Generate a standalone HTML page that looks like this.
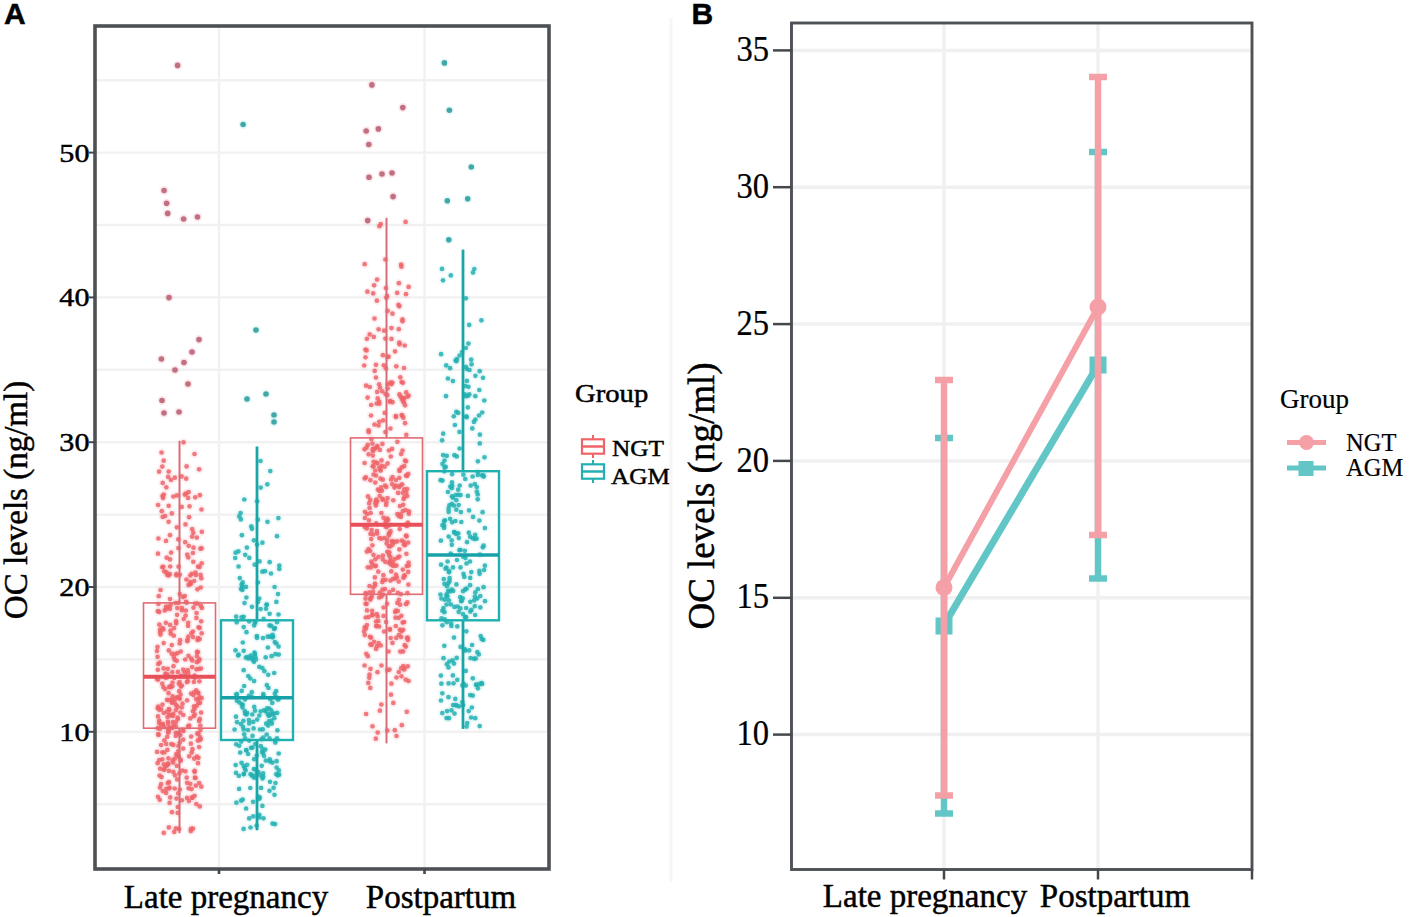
<!DOCTYPE html><html><head><meta charset="utf-8"><style>text{stroke:#000;stroke-width:0.45px}html,body{margin:0;padding:0;background:#fff;width:1410px;height:917px;overflow:hidden}svg{display:block}</style></head><body><svg width="1410" height="917" viewBox="0 0 1410 917">
<rect x="0" y="0" width="1410" height="917" fill="#fff"/>
<line x1="95" y1="804.2" x2="549" y2="804.2" stroke="#f1f1f1" stroke-width="2.4"/>
<line x1="95" y1="731.8" x2="549" y2="731.8" stroke="#f1f1f1" stroke-width="2.4"/>
<line x1="95" y1="659.4" x2="549" y2="659.4" stroke="#f1f1f1" stroke-width="2.4"/>
<line x1="95" y1="587.0" x2="549" y2="587.0" stroke="#f1f1f1" stroke-width="2.4"/>
<line x1="95" y1="514.6" x2="549" y2="514.6" stroke="#f1f1f1" stroke-width="2.4"/>
<line x1="95" y1="442.2" x2="549" y2="442.2" stroke="#f1f1f1" stroke-width="2.4"/>
<line x1="95" y1="369.8" x2="549" y2="369.8" stroke="#f1f1f1" stroke-width="2.4"/>
<line x1="95" y1="297.4" x2="549" y2="297.4" stroke="#f1f1f1" stroke-width="2.4"/>
<line x1="95" y1="225.0" x2="549" y2="225.0" stroke="#f1f1f1" stroke-width="2.4"/>
<line x1="95" y1="152.6" x2="549" y2="152.6" stroke="#f1f1f1" stroke-width="2.4"/>
<line x1="95" y1="80.2" x2="549" y2="80.2" stroke="#f1f1f1" stroke-width="2.4"/>
<line x1="219" y1="26" x2="219" y2="869" stroke="#f1f1f1" stroke-width="2.4"/>
<line x1="424.5" y1="26" x2="424.5" y2="869" stroke="#f1f1f1" stroke-width="2.4"/>
<circle cx="163.8" cy="713.0" r="4.2" fill="#f8c0c8" fill-opacity="0.25"/>
<circle cx="160.3" cy="632.2" r="4.2" fill="#f8c0c8" fill-opacity="0.25"/>
<circle cx="173.5" cy="666.2" r="4.2" fill="#f8c0c8" fill-opacity="0.25"/>
<circle cx="179.8" cy="789.5" r="4.2" fill="#f8c0c8" fill-opacity="0.25"/>
<circle cx="176.5" cy="798.6" r="4.2" fill="#f8c0c8" fill-opacity="0.25"/>
<circle cx="161.1" cy="784.2" r="4.2" fill="#f8c0c8" fill-opacity="0.25"/>
<circle cx="194.2" cy="692.3" r="4.2" fill="#f8c0c8" fill-opacity="0.25"/>
<circle cx="167.0" cy="765.3" r="4.2" fill="#f8c0c8" fill-opacity="0.25"/>
<circle cx="199.6" cy="639.1" r="4.2" fill="#f8c0c8" fill-opacity="0.25"/>
<circle cx="174.9" cy="654.0" r="4.2" fill="#f8c0c8" fill-opacity="0.25"/>
<circle cx="159.1" cy="471.7" r="4.2" fill="#f8c0c8" fill-opacity="0.25"/>
<circle cx="170.0" cy="559.4" r="4.2" fill="#f8c0c8" fill-opacity="0.25"/>
<circle cx="162.3" cy="759.3" r="4.2" fill="#f8c0c8" fill-opacity="0.25"/>
<circle cx="193.7" cy="716.2" r="4.2" fill="#f8c0c8" fill-opacity="0.25"/>
<circle cx="183.2" cy="748.6" r="4.2" fill="#f8c0c8" fill-opacity="0.25"/>
<circle cx="173.8" cy="635.7" r="4.2" fill="#f8c0c8" fill-opacity="0.25"/>
<circle cx="159.8" cy="662.7" r="4.2" fill="#f8c0c8" fill-opacity="0.25"/>
<circle cx="166.3" cy="788.8" r="4.2" fill="#f8c0c8" fill-opacity="0.25"/>
<circle cx="176.2" cy="623.5" r="4.2" fill="#f8c0c8" fill-opacity="0.25"/>
<circle cx="183.4" cy="715.0" r="4.2" fill="#f8c0c8" fill-opacity="0.25"/>
<circle cx="170.5" cy="686.4" r="4.2" fill="#f8c0c8" fill-opacity="0.25"/>
<circle cx="188.5" cy="585.1" r="4.2" fill="#f8c0c8" fill-opacity="0.25"/>
<circle cx="182.8" cy="729.9" r="4.2" fill="#f8c0c8" fill-opacity="0.25"/>
<circle cx="196.4" cy="669.3" r="4.2" fill="#f8c0c8" fill-opacity="0.25"/>
<circle cx="170.0" cy="609.0" r="4.2" fill="#f8c0c8" fill-opacity="0.25"/>
<circle cx="162.3" cy="466.6" r="4.2" fill="#f8c0c8" fill-opacity="0.25"/>
<circle cx="191.1" cy="693.6" r="4.2" fill="#f8c0c8" fill-opacity="0.25"/>
<circle cx="179.0" cy="757.0" r="4.2" fill="#f8c0c8" fill-opacity="0.25"/>
<circle cx="187.1" cy="797.9" r="4.2" fill="#f8c0c8" fill-opacity="0.25"/>
<circle cx="182.8" cy="597.1" r="4.2" fill="#f8c0c8" fill-opacity="0.25"/>
<circle cx="171.1" cy="552.6" r="4.2" fill="#f8c0c8" fill-opacity="0.25"/>
<circle cx="183.7" cy="619.1" r="4.2" fill="#f8c0c8" fill-opacity="0.25"/>
<circle cx="177.5" cy="653.2" r="4.2" fill="#f8c0c8" fill-opacity="0.25"/>
<circle cx="199.5" cy="566.9" r="4.2" fill="#f8c0c8" fill-opacity="0.25"/>
<circle cx="186.9" cy="682.1" r="4.2" fill="#f8c0c8" fill-opacity="0.25"/>
<circle cx="188.6" cy="788.3" r="4.2" fill="#f8c0c8" fill-opacity="0.25"/>
<circle cx="201.7" cy="633.3" r="4.2" fill="#f8c0c8" fill-opacity="0.25"/>
<circle cx="169.8" cy="574.1" r="4.2" fill="#f8c0c8" fill-opacity="0.25"/>
<circle cx="187.1" cy="700.3" r="4.2" fill="#f8c0c8" fill-opacity="0.25"/>
<circle cx="177.8" cy="807.0" r="4.2" fill="#f8c0c8" fill-opacity="0.25"/>
<circle cx="162.3" cy="752.3" r="4.2" fill="#f8c0c8" fill-opacity="0.25"/>
<circle cx="191.6" cy="789.1" r="4.2" fill="#f8c0c8" fill-opacity="0.25"/>
<circle cx="168.1" cy="763.7" r="4.2" fill="#f8c0c8" fill-opacity="0.25"/>
<circle cx="196.2" cy="699.2" r="4.2" fill="#f8c0c8" fill-opacity="0.25"/>
<circle cx="177.2" cy="779.4" r="4.2" fill="#f8c0c8" fill-opacity="0.25"/>
<circle cx="196.8" cy="662.2" r="4.2" fill="#f8c0c8" fill-opacity="0.25"/>
<circle cx="195.9" cy="575.1" r="4.2" fill="#f8c0c8" fill-opacity="0.25"/>
<circle cx="175.7" cy="722.3" r="4.2" fill="#f8c0c8" fill-opacity="0.25"/>
<circle cx="196.8" cy="705.8" r="4.2" fill="#f8c0c8" fill-opacity="0.25"/>
<circle cx="163.8" cy="494.5" r="4.2" fill="#f8c0c8" fill-opacity="0.25"/>
<circle cx="167.4" cy="749.9" r="4.2" fill="#f8c0c8" fill-opacity="0.25"/>
<circle cx="178.8" cy="733.1" r="4.2" fill="#f8c0c8" fill-opacity="0.25"/>
<circle cx="168.8" cy="650.4" r="4.2" fill="#f8c0c8" fill-opacity="0.25"/>
<circle cx="175.9" cy="828.4" r="4.2" fill="#f8c0c8" fill-opacity="0.25"/>
<circle cx="182.5" cy="703.7" r="4.2" fill="#f8c0c8" fill-opacity="0.25"/>
<circle cx="188.1" cy="497.9" r="4.2" fill="#f8c0c8" fill-opacity="0.25"/>
<circle cx="184.8" cy="672.2" r="4.2" fill="#f8c0c8" fill-opacity="0.25"/>
<circle cx="159.4" cy="624.7" r="4.2" fill="#f8c0c8" fill-opacity="0.25"/>
<circle cx="192.1" cy="536.7" r="4.2" fill="#f8c0c8" fill-opacity="0.25"/>
<circle cx="192.9" cy="553.0" r="4.2" fill="#f8c0c8" fill-opacity="0.25"/>
<circle cx="175.0" cy="698.9" r="4.2" fill="#f8c0c8" fill-opacity="0.25"/>
<circle cx="185.5" cy="771.3" r="4.2" fill="#f8c0c8" fill-opacity="0.25"/>
<circle cx="160.0" cy="787.6" r="4.2" fill="#f8c0c8" fill-opacity="0.25"/>
<circle cx="164.3" cy="740.3" r="4.2" fill="#f8c0c8" fill-opacity="0.25"/>
<circle cx="159.4" cy="709.7" r="4.2" fill="#f8c0c8" fill-opacity="0.25"/>
<circle cx="163.8" cy="832.9" r="4.2" fill="#f8c0c8" fill-opacity="0.25"/>
<circle cx="173.4" cy="771.9" r="4.2" fill="#f8c0c8" fill-opacity="0.25"/>
<circle cx="196.3" cy="804.0" r="4.2" fill="#f8c0c8" fill-opacity="0.25"/>
<circle cx="163.7" cy="643.1" r="4.2" fill="#f8c0c8" fill-opacity="0.25"/>
<circle cx="172.6" cy="727.7" r="4.2" fill="#f8c0c8" fill-opacity="0.25"/>
<circle cx="162.5" cy="704.7" r="4.2" fill="#f8c0c8" fill-opacity="0.25"/>
<circle cx="201.7" cy="563.3" r="4.2" fill="#f8c0c8" fill-opacity="0.25"/>
<circle cx="178.8" cy="683.8" r="4.2" fill="#f8c0c8" fill-opacity="0.25"/>
<circle cx="161.6" cy="777.1" r="4.2" fill="#f8c0c8" fill-opacity="0.25"/>
<circle cx="168.9" cy="709.1" r="4.2" fill="#f8c0c8" fill-opacity="0.25"/>
<circle cx="164.3" cy="571.3" r="4.2" fill="#f8c0c8" fill-opacity="0.25"/>
<circle cx="199.8" cy="806.4" r="4.2" fill="#f8c0c8" fill-opacity="0.25"/>
<circle cx="163.6" cy="668.4" r="4.2" fill="#f8c0c8" fill-opacity="0.25"/>
<circle cx="158.2" cy="664.0" r="4.2" fill="#f8c0c8" fill-opacity="0.25"/>
<circle cx="201.0" cy="668.5" r="4.2" fill="#f8c0c8" fill-opacity="0.25"/>
<circle cx="188.3" cy="557.5" r="4.2" fill="#f8c0c8" fill-opacity="0.25"/>
<circle cx="173.5" cy="725.9" r="4.2" fill="#f8c0c8" fill-opacity="0.25"/>
<circle cx="191.7" cy="752.6" r="4.2" fill="#f8c0c8" fill-opacity="0.25"/>
<circle cx="192.1" cy="667.1" r="4.2" fill="#f8c0c8" fill-opacity="0.25"/>
<circle cx="167.0" cy="711.8" r="4.2" fill="#f8c0c8" fill-opacity="0.25"/>
<circle cx="201.3" cy="578.3" r="4.2" fill="#f8c0c8" fill-opacity="0.25"/>
<circle cx="193.3" cy="561.8" r="4.2" fill="#f8c0c8" fill-opacity="0.25"/>
<circle cx="190.3" cy="575.5" r="4.2" fill="#f8c0c8" fill-opacity="0.25"/>
<circle cx="180.3" cy="735.0" r="4.2" fill="#f8c0c8" fill-opacity="0.25"/>
<circle cx="158.3" cy="706.5" r="4.2" fill="#f8c0c8" fill-opacity="0.25"/>
<circle cx="169.6" cy="802.9" r="4.2" fill="#f8c0c8" fill-opacity="0.25"/>
<circle cx="188.2" cy="726.3" r="4.2" fill="#f8c0c8" fill-opacity="0.25"/>
<circle cx="177.1" cy="495.4" r="4.2" fill="#f8c0c8" fill-opacity="0.25"/>
<circle cx="201.5" cy="509.5" r="4.2" fill="#f8c0c8" fill-opacity="0.25"/>
<circle cx="173.4" cy="496.5" r="4.2" fill="#f8c0c8" fill-opacity="0.25"/>
<circle cx="167.2" cy="736.9" r="4.2" fill="#f8c0c8" fill-opacity="0.25"/>
<circle cx="166.2" cy="743.9" r="4.2" fill="#f8c0c8" fill-opacity="0.25"/>
<circle cx="197.5" cy="640.1" r="4.2" fill="#f8c0c8" fill-opacity="0.25"/>
<circle cx="178.6" cy="566.7" r="4.2" fill="#f8c0c8" fill-opacity="0.25"/>
<circle cx="193.0" cy="631.6" r="4.2" fill="#f8c0c8" fill-opacity="0.25"/>
<circle cx="186.7" cy="777.6" r="4.2" fill="#f8c0c8" fill-opacity="0.25"/>
<circle cx="192.2" cy="529.2" r="4.2" fill="#f8c0c8" fill-opacity="0.25"/>
<circle cx="178.5" cy="602.9" r="4.2" fill="#f8c0c8" fill-opacity="0.25"/>
<circle cx="192.5" cy="749.2" r="4.2" fill="#f8c0c8" fill-opacity="0.25"/>
<circle cx="193.0" cy="711.2" r="4.2" fill="#f8c0c8" fill-opacity="0.25"/>
<circle cx="174.8" cy="477.7" r="4.2" fill="#f8c0c8" fill-opacity="0.25"/>
<circle cx="199.6" cy="697.1" r="4.2" fill="#f8c0c8" fill-opacity="0.25"/>
<circle cx="164.7" cy="610.4" r="4.2" fill="#f8c0c8" fill-opacity="0.25"/>
<circle cx="163.8" cy="764.3" r="4.2" fill="#f8c0c8" fill-opacity="0.25"/>
<circle cx="193.3" cy="532.8" r="4.2" fill="#f8c0c8" fill-opacity="0.25"/>
<circle cx="194.2" cy="758.7" r="4.2" fill="#f8c0c8" fill-opacity="0.25"/>
<circle cx="186.6" cy="466.4" r="4.2" fill="#f8c0c8" fill-opacity="0.25"/>
<circle cx="181.7" cy="707.5" r="4.2" fill="#f8c0c8" fill-opacity="0.25"/>
<circle cx="157.6" cy="763.2" r="4.2" fill="#f8c0c8" fill-opacity="0.25"/>
<circle cx="186.2" cy="478.7" r="4.2" fill="#f8c0c8" fill-opacity="0.25"/>
<circle cx="199.0" cy="668.9" r="4.2" fill="#f8c0c8" fill-opacity="0.25"/>
<circle cx="196.2" cy="690.4" r="4.2" fill="#f8c0c8" fill-opacity="0.25"/>
<circle cx="166.5" cy="572.4" r="4.2" fill="#f8c0c8" fill-opacity="0.25"/>
<circle cx="170.2" cy="727.8" r="4.2" fill="#f8c0c8" fill-opacity="0.25"/>
<circle cx="183.4" cy="731.0" r="4.2" fill="#f8c0c8" fill-opacity="0.25"/>
<circle cx="175.9" cy="726.3" r="4.2" fill="#f8c0c8" fill-opacity="0.25"/>
<circle cx="198.0" cy="763.2" r="4.2" fill="#f8c0c8" fill-opacity="0.25"/>
<circle cx="177.6" cy="706.8" r="4.2" fill="#f8c0c8" fill-opacity="0.25"/>
<circle cx="197.7" cy="652.2" r="4.2" fill="#f8c0c8" fill-opacity="0.25"/>
<circle cx="198.3" cy="693.1" r="4.2" fill="#f8c0c8" fill-opacity="0.25"/>
<circle cx="180.9" cy="676.3" r="4.2" fill="#f8c0c8" fill-opacity="0.25"/>
<circle cx="157.8" cy="669.8" r="4.2" fill="#f8c0c8" fill-opacity="0.25"/>
<circle cx="165.2" cy="689.1" r="4.2" fill="#f8c0c8" fill-opacity="0.25"/>
<circle cx="193.0" cy="828.6" r="4.2" fill="#f8c0c8" fill-opacity="0.25"/>
<circle cx="178.3" cy="751.0" r="4.2" fill="#f8c0c8" fill-opacity="0.25"/>
<circle cx="182.0" cy="610.3" r="4.2" fill="#f8c0c8" fill-opacity="0.25"/>
<circle cx="180.3" cy="712.6" r="4.2" fill="#f8c0c8" fill-opacity="0.25"/>
<circle cx="192.3" cy="660.4" r="4.2" fill="#f8c0c8" fill-opacity="0.25"/>
<circle cx="182.2" cy="770.5" r="4.2" fill="#f8c0c8" fill-opacity="0.25"/>
<circle cx="169.5" cy="728.6" r="4.2" fill="#f8c0c8" fill-opacity="0.25"/>
<circle cx="179.8" cy="594.0" r="4.2" fill="#f8c0c8" fill-opacity="0.25"/>
<circle cx="191.2" cy="658.5" r="4.2" fill="#f8c0c8" fill-opacity="0.25"/>
<circle cx="176.9" cy="527.3" r="4.2" fill="#f8c0c8" fill-opacity="0.25"/>
<circle cx="179.7" cy="643.5" r="4.2" fill="#f8c0c8" fill-opacity="0.25"/>
<circle cx="188.2" cy="673.2" r="4.2" fill="#f8c0c8" fill-opacity="0.25"/>
<circle cx="181.0" cy="686.6" r="4.2" fill="#f8c0c8" fill-opacity="0.25"/>
<circle cx="199.4" cy="681.3" r="4.2" fill="#f8c0c8" fill-opacity="0.25"/>
<circle cx="196.4" cy="617.9" r="4.2" fill="#f8c0c8" fill-opacity="0.25"/>
<circle cx="168.7" cy="505.8" r="4.2" fill="#f8c0c8" fill-opacity="0.25"/>
<circle cx="199.4" cy="659.2" r="4.2" fill="#f8c0c8" fill-opacity="0.25"/>
<circle cx="163.2" cy="566.8" r="4.2" fill="#f8c0c8" fill-opacity="0.25"/>
<circle cx="176.9" cy="765.9" r="4.2" fill="#f8c0c8" fill-opacity="0.25"/>
<circle cx="167.8" cy="783.0" r="4.2" fill="#f8c0c8" fill-opacity="0.25"/>
<circle cx="187.1" cy="782.8" r="4.2" fill="#f8c0c8" fill-opacity="0.25"/>
<circle cx="197.4" cy="589.3" r="4.2" fill="#f8c0c8" fill-opacity="0.25"/>
<circle cx="189.2" cy="756.3" r="4.2" fill="#f8c0c8" fill-opacity="0.25"/>
<circle cx="163.4" cy="629.4" r="4.2" fill="#f8c0c8" fill-opacity="0.25"/>
<circle cx="200.5" cy="548.7" r="4.2" fill="#f8c0c8" fill-opacity="0.25"/>
<circle cx="199.9" cy="737.1" r="4.2" fill="#f8c0c8" fill-opacity="0.25"/>
<circle cx="178.9" cy="697.7" r="4.2" fill="#f8c0c8" fill-opacity="0.25"/>
<circle cx="194.5" cy="454.0" r="4.2" fill="#f8c0c8" fill-opacity="0.25"/>
<circle cx="176.4" cy="754.2" r="4.2" fill="#f8c0c8" fill-opacity="0.25"/>
<circle cx="172.3" cy="672.2" r="4.2" fill="#f8c0c8" fill-opacity="0.25"/>
<circle cx="171.3" cy="744.1" r="4.2" fill="#f8c0c8" fill-opacity="0.25"/>
<circle cx="157.9" cy="611.2" r="4.2" fill="#f8c0c8" fill-opacity="0.25"/>
<circle cx="176.8" cy="660.8" r="4.2" fill="#f8c0c8" fill-opacity="0.25"/>
<circle cx="171.9" cy="812.2" r="4.2" fill="#f8c0c8" fill-opacity="0.25"/>
<circle cx="180.1" cy="640.2" r="4.2" fill="#f8c0c8" fill-opacity="0.25"/>
<circle cx="201.3" cy="786.7" r="4.2" fill="#f8c0c8" fill-opacity="0.25"/>
<circle cx="200.7" cy="587.5" r="4.2" fill="#f8c0c8" fill-opacity="0.25"/>
<circle cx="169.0" cy="770.9" r="4.2" fill="#f8c0c8" fill-opacity="0.25"/>
<circle cx="192.1" cy="797.7" r="4.2" fill="#f8c0c8" fill-opacity="0.25"/>
<circle cx="162.8" cy="724.0" r="4.2" fill="#f8c0c8" fill-opacity="0.25"/>
<circle cx="198.0" cy="692.8" r="4.2" fill="#f8c0c8" fill-opacity="0.25"/>
<circle cx="168.6" cy="575.3" r="4.2" fill="#f8c0c8" fill-opacity="0.25"/>
<circle cx="198.4" cy="757.8" r="4.2" fill="#f8c0c8" fill-opacity="0.25"/>
<circle cx="188.5" cy="655.9" r="4.2" fill="#f8c0c8" fill-opacity="0.25"/>
<circle cx="159.6" cy="775.5" r="4.2" fill="#f8c0c8" fill-opacity="0.25"/>
<circle cx="176.1" cy="621.2" r="4.2" fill="#f8c0c8" fill-opacity="0.25"/>
<circle cx="199.2" cy="783.1" r="4.2" fill="#f8c0c8" fill-opacity="0.25"/>
<circle cx="193.1" cy="637.1" r="4.2" fill="#f8c0c8" fill-opacity="0.25"/>
<circle cx="195.5" cy="778.0" r="4.2" fill="#f8c0c8" fill-opacity="0.25"/>
<circle cx="195.8" cy="785.7" r="4.2" fill="#f8c0c8" fill-opacity="0.25"/>
<circle cx="172.3" cy="686.3" r="4.2" fill="#f8c0c8" fill-opacity="0.25"/>
<circle cx="198.7" cy="661.1" r="4.2" fill="#f8c0c8" fill-opacity="0.25"/>
<circle cx="162.8" cy="724.5" r="4.2" fill="#f8c0c8" fill-opacity="0.25"/>
<circle cx="167.7" cy="668.8" r="4.2" fill="#f8c0c8" fill-opacity="0.25"/>
<circle cx="164.3" cy="769.5" r="4.2" fill="#f8c0c8" fill-opacity="0.25"/>
<circle cx="166.1" cy="792.9" r="4.2" fill="#f8c0c8" fill-opacity="0.25"/>
<circle cx="170.7" cy="715.4" r="4.2" fill="#f8c0c8" fill-opacity="0.25"/>
<circle cx="170.0" cy="599.1" r="4.2" fill="#f8c0c8" fill-opacity="0.25"/>
<circle cx="165.0" cy="676.7" r="4.2" fill="#f8c0c8" fill-opacity="0.25"/>
<circle cx="157.8" cy="708.2" r="4.2" fill="#f8c0c8" fill-opacity="0.25"/>
<circle cx="157.7" cy="728.1" r="4.2" fill="#f8c0c8" fill-opacity="0.25"/>
<circle cx="181.8" cy="607.9" r="4.2" fill="#f8c0c8" fill-opacity="0.25"/>
<circle cx="178.4" cy="746.0" r="4.2" fill="#f8c0c8" fill-opacity="0.25"/>
<circle cx="161.8" cy="511.2" r="4.2" fill="#f8c0c8" fill-opacity="0.25"/>
<circle cx="176.4" cy="575.3" r="4.2" fill="#f8c0c8" fill-opacity="0.25"/>
<circle cx="194.6" cy="677.8" r="4.2" fill="#f8c0c8" fill-opacity="0.25"/>
<circle cx="179.8" cy="698.8" r="4.2" fill="#f8c0c8" fill-opacity="0.25"/>
<circle cx="201.2" cy="621.3" r="4.2" fill="#f8c0c8" fill-opacity="0.25"/>
<circle cx="194.5" cy="709.1" r="4.2" fill="#f8c0c8" fill-opacity="0.25"/>
<circle cx="185.6" cy="615.7" r="4.2" fill="#f8c0c8" fill-opacity="0.25"/>
<circle cx="172.6" cy="696.4" r="4.2" fill="#f8c0c8" fill-opacity="0.25"/>
<circle cx="162.8" cy="791.1" r="4.2" fill="#f8c0c8" fill-opacity="0.25"/>
<circle cx="190.3" cy="783.8" r="4.2" fill="#f8c0c8" fill-opacity="0.25"/>
<circle cx="164.3" cy="727.0" r="4.2" fill="#f8c0c8" fill-opacity="0.25"/>
<circle cx="194.9" cy="777.7" r="4.2" fill="#f8c0c8" fill-opacity="0.25"/>
<circle cx="187.2" cy="554.6" r="4.2" fill="#f8c0c8" fill-opacity="0.25"/>
<circle cx="167.9" cy="721.6" r="4.2" fill="#f8c0c8" fill-opacity="0.25"/>
<circle cx="177.7" cy="719.3" r="4.2" fill="#f8c0c8" fill-opacity="0.25"/>
<circle cx="177.1" cy="755.4" r="4.2" fill="#f8c0c8" fill-opacity="0.25"/>
<circle cx="200.3" cy="725.5" r="4.2" fill="#f8c0c8" fill-opacity="0.25"/>
<circle cx="181.6" cy="476.4" r="4.2" fill="#f8c0c8" fill-opacity="0.25"/>
<circle cx="200.5" cy="729.8" r="4.2" fill="#f8c0c8" fill-opacity="0.25"/>
<circle cx="173.0" cy="715.9" r="4.2" fill="#f8c0c8" fill-opacity="0.25"/>
<circle cx="174.2" cy="831.9" r="4.2" fill="#f8c0c8" fill-opacity="0.25"/>
<circle cx="179.6" cy="682.0" r="4.2" fill="#f8c0c8" fill-opacity="0.25"/>
<circle cx="179.7" cy="742.6" r="4.2" fill="#f8c0c8" fill-opacity="0.25"/>
<circle cx="168.9" cy="827.4" r="4.2" fill="#f8c0c8" fill-opacity="0.25"/>
<circle cx="175.0" cy="775.3" r="4.2" fill="#f8c0c8" fill-opacity="0.25"/>
<circle cx="158.0" cy="796.8" r="4.2" fill="#f8c0c8" fill-opacity="0.25"/>
<circle cx="167.5" cy="717.0" r="4.2" fill="#f8c0c8" fill-opacity="0.25"/>
<circle cx="180.8" cy="651.5" r="4.2" fill="#f8c0c8" fill-opacity="0.25"/>
<circle cx="186.6" cy="602.7" r="4.2" fill="#f8c0c8" fill-opacity="0.25"/>
<circle cx="196.6" cy="613.0" r="4.2" fill="#f8c0c8" fill-opacity="0.25"/>
<circle cx="171.7" cy="699.5" r="4.2" fill="#f8c0c8" fill-opacity="0.25"/>
<circle cx="163.7" cy="460.7" r="4.2" fill="#f8c0c8" fill-opacity="0.25"/>
<circle cx="185.9" cy="610.6" r="4.2" fill="#f8c0c8" fill-opacity="0.25"/>
<circle cx="194.6" cy="795.8" r="4.2" fill="#f8c0c8" fill-opacity="0.25"/>
<circle cx="185.2" cy="542.2" r="4.2" fill="#f8c0c8" fill-opacity="0.25"/>
<circle cx="193.5" cy="607.7" r="4.2" fill="#f8c0c8" fill-opacity="0.25"/>
<circle cx="180.6" cy="760.7" r="4.2" fill="#f8c0c8" fill-opacity="0.25"/>
<circle cx="194.6" cy="675.5" r="4.2" fill="#f8c0c8" fill-opacity="0.25"/>
<circle cx="194.2" cy="581.0" r="4.2" fill="#f8c0c8" fill-opacity="0.25"/>
<circle cx="197.2" cy="651.9" r="4.2" fill="#f8c0c8" fill-opacity="0.25"/>
<circle cx="188.2" cy="622.8" r="4.2" fill="#f8c0c8" fill-opacity="0.25"/>
<circle cx="158.4" cy="734.1" r="4.2" fill="#f8c0c8" fill-opacity="0.25"/>
<circle cx="173.2" cy="762.6" r="4.2" fill="#f8c0c8" fill-opacity="0.25"/>
<circle cx="194.6" cy="770.9" r="4.2" fill="#f8c0c8" fill-opacity="0.25"/>
<circle cx="185.2" cy="659.5" r="4.2" fill="#f8c0c8" fill-opacity="0.25"/>
<circle cx="187.6" cy="639.5" r="4.2" fill="#f8c0c8" fill-opacity="0.25"/>
<circle cx="157.1" cy="679.0" r="4.2" fill="#f8c0c8" fill-opacity="0.25"/>
<circle cx="190.7" cy="583.8" r="4.2" fill="#f8c0c8" fill-opacity="0.25"/>
<circle cx="181.1" cy="675.9" r="4.2" fill="#f8c0c8" fill-opacity="0.25"/>
<circle cx="160.0" cy="629.7" r="4.2" fill="#f8c0c8" fill-opacity="0.25"/>
<circle cx="168.3" cy="606.8" r="4.2" fill="#f8c0c8" fill-opacity="0.25"/>
<circle cx="169.0" cy="782.2" r="4.2" fill="#f8c0c8" fill-opacity="0.25"/>
<circle cx="166.2" cy="609.0" r="4.2" fill="#f8c0c8" fill-opacity="0.25"/>
<circle cx="200.9" cy="605.9" r="4.2" fill="#f8c0c8" fill-opacity="0.25"/>
<circle cx="174.2" cy="678.0" r="4.2" fill="#f8c0c8" fill-opacity="0.25"/>
<circle cx="187.8" cy="681.1" r="4.2" fill="#f8c0c8" fill-opacity="0.25"/>
<circle cx="184.8" cy="596.1" r="4.2" fill="#f8c0c8" fill-opacity="0.25"/>
<circle cx="160.5" cy="634.6" r="4.2" fill="#f8c0c8" fill-opacity="0.25"/>
<circle cx="168.4" cy="758.3" r="4.2" fill="#f8c0c8" fill-opacity="0.25"/>
<circle cx="170.7" cy="604.9" r="4.2" fill="#f8c0c8" fill-opacity="0.25"/>
<circle cx="157.6" cy="656.8" r="4.2" fill="#f8c0c8" fill-opacity="0.25"/>
<circle cx="169.1" cy="788.3" r="4.2" fill="#f8c0c8" fill-opacity="0.25"/>
<circle cx="188.1" cy="626.0" r="4.2" fill="#f8c0c8" fill-opacity="0.25"/>
<circle cx="170.1" cy="624.9" r="4.2" fill="#f8c0c8" fill-opacity="0.25"/>
<circle cx="177.9" cy="671.9" r="4.2" fill="#f8c0c8" fill-opacity="0.25"/>
<circle cx="162.3" cy="683.7" r="4.2" fill="#f8c0c8" fill-opacity="0.25"/>
<circle cx="166.0" cy="540.9" r="4.2" fill="#f8c0c8" fill-opacity="0.25"/>
<circle cx="199.1" cy="469.3" r="4.2" fill="#f8c0c8" fill-opacity="0.25"/>
<circle cx="177.7" cy="812.9" r="4.2" fill="#f8c0c8" fill-opacity="0.25"/>
<circle cx="200.6" cy="574.9" r="4.2" fill="#f8c0c8" fill-opacity="0.25"/>
<circle cx="169.1" cy="687.2" r="4.2" fill="#f8c0c8" fill-opacity="0.25"/>
<circle cx="199.6" cy="740.0" r="4.2" fill="#f8c0c8" fill-opacity="0.25"/>
<circle cx="183.2" cy="739.7" r="4.2" fill="#f8c0c8" fill-opacity="0.25"/>
<circle cx="180.6" cy="760.0" r="4.2" fill="#f8c0c8" fill-opacity="0.25"/>
<circle cx="163.0" cy="498.1" r="4.2" fill="#f8c0c8" fill-opacity="0.25"/>
<circle cx="179.9" cy="574.8" r="4.2" fill="#f8c0c8" fill-opacity="0.25"/>
<circle cx="188.7" cy="545.8" r="4.2" fill="#f8c0c8" fill-opacity="0.25"/>
<circle cx="197.4" cy="733.7" r="4.2" fill="#f8c0c8" fill-opacity="0.25"/>
<circle cx="158.1" cy="679.6" r="4.2" fill="#f8c0c8" fill-opacity="0.25"/>
<circle cx="179.1" cy="829.0" r="4.2" fill="#f8c0c8" fill-opacity="0.25"/>
<circle cx="170.6" cy="686.9" r="4.2" fill="#f8c0c8" fill-opacity="0.25"/>
<circle cx="172.5" cy="760.3" r="4.2" fill="#f8c0c8" fill-opacity="0.25"/>
<circle cx="194.8" cy="714.6" r="4.2" fill="#f8c0c8" fill-opacity="0.25"/>
<circle cx="190.8" cy="831.1" r="4.2" fill="#f8c0c8" fill-opacity="0.25"/>
<circle cx="162.4" cy="567.2" r="4.2" fill="#f8c0c8" fill-opacity="0.25"/>
<circle cx="189.1" cy="517.2" r="4.2" fill="#f8c0c8" fill-opacity="0.25"/>
<circle cx="170.0" cy="535.2" r="4.2" fill="#f8c0c8" fill-opacity="0.25"/>
<circle cx="174.7" cy="703.0" r="4.2" fill="#f8c0c8" fill-opacity="0.25"/>
<circle cx="183.5" cy="442.3" r="4.2" fill="#f8c0c8" fill-opacity="0.25"/>
<circle cx="176.3" cy="705.4" r="4.2" fill="#f8c0c8" fill-opacity="0.25"/>
<circle cx="159.2" cy="723.0" r="4.2" fill="#f8c0c8" fill-opacity="0.25"/>
<circle cx="194.6" cy="771.8" r="4.2" fill="#f8c0c8" fill-opacity="0.25"/>
<circle cx="199.1" cy="720.9" r="4.2" fill="#f8c0c8" fill-opacity="0.25"/>
<circle cx="169.0" cy="728.4" r="4.2" fill="#f8c0c8" fill-opacity="0.25"/>
<circle cx="165.5" cy="673.5" r="4.2" fill="#f8c0c8" fill-opacity="0.25"/>
<circle cx="200.0" cy="702.8" r="4.2" fill="#f8c0c8" fill-opacity="0.25"/>
<circle cx="193.5" cy="547.7" r="4.2" fill="#f8c0c8" fill-opacity="0.25"/>
<circle cx="198.1" cy="638.1" r="4.2" fill="#f8c0c8" fill-opacity="0.25"/>
<circle cx="181.7" cy="506.9" r="4.2" fill="#f8c0c8" fill-opacity="0.25"/>
<circle cx="159.2" cy="611.9" r="4.2" fill="#f8c0c8" fill-opacity="0.25"/>
<circle cx="177.3" cy="608.1" r="4.2" fill="#f8c0c8" fill-opacity="0.25"/>
<circle cx="186.0" cy="601.9" r="4.2" fill="#f8c0c8" fill-opacity="0.25"/>
<circle cx="159.2" cy="720.7" r="4.2" fill="#f8c0c8" fill-opacity="0.25"/>
<circle cx="162.7" cy="516.9" r="4.2" fill="#f8c0c8" fill-opacity="0.25"/>
<circle cx="172.5" cy="682.5" r="4.2" fill="#f8c0c8" fill-opacity="0.25"/>
<circle cx="190.3" cy="718.4" r="4.2" fill="#f8c0c8" fill-opacity="0.25"/>
<circle cx="168.7" cy="471.6" r="4.2" fill="#f8c0c8" fill-opacity="0.25"/>
<circle cx="170.5" cy="630.7" r="4.2" fill="#f8c0c8" fill-opacity="0.25"/>
<circle cx="174.7" cy="659.8" r="4.2" fill="#f8c0c8" fill-opacity="0.25"/>
<circle cx="164.3" cy="752.5" r="4.2" fill="#f8c0c8" fill-opacity="0.25"/>
<circle cx="197.8" cy="740.6" r="4.2" fill="#f8c0c8" fill-opacity="0.25"/>
<circle cx="166.9" cy="677.4" r="4.2" fill="#f8c0c8" fill-opacity="0.25"/>
<circle cx="201.8" cy="531.8" r="4.2" fill="#f8c0c8" fill-opacity="0.25"/>
<circle cx="163.3" cy="687.1" r="4.2" fill="#f8c0c8" fill-opacity="0.25"/>
<circle cx="161.1" cy="745.1" r="4.2" fill="#f8c0c8" fill-opacity="0.25"/>
<circle cx="161.1" cy="709.3" r="4.2" fill="#f8c0c8" fill-opacity="0.25"/>
<circle cx="168.6" cy="731.4" r="4.2" fill="#f8c0c8" fill-opacity="0.25"/>
<circle cx="196.9" cy="656.2" r="4.2" fill="#f8c0c8" fill-opacity="0.25"/>
<circle cx="175.6" cy="603.0" r="4.2" fill="#f8c0c8" fill-opacity="0.25"/>
<circle cx="180.6" cy="694.5" r="4.2" fill="#f8c0c8" fill-opacity="0.25"/>
<circle cx="172.2" cy="702.1" r="4.2" fill="#f8c0c8" fill-opacity="0.25"/>
<circle cx="169.5" cy="787.7" r="4.2" fill="#f8c0c8" fill-opacity="0.25"/>
<circle cx="162.7" cy="482.9" r="4.2" fill="#f8c0c8" fill-opacity="0.25"/>
<circle cx="185.3" cy="675.8" r="4.2" fill="#f8c0c8" fill-opacity="0.25"/>
<circle cx="166.7" cy="557.7" r="4.2" fill="#f8c0c8" fill-opacity="0.25"/>
<circle cx="168.2" cy="723.9" r="4.2" fill="#f8c0c8" fill-opacity="0.25"/>
<circle cx="177.1" cy="697.4" r="4.2" fill="#f8c0c8" fill-opacity="0.25"/>
<circle cx="195.2" cy="497.3" r="4.2" fill="#f8c0c8" fill-opacity="0.25"/>
<circle cx="158.0" cy="553.7" r="4.2" fill="#f8c0c8" fill-opacity="0.25"/>
<circle cx="188.9" cy="801.0" r="4.2" fill="#f8c0c8" fill-opacity="0.25"/>
<circle cx="178.3" cy="539.4" r="4.2" fill="#f8c0c8" fill-opacity="0.25"/>
<circle cx="157.0" cy="651.0" r="4.2" fill="#f8c0c8" fill-opacity="0.25"/>
<circle cx="198.7" cy="699.1" r="4.2" fill="#f8c0c8" fill-opacity="0.25"/>
<circle cx="195.5" cy="572.6" r="4.2" fill="#f8c0c8" fill-opacity="0.25"/>
<circle cx="168.2" cy="476.9" r="4.2" fill="#f8c0c8" fill-opacity="0.25"/>
<circle cx="163.9" cy="769.6" r="4.2" fill="#f8c0c8" fill-opacity="0.25"/>
<circle cx="187.7" cy="670.2" r="4.2" fill="#f8c0c8" fill-opacity="0.25"/>
<circle cx="189.5" cy="506.3" r="4.2" fill="#f8c0c8" fill-opacity="0.25"/>
<circle cx="191.4" cy="633.3" r="4.2" fill="#f8c0c8" fill-opacity="0.25"/>
<circle cx="181.8" cy="685.6" r="4.2" fill="#f8c0c8" fill-opacity="0.25"/>
<circle cx="192.2" cy="797.7" r="4.2" fill="#f8c0c8" fill-opacity="0.25"/>
<circle cx="198.4" cy="733.3" r="4.2" fill="#f8c0c8" fill-opacity="0.25"/>
<circle cx="170.7" cy="633.8" r="4.2" fill="#f8c0c8" fill-opacity="0.25"/>
<circle cx="168.3" cy="764.1" r="4.2" fill="#f8c0c8" fill-opacity="0.25"/>
<circle cx="188.4" cy="636.5" r="4.2" fill="#f8c0c8" fill-opacity="0.25"/>
<circle cx="160.2" cy="768.7" r="4.2" fill="#f8c0c8" fill-opacity="0.25"/>
<circle cx="183.2" cy="669.6" r="4.2" fill="#f8c0c8" fill-opacity="0.25"/>
<circle cx="167.1" cy="699.8" r="4.2" fill="#f8c0c8" fill-opacity="0.25"/>
<circle cx="157.5" cy="646.9" r="4.2" fill="#f8c0c8" fill-opacity="0.25"/>
<circle cx="177.7" cy="717.6" r="4.2" fill="#f8c0c8" fill-opacity="0.25"/>
<circle cx="186.0" cy="493.6" r="4.2" fill="#f8c0c8" fill-opacity="0.25"/>
<circle cx="178.4" cy="548.1" r="4.2" fill="#f8c0c8" fill-opacity="0.25"/>
<circle cx="168.1" cy="732.7" r="4.2" fill="#f8c0c8" fill-opacity="0.25"/>
<circle cx="188.7" cy="492.1" r="4.2" fill="#f8c0c8" fill-opacity="0.25"/>
<circle cx="158.0" cy="716.4" r="4.2" fill="#f8c0c8" fill-opacity="0.25"/>
<circle cx="187.4" cy="677.1" r="4.2" fill="#f8c0c8" fill-opacity="0.25"/>
<circle cx="168.6" cy="693.2" r="4.2" fill="#f8c0c8" fill-opacity="0.25"/>
<circle cx="198.6" cy="627.3" r="4.2" fill="#f8c0c8" fill-opacity="0.25"/>
<circle cx="158.5" cy="735.0" r="4.2" fill="#f8c0c8" fill-opacity="0.25"/>
<circle cx="175.9" cy="710.1" r="4.2" fill="#f8c0c8" fill-opacity="0.25"/>
<circle cx="165.9" cy="622.8" r="4.2" fill="#f8c0c8" fill-opacity="0.25"/>
<circle cx="190.3" cy="584.1" r="4.2" fill="#f8c0c8" fill-opacity="0.25"/>
<circle cx="166.2" cy="675.3" r="4.2" fill="#f8c0c8" fill-opacity="0.25"/>
<circle cx="171.0" cy="480.0" r="4.2" fill="#f8c0c8" fill-opacity="0.25"/>
<circle cx="167.4" cy="574.9" r="4.2" fill="#f8c0c8" fill-opacity="0.25"/>
<circle cx="191.2" cy="736.6" r="4.2" fill="#f8c0c8" fill-opacity="0.25"/>
<circle cx="199.8" cy="718.9" r="4.2" fill="#f8c0c8" fill-opacity="0.25"/>
<circle cx="165.4" cy="677.6" r="4.2" fill="#f8c0c8" fill-opacity="0.25"/>
<circle cx="175.8" cy="736.0" r="4.2" fill="#f8c0c8" fill-opacity="0.25"/>
<circle cx="199.7" cy="627.9" r="4.2" fill="#f8c0c8" fill-opacity="0.25"/>
<circle cx="174.7" cy="758.7" r="4.2" fill="#f8c0c8" fill-opacity="0.25"/>
<circle cx="200.8" cy="739.1" r="4.2" fill="#f8c0c8" fill-opacity="0.25"/>
<circle cx="159.3" cy="760.0" r="4.2" fill="#f8c0c8" fill-opacity="0.25"/>
<circle cx="174.7" cy="788.5" r="4.2" fill="#f8c0c8" fill-opacity="0.25"/>
<circle cx="196.8" cy="537.6" r="4.2" fill="#f8c0c8" fill-opacity="0.25"/>
<circle cx="201.9" cy="608.0" r="4.2" fill="#f8c0c8" fill-opacity="0.25"/>
<circle cx="171.8" cy="513.4" r="4.2" fill="#f8c0c8" fill-opacity="0.25"/>
<circle cx="199.1" cy="747.1" r="4.2" fill="#f8c0c8" fill-opacity="0.25"/>
<circle cx="158.4" cy="604.0" r="4.2" fill="#f8c0c8" fill-opacity="0.25"/>
<circle cx="174.0" cy="628.2" r="4.2" fill="#f8c0c8" fill-opacity="0.25"/>
<circle cx="171.9" cy="702.7" r="4.2" fill="#f8c0c8" fill-opacity="0.25"/>
<circle cx="157.1" cy="751.9" r="4.2" fill="#f8c0c8" fill-opacity="0.25"/>
<circle cx="172.8" cy="722.1" r="4.2" fill="#f8c0c8" fill-opacity="0.25"/>
<circle cx="162.6" cy="496.1" r="4.2" fill="#f8c0c8" fill-opacity="0.25"/>
<circle cx="166.3" cy="487.3" r="4.2" fill="#f8c0c8" fill-opacity="0.25"/>
<circle cx="194.0" cy="706.3" r="4.2" fill="#f8c0c8" fill-opacity="0.25"/>
<circle cx="176.5" cy="574.1" r="4.2" fill="#f8c0c8" fill-opacity="0.25"/>
<circle cx="178.3" cy="793.4" r="4.2" fill="#f8c0c8" fill-opacity="0.25"/>
<circle cx="198.4" cy="702.9" r="4.2" fill="#f8c0c8" fill-opacity="0.25"/>
<circle cx="173.4" cy="744.9" r="4.2" fill="#f8c0c8" fill-opacity="0.25"/>
<circle cx="158.4" cy="538.5" r="4.2" fill="#f8c0c8" fill-opacity="0.25"/>
<circle cx="193.5" cy="695.1" r="4.2" fill="#f8c0c8" fill-opacity="0.25"/>
<circle cx="158.8" cy="596.2" r="4.2" fill="#f8c0c8" fill-opacity="0.25"/>
<circle cx="159.8" cy="799.8" r="4.2" fill="#f8c0c8" fill-opacity="0.25"/>
<circle cx="168.6" cy="521.8" r="4.2" fill="#f8c0c8" fill-opacity="0.25"/>
<circle cx="197.4" cy="603.7" r="4.2" fill="#f8c0c8" fill-opacity="0.25"/>
<circle cx="169.3" cy="709.9" r="4.2" fill="#f8c0c8" fill-opacity="0.25"/>
<circle cx="184.8" cy="494.6" r="4.2" fill="#f8c0c8" fill-opacity="0.25"/>
<circle cx="189.2" cy="725.7" r="4.2" fill="#f8c0c8" fill-opacity="0.25"/>
<circle cx="169.4" cy="714.5" r="4.2" fill="#f8c0c8" fill-opacity="0.25"/>
<circle cx="191.0" cy="828.8" r="4.2" fill="#f8c0c8" fill-opacity="0.25"/>
<circle cx="185.5" cy="524.4" r="4.2" fill="#f8c0c8" fill-opacity="0.25"/>
<circle cx="158.1" cy="505.0" r="4.2" fill="#f8c0c8" fill-opacity="0.25"/>
<circle cx="178.4" cy="732.9" r="4.2" fill="#f8c0c8" fill-opacity="0.25"/>
<circle cx="199.9" cy="495.2" r="4.2" fill="#f8c0c8" fill-opacity="0.25"/>
<circle cx="168.3" cy="700.1" r="4.2" fill="#f8c0c8" fill-opacity="0.25"/>
<circle cx="179.2" cy="691.2" r="4.2" fill="#f8c0c8" fill-opacity="0.25"/>
<circle cx="165.2" cy="516.0" r="4.2" fill="#f8c0c8" fill-opacity="0.25"/>
<circle cx="190.2" cy="581.8" r="4.2" fill="#f8c0c8" fill-opacity="0.25"/>
<circle cx="191.8" cy="573.8" r="4.2" fill="#f8c0c8" fill-opacity="0.25"/>
<circle cx="171.8" cy="645.1" r="4.2" fill="#f8c0c8" fill-opacity="0.25"/>
<circle cx="173.3" cy="713.9" r="4.2" fill="#f8c0c8" fill-opacity="0.25"/>
<circle cx="160.6" cy="590.0" r="4.2" fill="#f8c0c8" fill-opacity="0.25"/>
<circle cx="190.9" cy="743.7" r="4.2" fill="#f8c0c8" fill-opacity="0.25"/>
<circle cx="159.9" cy="729.0" r="4.2" fill="#f8c0c8" fill-opacity="0.25"/>
<circle cx="181.9" cy="800.3" r="4.2" fill="#f8c0c8" fill-opacity="0.25"/>
<circle cx="201.1" cy="712.6" r="4.2" fill="#f8c0c8" fill-opacity="0.25"/>
<circle cx="201.5" cy="548.3" r="4.2" fill="#f8c0c8" fill-opacity="0.25"/>
<circle cx="160.8" cy="725.1" r="4.2" fill="#f8c0c8" fill-opacity="0.25"/>
<circle cx="179.4" cy="773.4" r="4.2" fill="#f8c0c8" fill-opacity="0.25"/>
<circle cx="177.1" cy="614.8" r="4.2" fill="#f8c0c8" fill-opacity="0.25"/>
<circle cx="175.8" cy="732.8" r="4.2" fill="#f8c0c8" fill-opacity="0.25"/>
<circle cx="187.3" cy="641.2" r="4.2" fill="#f8c0c8" fill-opacity="0.25"/>
<circle cx="195.1" cy="603.5" r="4.2" fill="#f8c0c8" fill-opacity="0.25"/>
<circle cx="162.5" cy="628.2" r="4.2" fill="#f8c0c8" fill-opacity="0.25"/>
<circle cx="170.2" cy="566.5" r="4.2" fill="#f8c0c8" fill-opacity="0.25"/>
<circle cx="173.8" cy="657.0" r="4.2" fill="#f8c0c8" fill-opacity="0.25"/>
<circle cx="166.0" cy="606.5" r="4.2" fill="#f8c0c8" fill-opacity="0.25"/>
<circle cx="168.0" cy="728.9" r="4.2" fill="#f8c0c8" fill-opacity="0.25"/>
<circle cx="196.8" cy="756.6" r="4.2" fill="#f8c0c8" fill-opacity="0.25"/>
<circle cx="171.7" cy="653.7" r="4.2" fill="#f8c0c8" fill-opacity="0.25"/>
<circle cx="201.7" cy="698.1" r="4.2" fill="#f8c0c8" fill-opacity="0.25"/>
<circle cx="167.4" cy="674.6" r="4.2" fill="#f8c0c8" fill-opacity="0.25"/>
<circle cx="186.4" cy="579.5" r="4.2" fill="#f8c0c8" fill-opacity="0.25"/>
<circle cx="161.6" cy="452.5" r="4.2" fill="#f8c0c8" fill-opacity="0.25"/>
<circle cx="193.9" cy="682.0" r="4.2" fill="#f8c0c8" fill-opacity="0.25"/>
<circle cx="198.1" cy="566.6" r="4.2" fill="#f8c0c8" fill-opacity="0.25"/>
<circle cx="170.2" cy="797.4" r="4.2" fill="#f8c0c8" fill-opacity="0.25"/>
<circle cx="165.5" cy="766.6" r="4.2" fill="#f8c0c8" fill-opacity="0.25"/>
<circle cx="260.7" cy="487.6" r="4.2" fill="#b8e8ec" fill-opacity="0.25"/>
<circle cx="251.3" cy="526.3" r="4.2" fill="#b8e8ec" fill-opacity="0.25"/>
<circle cx="254.7" cy="564.7" r="4.2" fill="#b8e8ec" fill-opacity="0.25"/>
<circle cx="269.5" cy="738.4" r="4.2" fill="#b8e8ec" fill-opacity="0.25"/>
<circle cx="239.3" cy="516.4" r="4.2" fill="#b8e8ec" fill-opacity="0.25"/>
<circle cx="262.4" cy="668.0" r="4.2" fill="#b8e8ec" fill-opacity="0.25"/>
<circle cx="251.1" cy="747.8" r="4.2" fill="#b8e8ec" fill-opacity="0.25"/>
<circle cx="243.7" cy="765.9" r="4.2" fill="#b8e8ec" fill-opacity="0.25"/>
<circle cx="261.5" cy="739.2" r="4.2" fill="#b8e8ec" fill-opacity="0.25"/>
<circle cx="243.7" cy="650.8" r="4.2" fill="#b8e8ec" fill-opacity="0.25"/>
<circle cx="249.2" cy="818.4" r="4.2" fill="#b8e8ec" fill-opacity="0.25"/>
<circle cx="242.8" cy="642.5" r="4.2" fill="#b8e8ec" fill-opacity="0.25"/>
<circle cx="243.7" cy="729.5" r="4.2" fill="#b8e8ec" fill-opacity="0.25"/>
<circle cx="259.2" cy="598.6" r="4.2" fill="#b8e8ec" fill-opacity="0.25"/>
<circle cx="239.1" cy="788.9" r="4.2" fill="#b8e8ec" fill-opacity="0.25"/>
<circle cx="259.3" cy="715.5" r="4.2" fill="#b8e8ec" fill-opacity="0.25"/>
<circle cx="238.6" cy="654.6" r="4.2" fill="#b8e8ec" fill-opacity="0.25"/>
<circle cx="265.8" cy="760.6" r="4.2" fill="#b8e8ec" fill-opacity="0.25"/>
<circle cx="247.2" cy="713.0" r="4.2" fill="#b8e8ec" fill-opacity="0.25"/>
<circle cx="277.4" cy="730.3" r="4.2" fill="#b8e8ec" fill-opacity="0.25"/>
<circle cx="260.0" cy="729.5" r="4.2" fill="#b8e8ec" fill-opacity="0.25"/>
<circle cx="253.2" cy="721.9" r="4.2" fill="#b8e8ec" fill-opacity="0.25"/>
<circle cx="279.3" cy="565.6" r="4.2" fill="#b8e8ec" fill-opacity="0.25"/>
<circle cx="243.4" cy="720.8" r="4.2" fill="#b8e8ec" fill-opacity="0.25"/>
<circle cx="243.7" cy="627.1" r="4.2" fill="#b8e8ec" fill-opacity="0.25"/>
<circle cx="275.1" cy="824.1" r="4.2" fill="#b8e8ec" fill-opacity="0.25"/>
<circle cx="271.4" cy="710.7" r="4.2" fill="#b8e8ec" fill-opacity="0.25"/>
<circle cx="274.2" cy="713.6" r="4.2" fill="#b8e8ec" fill-opacity="0.25"/>
<circle cx="241.8" cy="704.4" r="4.2" fill="#b8e8ec" fill-opacity="0.25"/>
<circle cx="259.3" cy="814.8" r="4.2" fill="#b8e8ec" fill-opacity="0.25"/>
<circle cx="275.4" cy="654.2" r="4.2" fill="#b8e8ec" fill-opacity="0.25"/>
<circle cx="262.5" cy="778.5" r="4.2" fill="#b8e8ec" fill-opacity="0.25"/>
<circle cx="257.2" cy="719.6" r="4.2" fill="#b8e8ec" fill-opacity="0.25"/>
<circle cx="247.2" cy="764.8" r="4.2" fill="#b8e8ec" fill-opacity="0.25"/>
<circle cx="276.1" cy="691.2" r="4.2" fill="#b8e8ec" fill-opacity="0.25"/>
<circle cx="256.6" cy="773.7" r="4.2" fill="#b8e8ec" fill-opacity="0.25"/>
<circle cx="278.0" cy="594.1" r="4.2" fill="#b8e8ec" fill-opacity="0.25"/>
<circle cx="240.2" cy="752.6" r="4.2" fill="#b8e8ec" fill-opacity="0.25"/>
<circle cx="278.4" cy="518.1" r="4.2" fill="#b8e8ec" fill-opacity="0.25"/>
<circle cx="236.9" cy="700.7" r="4.2" fill="#b8e8ec" fill-opacity="0.25"/>
<circle cx="252.0" cy="528.8" r="4.2" fill="#b8e8ec" fill-opacity="0.25"/>
<circle cx="262.4" cy="542.7" r="4.2" fill="#b8e8ec" fill-opacity="0.25"/>
<circle cx="241.7" cy="584.6" r="4.2" fill="#b8e8ec" fill-opacity="0.25"/>
<circle cx="244.5" cy="603.1" r="4.2" fill="#b8e8ec" fill-opacity="0.25"/>
<circle cx="272.6" cy="713.9" r="4.2" fill="#b8e8ec" fill-opacity="0.25"/>
<circle cx="242.7" cy="582.4" r="4.2" fill="#b8e8ec" fill-opacity="0.25"/>
<circle cx="252.5" cy="747.6" r="4.2" fill="#b8e8ec" fill-opacity="0.25"/>
<circle cx="251.8" cy="692.2" r="4.2" fill="#b8e8ec" fill-opacity="0.25"/>
<circle cx="245.6" cy="770.3" r="4.2" fill="#b8e8ec" fill-opacity="0.25"/>
<circle cx="274.9" cy="628.1" r="4.2" fill="#b8e8ec" fill-opacity="0.25"/>
<circle cx="259.8" cy="797.7" r="4.2" fill="#b8e8ec" fill-opacity="0.25"/>
<circle cx="236.2" cy="616.7" r="4.2" fill="#b8e8ec" fill-opacity="0.25"/>
<circle cx="239.8" cy="578.1" r="4.2" fill="#b8e8ec" fill-opacity="0.25"/>
<circle cx="259.3" cy="666.9" r="4.2" fill="#b8e8ec" fill-opacity="0.25"/>
<circle cx="248.3" cy="658.4" r="4.2" fill="#b8e8ec" fill-opacity="0.25"/>
<circle cx="260.7" cy="711.3" r="4.2" fill="#b8e8ec" fill-opacity="0.25"/>
<circle cx="264.1" cy="710.3" r="4.2" fill="#b8e8ec" fill-opacity="0.25"/>
<circle cx="254.2" cy="706.8" r="4.2" fill="#b8e8ec" fill-opacity="0.25"/>
<circle cx="262.4" cy="805.9" r="4.2" fill="#b8e8ec" fill-opacity="0.25"/>
<circle cx="245.1" cy="699.5" r="4.2" fill="#b8e8ec" fill-opacity="0.25"/>
<circle cx="269.6" cy="613.8" r="4.2" fill="#b8e8ec" fill-opacity="0.25"/>
<circle cx="242.6" cy="704.8" r="4.2" fill="#b8e8ec" fill-opacity="0.25"/>
<circle cx="239.3" cy="702.3" r="4.2" fill="#b8e8ec" fill-opacity="0.25"/>
<circle cx="253.9" cy="769.0" r="4.2" fill="#b8e8ec" fill-opacity="0.25"/>
<circle cx="254.4" cy="777.7" r="4.2" fill="#b8e8ec" fill-opacity="0.25"/>
<circle cx="236.3" cy="694.6" r="4.2" fill="#b8e8ec" fill-opacity="0.25"/>
<circle cx="238.2" cy="655.5" r="4.2" fill="#b8e8ec" fill-opacity="0.25"/>
<circle cx="269.5" cy="625.4" r="4.2" fill="#b8e8ec" fill-opacity="0.25"/>
<circle cx="236.9" cy="694.2" r="4.2" fill="#b8e8ec" fill-opacity="0.25"/>
<circle cx="251.5" cy="696.6" r="4.2" fill="#b8e8ec" fill-opacity="0.25"/>
<circle cx="240.6" cy="513.1" r="4.2" fill="#b8e8ec" fill-opacity="0.25"/>
<circle cx="279.3" cy="569.0" r="4.2" fill="#b8e8ec" fill-opacity="0.25"/>
<circle cx="271.2" cy="625.9" r="4.2" fill="#b8e8ec" fill-opacity="0.25"/>
<circle cx="278.7" cy="753.5" r="4.2" fill="#b8e8ec" fill-opacity="0.25"/>
<circle cx="277.5" cy="699.1" r="4.2" fill="#b8e8ec" fill-opacity="0.25"/>
<circle cx="241.9" cy="535.2" r="4.2" fill="#b8e8ec" fill-opacity="0.25"/>
<circle cx="276.4" cy="601.9" r="4.2" fill="#b8e8ec" fill-opacity="0.25"/>
<circle cx="250.3" cy="788.0" r="4.2" fill="#b8e8ec" fill-opacity="0.25"/>
<circle cx="241.6" cy="617.3" r="4.2" fill="#b8e8ec" fill-opacity="0.25"/>
<circle cx="246.9" cy="547.6" r="4.2" fill="#b8e8ec" fill-opacity="0.25"/>
<circle cx="241.0" cy="588.9" r="4.2" fill="#b8e8ec" fill-opacity="0.25"/>
<circle cx="275.9" cy="697.1" r="4.2" fill="#b8e8ec" fill-opacity="0.25"/>
<circle cx="246.3" cy="750.0" r="4.2" fill="#b8e8ec" fill-opacity="0.25"/>
<circle cx="248.9" cy="695.9" r="4.2" fill="#b8e8ec" fill-opacity="0.25"/>
<circle cx="242.7" cy="799.5" r="4.2" fill="#b8e8ec" fill-opacity="0.25"/>
<circle cx="276.6" cy="761.2" r="4.2" fill="#b8e8ec" fill-opacity="0.25"/>
<circle cx="274.8" cy="642.1" r="4.2" fill="#b8e8ec" fill-opacity="0.25"/>
<circle cx="269.8" cy="759.4" r="4.2" fill="#b8e8ec" fill-opacity="0.25"/>
<circle cx="258.4" cy="772.2" r="4.2" fill="#b8e8ec" fill-opacity="0.25"/>
<circle cx="250.7" cy="655.5" r="4.2" fill="#b8e8ec" fill-opacity="0.25"/>
<circle cx="259.5" cy="561.4" r="4.2" fill="#b8e8ec" fill-opacity="0.25"/>
<circle cx="274.2" cy="673.0" r="4.2" fill="#b8e8ec" fill-opacity="0.25"/>
<circle cx="279.2" cy="774.7" r="4.2" fill="#b8e8ec" fill-opacity="0.25"/>
<circle cx="252.2" cy="657.6" r="4.2" fill="#b8e8ec" fill-opacity="0.25"/>
<circle cx="246.4" cy="597.5" r="4.2" fill="#b8e8ec" fill-opacity="0.25"/>
<circle cx="260.5" cy="461.0" r="4.2" fill="#b8e8ec" fill-opacity="0.25"/>
<circle cx="268.9" cy="721.4" r="4.2" fill="#b8e8ec" fill-opacity="0.25"/>
<circle cx="242.5" cy="707.5" r="4.2" fill="#b8e8ec" fill-opacity="0.25"/>
<circle cx="236.7" cy="622.3" r="4.2" fill="#b8e8ec" fill-opacity="0.25"/>
<circle cx="245.9" cy="586.9" r="4.2" fill="#b8e8ec" fill-opacity="0.25"/>
<circle cx="278.8" cy="654.6" r="4.2" fill="#b8e8ec" fill-opacity="0.25"/>
<circle cx="264.4" cy="671.2" r="4.2" fill="#b8e8ec" fill-opacity="0.25"/>
<circle cx="234.6" cy="729.5" r="4.2" fill="#b8e8ec" fill-opacity="0.25"/>
<circle cx="241.2" cy="800.7" r="4.2" fill="#b8e8ec" fill-opacity="0.25"/>
<circle cx="254.0" cy="661.8" r="4.2" fill="#b8e8ec" fill-opacity="0.25"/>
<circle cx="274.8" cy="693.8" r="4.2" fill="#b8e8ec" fill-opacity="0.25"/>
<circle cx="244.7" cy="768.1" r="4.2" fill="#b8e8ec" fill-opacity="0.25"/>
<circle cx="235.5" cy="650.3" r="4.2" fill="#b8e8ec" fill-opacity="0.25"/>
<circle cx="250.5" cy="827.5" r="4.2" fill="#b8e8ec" fill-opacity="0.25"/>
<circle cx="250.6" cy="774.2" r="4.2" fill="#b8e8ec" fill-opacity="0.25"/>
<circle cx="260.8" cy="746.2" r="4.2" fill="#b8e8ec" fill-opacity="0.25"/>
<circle cx="243.7" cy="670.2" r="4.2" fill="#b8e8ec" fill-opacity="0.25"/>
<circle cx="255.9" cy="659.4" r="4.2" fill="#b8e8ec" fill-opacity="0.25"/>
<circle cx="276.6" cy="767.5" r="4.2" fill="#b8e8ec" fill-opacity="0.25"/>
<circle cx="241.2" cy="741.6" r="4.2" fill="#b8e8ec" fill-opacity="0.25"/>
<circle cx="263.2" cy="776.8" r="4.2" fill="#b8e8ec" fill-opacity="0.25"/>
<circle cx="269.7" cy="562.2" r="4.2" fill="#b8e8ec" fill-opacity="0.25"/>
<circle cx="246.4" cy="714.4" r="4.2" fill="#b8e8ec" fill-opacity="0.25"/>
<circle cx="263.5" cy="818.3" r="4.2" fill="#b8e8ec" fill-opacity="0.25"/>
<circle cx="250.3" cy="678.5" r="4.2" fill="#b8e8ec" fill-opacity="0.25"/>
<circle cx="254.5" cy="652.7" r="4.2" fill="#b8e8ec" fill-opacity="0.25"/>
<circle cx="267.5" cy="521.8" r="4.2" fill="#b8e8ec" fill-opacity="0.25"/>
<circle cx="275.2" cy="740.4" r="4.2" fill="#b8e8ec" fill-opacity="0.25"/>
<circle cx="258.4" cy="796.6" r="4.2" fill="#b8e8ec" fill-opacity="0.25"/>
<circle cx="245.2" cy="713.7" r="4.2" fill="#b8e8ec" fill-opacity="0.25"/>
<circle cx="269.5" cy="790.8" r="4.2" fill="#b8e8ec" fill-opacity="0.25"/>
<circle cx="259.3" cy="817.4" r="4.2" fill="#b8e8ec" fill-opacity="0.25"/>
<circle cx="240.9" cy="519.4" r="4.2" fill="#b8e8ec" fill-opacity="0.25"/>
<circle cx="261.9" cy="752.1" r="4.2" fill="#b8e8ec" fill-opacity="0.25"/>
<circle cx="263.4" cy="695.6" r="4.2" fill="#b8e8ec" fill-opacity="0.25"/>
<circle cx="242.4" cy="589.9" r="4.2" fill="#b8e8ec" fill-opacity="0.25"/>
<circle cx="248.0" cy="730.0" r="4.2" fill="#b8e8ec" fill-opacity="0.25"/>
<circle cx="274.5" cy="794.8" r="4.2" fill="#b8e8ec" fill-opacity="0.25"/>
<circle cx="266.7" cy="604.5" r="4.2" fill="#b8e8ec" fill-opacity="0.25"/>
<circle cx="272.5" cy="823.6" r="4.2" fill="#b8e8ec" fill-opacity="0.25"/>
<circle cx="255.4" cy="621.8" r="4.2" fill="#b8e8ec" fill-opacity="0.25"/>
<circle cx="254.9" cy="622.9" r="4.2" fill="#b8e8ec" fill-opacity="0.25"/>
<circle cx="239.2" cy="745.8" r="4.2" fill="#b8e8ec" fill-opacity="0.25"/>
<circle cx="236.2" cy="744.3" r="4.2" fill="#b8e8ec" fill-opacity="0.25"/>
<circle cx="268.2" cy="725.6" r="4.2" fill="#b8e8ec" fill-opacity="0.25"/>
<circle cx="272.5" cy="637.3" r="4.2" fill="#b8e8ec" fill-opacity="0.25"/>
<circle cx="246.5" cy="632.2" r="4.2" fill="#b8e8ec" fill-opacity="0.25"/>
<circle cx="254.1" cy="681.1" r="4.2" fill="#b8e8ec" fill-opacity="0.25"/>
<circle cx="258.0" cy="601.9" r="4.2" fill="#b8e8ec" fill-opacity="0.25"/>
<circle cx="263.4" cy="737.5" r="4.2" fill="#b8e8ec" fill-opacity="0.25"/>
<circle cx="244.3" cy="499.5" r="4.2" fill="#b8e8ec" fill-opacity="0.25"/>
<circle cx="235.2" cy="558.0" r="4.2" fill="#b8e8ec" fill-opacity="0.25"/>
<circle cx="245.1" cy="738.3" r="4.2" fill="#b8e8ec" fill-opacity="0.25"/>
<circle cx="277.0" cy="622.2" r="4.2" fill="#b8e8ec" fill-opacity="0.25"/>
<circle cx="249.2" cy="621.5" r="4.2" fill="#b8e8ec" fill-opacity="0.25"/>
<circle cx="249.3" cy="557.9" r="4.2" fill="#b8e8ec" fill-opacity="0.25"/>
<circle cx="275.3" cy="742.6" r="4.2" fill="#b8e8ec" fill-opacity="0.25"/>
<circle cx="265.7" cy="657.3" r="4.2" fill="#b8e8ec" fill-opacity="0.25"/>
<circle cx="278.6" cy="646.6" r="4.2" fill="#b8e8ec" fill-opacity="0.25"/>
<circle cx="272.3" cy="702.9" r="4.2" fill="#b8e8ec" fill-opacity="0.25"/>
<circle cx="273.1" cy="636.5" r="4.2" fill="#b8e8ec" fill-opacity="0.25"/>
<circle cx="267.1" cy="708.4" r="4.2" fill="#b8e8ec" fill-opacity="0.25"/>
<circle cx="248.3" cy="676.0" r="4.2" fill="#b8e8ec" fill-opacity="0.25"/>
<circle cx="262.5" cy="749.1" r="4.2" fill="#b8e8ec" fill-opacity="0.25"/>
<circle cx="275.5" cy="783.0" r="4.2" fill="#b8e8ec" fill-opacity="0.25"/>
<circle cx="235.7" cy="765.1" r="4.2" fill="#b8e8ec" fill-opacity="0.25"/>
<circle cx="276.3" cy="774.2" r="4.2" fill="#b8e8ec" fill-opacity="0.25"/>
<circle cx="240.9" cy="724.0" r="4.2" fill="#b8e8ec" fill-opacity="0.25"/>
<circle cx="236.4" cy="802.7" r="4.2" fill="#b8e8ec" fill-opacity="0.25"/>
<circle cx="263.0" cy="638.1" r="4.2" fill="#b8e8ec" fill-opacity="0.25"/>
<circle cx="267.7" cy="636.7" r="4.2" fill="#b8e8ec" fill-opacity="0.25"/>
<circle cx="261.1" cy="787.9" r="4.2" fill="#b8e8ec" fill-opacity="0.25"/>
<circle cx="271.3" cy="720.9" r="4.2" fill="#b8e8ec" fill-opacity="0.25"/>
<circle cx="274.6" cy="587.0" r="4.2" fill="#b8e8ec" fill-opacity="0.25"/>
<circle cx="273.6" cy="787.8" r="4.2" fill="#b8e8ec" fill-opacity="0.25"/>
<circle cx="277.0" cy="536.2" r="4.2" fill="#b8e8ec" fill-opacity="0.25"/>
<circle cx="243.8" cy="774.1" r="4.2" fill="#b8e8ec" fill-opacity="0.25"/>
<circle cx="236.0" cy="772.9" r="4.2" fill="#b8e8ec" fill-opacity="0.25"/>
<circle cx="271.0" cy="573.5" r="4.2" fill="#b8e8ec" fill-opacity="0.25"/>
<circle cx="271.6" cy="656.2" r="4.2" fill="#b8e8ec" fill-opacity="0.25"/>
<circle cx="247.4" cy="657.0" r="4.2" fill="#b8e8ec" fill-opacity="0.25"/>
<circle cx="238.9" cy="775.8" r="4.2" fill="#b8e8ec" fill-opacity="0.25"/>
<circle cx="243.7" cy="616.8" r="4.2" fill="#b8e8ec" fill-opacity="0.25"/>
<circle cx="253.6" cy="728.4" r="4.2" fill="#b8e8ec" fill-opacity="0.25"/>
<circle cx="246.1" cy="808.5" r="4.2" fill="#b8e8ec" fill-opacity="0.25"/>
<circle cx="266.7" cy="734.5" r="4.2" fill="#b8e8ec" fill-opacity="0.25"/>
<circle cx="248.9" cy="720.1" r="4.2" fill="#b8e8ec" fill-opacity="0.25"/>
<circle cx="257.2" cy="501.3" r="4.2" fill="#b8e8ec" fill-opacity="0.25"/>
<circle cx="262.3" cy="571.7" r="4.2" fill="#b8e8ec" fill-opacity="0.25"/>
<circle cx="253.1" cy="801.8" r="4.2" fill="#b8e8ec" fill-opacity="0.25"/>
<circle cx="269.3" cy="708.5" r="4.2" fill="#b8e8ec" fill-opacity="0.25"/>
<circle cx="266.2" cy="723.7" r="4.2" fill="#b8e8ec" fill-opacity="0.25"/>
<circle cx="244.2" cy="686.0" r="4.2" fill="#b8e8ec" fill-opacity="0.25"/>
<circle cx="238.6" cy="566.5" r="4.2" fill="#b8e8ec" fill-opacity="0.25"/>
<circle cx="242.2" cy="586.9" r="4.2" fill="#b8e8ec" fill-opacity="0.25"/>
<circle cx="243.6" cy="828.9" r="4.2" fill="#b8e8ec" fill-opacity="0.25"/>
<circle cx="278.5" cy="614.5" r="4.2" fill="#b8e8ec" fill-opacity="0.25"/>
<circle cx="256.6" cy="825.7" r="4.2" fill="#b8e8ec" fill-opacity="0.25"/>
<circle cx="270.4" cy="699.2" r="4.2" fill="#b8e8ec" fill-opacity="0.25"/>
<circle cx="256.8" cy="755.6" r="4.2" fill="#b8e8ec" fill-opacity="0.25"/>
<circle cx="271.9" cy="723.6" r="4.2" fill="#b8e8ec" fill-opacity="0.25"/>
<circle cx="277.0" cy="738.3" r="4.2" fill="#b8e8ec" fill-opacity="0.25"/>
<circle cx="244.2" cy="734.3" r="4.2" fill="#b8e8ec" fill-opacity="0.25"/>
<circle cx="256.9" cy="636.0" r="4.2" fill="#b8e8ec" fill-opacity="0.25"/>
<circle cx="263.1" cy="773.4" r="4.2" fill="#b8e8ec" fill-opacity="0.25"/>
<circle cx="270.0" cy="781.8" r="4.2" fill="#b8e8ec" fill-opacity="0.25"/>
<circle cx="269.9" cy="636.7" r="4.2" fill="#b8e8ec" fill-opacity="0.25"/>
<circle cx="250.5" cy="658.1" r="4.2" fill="#b8e8ec" fill-opacity="0.25"/>
<circle cx="252.3" cy="714.5" r="4.2" fill="#b8e8ec" fill-opacity="0.25"/>
<circle cx="238.4" cy="551.4" r="4.2" fill="#b8e8ec" fill-opacity="0.25"/>
<circle cx="235.6" cy="552.7" r="4.2" fill="#b8e8ec" fill-opacity="0.25"/>
<circle cx="246.3" cy="750.5" r="4.2" fill="#b8e8ec" fill-opacity="0.25"/>
<circle cx="257.1" cy="544.6" r="4.2" fill="#b8e8ec" fill-opacity="0.25"/>
<circle cx="274.3" cy="718.2" r="4.2" fill="#b8e8ec" fill-opacity="0.25"/>
<circle cx="255.2" cy="744.0" r="4.2" fill="#b8e8ec" fill-opacity="0.25"/>
<circle cx="268.5" cy="688.0" r="4.2" fill="#b8e8ec" fill-opacity="0.25"/>
<circle cx="263.6" cy="618.9" r="4.2" fill="#b8e8ec" fill-opacity="0.25"/>
<circle cx="249.2" cy="723.4" r="4.2" fill="#b8e8ec" fill-opacity="0.25"/>
<circle cx="272.4" cy="762.6" r="4.2" fill="#b8e8ec" fill-opacity="0.25"/>
<circle cx="267.9" cy="647.5" r="4.2" fill="#b8e8ec" fill-opacity="0.25"/>
<circle cx="254.2" cy="759.2" r="4.2" fill="#b8e8ec" fill-opacity="0.25"/>
<circle cx="260.6" cy="609.1" r="4.2" fill="#b8e8ec" fill-opacity="0.25"/>
<circle cx="255.3" cy="769.6" r="4.2" fill="#b8e8ec" fill-opacity="0.25"/>
<circle cx="245.2" cy="554.8" r="4.2" fill="#b8e8ec" fill-opacity="0.25"/>
<circle cx="248.1" cy="754.0" r="4.2" fill="#b8e8ec" fill-opacity="0.25"/>
<circle cx="272.5" cy="634.8" r="4.2" fill="#b8e8ec" fill-opacity="0.25"/>
<circle cx="241.5" cy="762.8" r="4.2" fill="#b8e8ec" fill-opacity="0.25"/>
<circle cx="249.2" cy="740.6" r="4.2" fill="#b8e8ec" fill-opacity="0.25"/>
<circle cx="241.7" cy="690.9" r="4.2" fill="#b8e8ec" fill-opacity="0.25"/>
<circle cx="243.0" cy="726.8" r="4.2" fill="#b8e8ec" fill-opacity="0.25"/>
<circle cx="267.3" cy="484.3" r="4.2" fill="#b8e8ec" fill-opacity="0.25"/>
<circle cx="277.8" cy="775.3" r="4.2" fill="#b8e8ec" fill-opacity="0.25"/>
<circle cx="251.8" cy="775.4" r="4.2" fill="#b8e8ec" fill-opacity="0.25"/>
<circle cx="270.3" cy="471.1" r="4.2" fill="#b8e8ec" fill-opacity="0.25"/>
<circle cx="254.1" cy="625.5" r="4.2" fill="#b8e8ec" fill-opacity="0.25"/>
<circle cx="263.2" cy="752.9" r="4.2" fill="#b8e8ec" fill-opacity="0.25"/>
<circle cx="243.8" cy="774.1" r="4.2" fill="#b8e8ec" fill-opacity="0.25"/>
<circle cx="236.0" cy="716.7" r="4.2" fill="#b8e8ec" fill-opacity="0.25"/>
<circle cx="270.1" cy="714.9" r="4.2" fill="#b8e8ec" fill-opacity="0.25"/>
<circle cx="257.0" cy="637.8" r="4.2" fill="#b8e8ec" fill-opacity="0.25"/>
<circle cx="255.3" cy="656.8" r="4.2" fill="#b8e8ec" fill-opacity="0.25"/>
<circle cx="261.7" cy="765.8" r="4.2" fill="#b8e8ec" fill-opacity="0.25"/>
<circle cx="267.8" cy="713.9" r="4.2" fill="#b8e8ec" fill-opacity="0.25"/>
<circle cx="253.9" cy="540.3" r="4.2" fill="#b8e8ec" fill-opacity="0.25"/>
<circle cx="268.2" cy="674.8" r="4.2" fill="#b8e8ec" fill-opacity="0.25"/>
<circle cx="244.8" cy="711.1" r="4.2" fill="#b8e8ec" fill-opacity="0.25"/>
<circle cx="274.1" cy="628.9" r="4.2" fill="#b8e8ec" fill-opacity="0.25"/>
<circle cx="266.0" cy="608.8" r="4.2" fill="#b8e8ec" fill-opacity="0.25"/>
<circle cx="265.1" cy="571.2" r="4.2" fill="#b8e8ec" fill-opacity="0.25"/>
<circle cx="254.9" cy="653.9" r="4.2" fill="#b8e8ec" fill-opacity="0.25"/>
<circle cx="262.8" cy="729.4" r="4.2" fill="#b8e8ec" fill-opacity="0.25"/>
<circle cx="253.4" cy="776.3" r="4.2" fill="#b8e8ec" fill-opacity="0.25"/>
<circle cx="266.6" cy="604.8" r="4.2" fill="#b8e8ec" fill-opacity="0.25"/>
<circle cx="245.8" cy="657.6" r="4.2" fill="#b8e8ec" fill-opacity="0.25"/>
<circle cx="255.0" cy="710.7" r="4.2" fill="#b8e8ec" fill-opacity="0.25"/>
<circle cx="252.9" cy="660.1" r="4.2" fill="#b8e8ec" fill-opacity="0.25"/>
<circle cx="276.4" cy="643.5" r="4.2" fill="#b8e8ec" fill-opacity="0.25"/>
<circle cx="264.0" cy="756.0" r="4.2" fill="#b8e8ec" fill-opacity="0.25"/>
<circle cx="252.0" cy="606.8" r="4.2" fill="#b8e8ec" fill-opacity="0.25"/>
<circle cx="278.4" cy="699.5" r="4.2" fill="#b8e8ec" fill-opacity="0.25"/>
<circle cx="259.0" cy="798.9" r="4.2" fill="#b8e8ec" fill-opacity="0.25"/>
<circle cx="269.7" cy="761.3" r="4.2" fill="#b8e8ec" fill-opacity="0.25"/>
<circle cx="257.9" cy="519.7" r="4.2" fill="#b8e8ec" fill-opacity="0.25"/>
<circle cx="260.4" cy="775.5" r="4.2" fill="#b8e8ec" fill-opacity="0.25"/>
<circle cx="266.8" cy="685.1" r="4.2" fill="#b8e8ec" fill-opacity="0.25"/>
<circle cx="263.3" cy="694.0" r="4.2" fill="#b8e8ec" fill-opacity="0.25"/>
<circle cx="258.0" cy="582.5" r="4.2" fill="#b8e8ec" fill-opacity="0.25"/>
<circle cx="277.2" cy="712.9" r="4.2" fill="#b8e8ec" fill-opacity="0.25"/>
<circle cx="265.3" cy="749.6" r="4.2" fill="#b8e8ec" fill-opacity="0.25"/>
<circle cx="268.8" cy="716.0" r="4.2" fill="#b8e8ec" fill-opacity="0.25"/>
<circle cx="278.8" cy="770.4" r="4.2" fill="#b8e8ec" fill-opacity="0.25"/>
<circle cx="237.0" cy="722.2" r="4.2" fill="#b8e8ec" fill-opacity="0.25"/>
<circle cx="252.5" cy="735.9" r="4.2" fill="#b8e8ec" fill-opacity="0.25"/>
<circle cx="253.3" cy="816.4" r="4.2" fill="#b8e8ec" fill-opacity="0.25"/>
<circle cx="265.9" cy="711.2" r="4.2" fill="#b8e8ec" fill-opacity="0.25"/>
<circle cx="375.9" cy="565.8" r="4.2" fill="#f8c0c8" fill-opacity="0.25"/>
<circle cx="397.4" cy="602.9" r="4.2" fill="#f8c0c8" fill-opacity="0.25"/>
<circle cx="387.7" cy="310.9" r="4.2" fill="#f8c0c8" fill-opacity="0.25"/>
<circle cx="400.1" cy="604.7" r="4.2" fill="#f8c0c8" fill-opacity="0.25"/>
<circle cx="373.5" cy="554.8" r="4.2" fill="#f8c0c8" fill-opacity="0.25"/>
<circle cx="398.9" cy="635.0" r="4.2" fill="#f8c0c8" fill-opacity="0.25"/>
<circle cx="392.5" cy="402.2" r="4.2" fill="#f8c0c8" fill-opacity="0.25"/>
<circle cx="389.3" cy="533.3" r="4.2" fill="#f8c0c8" fill-opacity="0.25"/>
<circle cx="407.4" cy="602.4" r="4.2" fill="#f8c0c8" fill-opacity="0.25"/>
<circle cx="392.7" cy="565.6" r="4.2" fill="#f8c0c8" fill-opacity="0.25"/>
<circle cx="400.7" cy="396.7" r="4.2" fill="#f8c0c8" fill-opacity="0.25"/>
<circle cx="377.2" cy="533.6" r="4.2" fill="#f8c0c8" fill-opacity="0.25"/>
<circle cx="369.6" cy="508.0" r="4.2" fill="#f8c0c8" fill-opacity="0.25"/>
<circle cx="380.0" cy="387.7" r="4.2" fill="#f8c0c8" fill-opacity="0.25"/>
<circle cx="376.0" cy="377.6" r="4.2" fill="#f8c0c8" fill-opacity="0.25"/>
<circle cx="375.4" cy="559.2" r="4.2" fill="#f8c0c8" fill-opacity="0.25"/>
<circle cx="372.4" cy="545.3" r="4.2" fill="#f8c0c8" fill-opacity="0.25"/>
<circle cx="396.5" cy="736.0" r="4.2" fill="#f8c0c8" fill-opacity="0.25"/>
<circle cx="375.0" cy="585.6" r="4.2" fill="#f8c0c8" fill-opacity="0.25"/>
<circle cx="385.6" cy="579.8" r="4.2" fill="#f8c0c8" fill-opacity="0.25"/>
<circle cx="392.7" cy="544.6" r="4.2" fill="#f8c0c8" fill-opacity="0.25"/>
<circle cx="380.3" cy="469.4" r="4.2" fill="#f8c0c8" fill-opacity="0.25"/>
<circle cx="402.5" cy="321.3" r="4.2" fill="#f8c0c8" fill-opacity="0.25"/>
<circle cx="401.3" cy="668.2" r="4.2" fill="#f8c0c8" fill-opacity="0.25"/>
<circle cx="399.3" cy="342.7" r="4.2" fill="#f8c0c8" fill-opacity="0.25"/>
<circle cx="401.4" cy="631.3" r="4.2" fill="#f8c0c8" fill-opacity="0.25"/>
<circle cx="364.7" cy="478.5" r="4.2" fill="#f8c0c8" fill-opacity="0.25"/>
<circle cx="406.8" cy="711.8" r="4.2" fill="#f8c0c8" fill-opacity="0.25"/>
<circle cx="375.3" cy="470.5" r="4.2" fill="#f8c0c8" fill-opacity="0.25"/>
<circle cx="370.4" cy="644.4" r="4.2" fill="#f8c0c8" fill-opacity="0.25"/>
<circle cx="398.9" cy="599.8" r="4.2" fill="#f8c0c8" fill-opacity="0.25"/>
<circle cx="370.9" cy="567.4" r="4.2" fill="#f8c0c8" fill-opacity="0.25"/>
<circle cx="399.6" cy="344.3" r="4.2" fill="#f8c0c8" fill-opacity="0.25"/>
<circle cx="404.1" cy="622.0" r="4.2" fill="#f8c0c8" fill-opacity="0.25"/>
<circle cx="399.2" cy="487.1" r="4.2" fill="#f8c0c8" fill-opacity="0.25"/>
<circle cx="404.2" cy="466.2" r="4.2" fill="#f8c0c8" fill-opacity="0.25"/>
<circle cx="401.7" cy="415.1" r="4.2" fill="#f8c0c8" fill-opacity="0.25"/>
<circle cx="395.2" cy="612.0" r="4.2" fill="#f8c0c8" fill-opacity="0.25"/>
<circle cx="397.4" cy="514.0" r="4.2" fill="#f8c0c8" fill-opacity="0.25"/>
<circle cx="403.7" cy="541.8" r="4.2" fill="#f8c0c8" fill-opacity="0.25"/>
<circle cx="375.9" cy="505.6" r="4.2" fill="#f8c0c8" fill-opacity="0.25"/>
<circle cx="370.3" cy="599.6" r="4.2" fill="#f8c0c8" fill-opacity="0.25"/>
<circle cx="366.6" cy="526.7" r="4.2" fill="#f8c0c8" fill-opacity="0.25"/>
<circle cx="370.5" cy="533.9" r="4.2" fill="#f8c0c8" fill-opacity="0.25"/>
<circle cx="386.4" cy="527.1" r="4.2" fill="#f8c0c8" fill-opacity="0.25"/>
<circle cx="402.8" cy="511.0" r="4.2" fill="#f8c0c8" fill-opacity="0.25"/>
<circle cx="401.8" cy="725.2" r="4.2" fill="#f8c0c8" fill-opacity="0.25"/>
<circle cx="389.3" cy="533.6" r="4.2" fill="#f8c0c8" fill-opacity="0.25"/>
<circle cx="401.8" cy="467.3" r="4.2" fill="#f8c0c8" fill-opacity="0.25"/>
<circle cx="382.8" cy="559.5" r="4.2" fill="#f8c0c8" fill-opacity="0.25"/>
<circle cx="367.4" cy="291.7" r="4.2" fill="#f8c0c8" fill-opacity="0.25"/>
<circle cx="392.6" cy="477.1" r="4.2" fill="#f8c0c8" fill-opacity="0.25"/>
<circle cx="391.4" cy="683.7" r="4.2" fill="#f8c0c8" fill-opacity="0.25"/>
<circle cx="405.9" cy="461.3" r="4.2" fill="#f8c0c8" fill-opacity="0.25"/>
<circle cx="408.2" cy="571.9" r="4.2" fill="#f8c0c8" fill-opacity="0.25"/>
<circle cx="385.8" cy="521.0" r="4.2" fill="#f8c0c8" fill-opacity="0.25"/>
<circle cx="365.5" cy="349.5" r="4.2" fill="#f8c0c8" fill-opacity="0.25"/>
<circle cx="392.1" cy="448.9" r="4.2" fill="#f8c0c8" fill-opacity="0.25"/>
<circle cx="402.8" cy="569.6" r="4.2" fill="#f8c0c8" fill-opacity="0.25"/>
<circle cx="385.4" cy="561.9" r="4.2" fill="#f8c0c8" fill-opacity="0.25"/>
<circle cx="398.7" cy="515.9" r="4.2" fill="#f8c0c8" fill-opacity="0.25"/>
<circle cx="383.6" cy="607.5" r="4.2" fill="#f8c0c8" fill-opacity="0.25"/>
<circle cx="388.9" cy="546.3" r="4.2" fill="#f8c0c8" fill-opacity="0.25"/>
<circle cx="377.2" cy="391.9" r="4.2" fill="#f8c0c8" fill-opacity="0.25"/>
<circle cx="382.2" cy="391.3" r="4.2" fill="#f8c0c8" fill-opacity="0.25"/>
<circle cx="376.2" cy="523.4" r="4.2" fill="#f8c0c8" fill-opacity="0.25"/>
<circle cx="407.9" cy="522.5" r="4.2" fill="#f8c0c8" fill-opacity="0.25"/>
<circle cx="399.6" cy="471.0" r="4.2" fill="#f8c0c8" fill-opacity="0.25"/>
<circle cx="378.3" cy="571.7" r="4.2" fill="#f8c0c8" fill-opacity="0.25"/>
<circle cx="390.4" cy="580.6" r="4.2" fill="#f8c0c8" fill-opacity="0.25"/>
<circle cx="399.3" cy="477.9" r="4.2" fill="#f8c0c8" fill-opacity="0.25"/>
<circle cx="396.5" cy="677.5" r="4.2" fill="#f8c0c8" fill-opacity="0.25"/>
<circle cx="388.5" cy="356.7" r="4.2" fill="#f8c0c8" fill-opacity="0.25"/>
<circle cx="377.5" cy="672.2" r="4.2" fill="#f8c0c8" fill-opacity="0.25"/>
<circle cx="372.5" cy="726.3" r="4.2" fill="#f8c0c8" fill-opacity="0.25"/>
<circle cx="391.4" cy="328.1" r="4.2" fill="#f8c0c8" fill-opacity="0.25"/>
<circle cx="399.5" cy="469.8" r="4.2" fill="#f8c0c8" fill-opacity="0.25"/>
<circle cx="391.5" cy="338.9" r="4.2" fill="#f8c0c8" fill-opacity="0.25"/>
<circle cx="392.2" cy="484.2" r="4.2" fill="#f8c0c8" fill-opacity="0.25"/>
<circle cx="390.8" cy="456.5" r="4.2" fill="#f8c0c8" fill-opacity="0.25"/>
<circle cx="373.6" cy="461.8" r="4.2" fill="#f8c0c8" fill-opacity="0.25"/>
<circle cx="384.6" cy="466.7" r="4.2" fill="#f8c0c8" fill-opacity="0.25"/>
<circle cx="368.6" cy="430.3" r="4.2" fill="#f8c0c8" fill-opacity="0.25"/>
<circle cx="365.7" cy="617.5" r="4.2" fill="#f8c0c8" fill-opacity="0.25"/>
<circle cx="405.1" cy="423.2" r="4.2" fill="#f8c0c8" fill-opacity="0.25"/>
<circle cx="380.6" cy="470.6" r="4.2" fill="#f8c0c8" fill-opacity="0.25"/>
<circle cx="399.4" cy="394.4" r="4.2" fill="#f8c0c8" fill-opacity="0.25"/>
<circle cx="375.6" cy="503.2" r="4.2" fill="#f8c0c8" fill-opacity="0.25"/>
<circle cx="383.0" cy="579.8" r="4.2" fill="#f8c0c8" fill-opacity="0.25"/>
<circle cx="383.4" cy="575.2" r="4.2" fill="#f8c0c8" fill-opacity="0.25"/>
<circle cx="406.0" cy="475.5" r="4.2" fill="#f8c0c8" fill-opacity="0.25"/>
<circle cx="389.5" cy="669.6" r="4.2" fill="#f8c0c8" fill-opacity="0.25"/>
<circle cx="369.3" cy="677.8" r="4.2" fill="#f8c0c8" fill-opacity="0.25"/>
<circle cx="389.9" cy="401.7" r="4.2" fill="#f8c0c8" fill-opacity="0.25"/>
<circle cx="384.1" cy="330.7" r="4.2" fill="#f8c0c8" fill-opacity="0.25"/>
<circle cx="381.4" cy="704.5" r="4.2" fill="#f8c0c8" fill-opacity="0.25"/>
<circle cx="406.2" cy="492.8" r="4.2" fill="#f8c0c8" fill-opacity="0.25"/>
<circle cx="385.4" cy="259.5" r="4.2" fill="#f8c0c8" fill-opacity="0.25"/>
<circle cx="368.6" cy="549.1" r="4.2" fill="#f8c0c8" fill-opacity="0.25"/>
<circle cx="373.6" cy="474.5" r="4.2" fill="#f8c0c8" fill-opacity="0.25"/>
<circle cx="364.7" cy="627.4" r="4.2" fill="#f8c0c8" fill-opacity="0.25"/>
<circle cx="394.8" cy="730.2" r="4.2" fill="#f8c0c8" fill-opacity="0.25"/>
<circle cx="407.5" cy="637.6" r="4.2" fill="#f8c0c8" fill-opacity="0.25"/>
<circle cx="403.1" cy="651.4" r="4.2" fill="#f8c0c8" fill-opacity="0.25"/>
<circle cx="364.8" cy="635.1" r="4.2" fill="#f8c0c8" fill-opacity="0.25"/>
<circle cx="374.9" cy="448.5" r="4.2" fill="#f8c0c8" fill-opacity="0.25"/>
<circle cx="372.4" cy="443.6" r="4.2" fill="#f8c0c8" fill-opacity="0.25"/>
<circle cx="398.8" cy="672.0" r="4.2" fill="#f8c0c8" fill-opacity="0.25"/>
<circle cx="402.5" cy="450.5" r="4.2" fill="#f8c0c8" fill-opacity="0.25"/>
<circle cx="367.8" cy="444.9" r="4.2" fill="#f8c0c8" fill-opacity="0.25"/>
<circle cx="395.9" cy="480.0" r="4.2" fill="#f8c0c8" fill-opacity="0.25"/>
<circle cx="406.0" cy="535.7" r="4.2" fill="#f8c0c8" fill-opacity="0.25"/>
<circle cx="407.4" cy="593.1" r="4.2" fill="#f8c0c8" fill-opacity="0.25"/>
<circle cx="364.5" cy="449.3" r="4.2" fill="#f8c0c8" fill-opacity="0.25"/>
<circle cx="393.3" cy="702.9" r="4.2" fill="#f8c0c8" fill-opacity="0.25"/>
<circle cx="367.6" cy="397.6" r="4.2" fill="#f8c0c8" fill-opacity="0.25"/>
<circle cx="396.8" cy="577.3" r="4.2" fill="#f8c0c8" fill-opacity="0.25"/>
<circle cx="402.7" cy="622.6" r="4.2" fill="#f8c0c8" fill-opacity="0.25"/>
<circle cx="366.7" cy="528.5" r="4.2" fill="#f8c0c8" fill-opacity="0.25"/>
<circle cx="389.9" cy="561.6" r="4.2" fill="#f8c0c8" fill-opacity="0.25"/>
<circle cx="394.5" cy="541.8" r="4.2" fill="#f8c0c8" fill-opacity="0.25"/>
<circle cx="399.9" cy="629.7" r="4.2" fill="#f8c0c8" fill-opacity="0.25"/>
<circle cx="393.0" cy="562.8" r="4.2" fill="#f8c0c8" fill-opacity="0.25"/>
<circle cx="382.8" cy="479.7" r="4.2" fill="#f8c0c8" fill-opacity="0.25"/>
<circle cx="399.4" cy="556.5" r="4.2" fill="#f8c0c8" fill-opacity="0.25"/>
<circle cx="399.3" cy="306.3" r="4.2" fill="#f8c0c8" fill-opacity="0.25"/>
<circle cx="377.2" cy="501.5" r="4.2" fill="#f8c0c8" fill-opacity="0.25"/>
<circle cx="407.8" cy="666.3" r="4.2" fill="#f8c0c8" fill-opacity="0.25"/>
<circle cx="401.2" cy="454.1" r="4.2" fill="#f8c0c8" fill-opacity="0.25"/>
<circle cx="391.3" cy="571.4" r="4.2" fill="#f8c0c8" fill-opacity="0.25"/>
<circle cx="401.4" cy="266.7" r="4.2" fill="#f8c0c8" fill-opacity="0.25"/>
<circle cx="377.9" cy="489.6" r="4.2" fill="#f8c0c8" fill-opacity="0.25"/>
<circle cx="404.0" cy="544.6" r="4.2" fill="#f8c0c8" fill-opacity="0.25"/>
<circle cx="394.8" cy="559.0" r="4.2" fill="#f8c0c8" fill-opacity="0.25"/>
<circle cx="404.3" cy="489.4" r="4.2" fill="#f8c0c8" fill-opacity="0.25"/>
<circle cx="376.7" cy="403.5" r="4.2" fill="#f8c0c8" fill-opacity="0.25"/>
<circle cx="375.8" cy="738.7" r="4.2" fill="#f8c0c8" fill-opacity="0.25"/>
<circle cx="390.4" cy="546.3" r="4.2" fill="#f8c0c8" fill-opacity="0.25"/>
<circle cx="403.9" cy="398.4" r="4.2" fill="#f8c0c8" fill-opacity="0.25"/>
<circle cx="401.5" cy="676.3" r="4.2" fill="#f8c0c8" fill-opacity="0.25"/>
<circle cx="403.0" cy="400.9" r="4.2" fill="#f8c0c8" fill-opacity="0.25"/>
<circle cx="376.3" cy="499.7" r="4.2" fill="#f8c0c8" fill-opacity="0.25"/>
<circle cx="400.3" cy="377.3" r="4.2" fill="#f8c0c8" fill-opacity="0.25"/>
<circle cx="405.1" cy="460.6" r="4.2" fill="#f8c0c8" fill-opacity="0.25"/>
<circle cx="367.8" cy="567.3" r="4.2" fill="#f8c0c8" fill-opacity="0.25"/>
<circle cx="399.9" cy="506.1" r="4.2" fill="#f8c0c8" fill-opacity="0.25"/>
<circle cx="397.8" cy="611.0" r="4.2" fill="#f8c0c8" fill-opacity="0.25"/>
<circle cx="374.5" cy="318.6" r="4.2" fill="#f8c0c8" fill-opacity="0.25"/>
<circle cx="394.5" cy="487.6" r="4.2" fill="#f8c0c8" fill-opacity="0.25"/>
<circle cx="373.3" cy="534.4" r="4.2" fill="#f8c0c8" fill-opacity="0.25"/>
<circle cx="397.8" cy="592.9" r="4.2" fill="#f8c0c8" fill-opacity="0.25"/>
<circle cx="384.7" cy="412.9" r="4.2" fill="#f8c0c8" fill-opacity="0.25"/>
<circle cx="400.3" cy="651.6" r="4.2" fill="#f8c0c8" fill-opacity="0.25"/>
<circle cx="374.5" cy="424.6" r="4.2" fill="#f8c0c8" fill-opacity="0.25"/>
<circle cx="404.4" cy="497.1" r="4.2" fill="#f8c0c8" fill-opacity="0.25"/>
<circle cx="387.5" cy="357.0" r="4.2" fill="#f8c0c8" fill-opacity="0.25"/>
<circle cx="390.5" cy="531.2" r="4.2" fill="#f8c0c8" fill-opacity="0.25"/>
<circle cx="372.7" cy="614.8" r="4.2" fill="#f8c0c8" fill-opacity="0.25"/>
<circle cx="395.5" cy="617.7" r="4.2" fill="#f8c0c8" fill-opacity="0.25"/>
<circle cx="389.4" cy="562.9" r="4.2" fill="#f8c0c8" fill-opacity="0.25"/>
<circle cx="387.3" cy="551.8" r="4.2" fill="#f8c0c8" fill-opacity="0.25"/>
<circle cx="366.0" cy="628.4" r="4.2" fill="#f8c0c8" fill-opacity="0.25"/>
<circle cx="380.8" cy="224.0" r="4.2" fill="#f8c0c8" fill-opacity="0.25"/>
<circle cx="392.5" cy="642.9" r="4.2" fill="#f8c0c8" fill-opacity="0.25"/>
<circle cx="371.0" cy="415.5" r="4.2" fill="#f8c0c8" fill-opacity="0.25"/>
<circle cx="379.5" cy="491.0" r="4.2" fill="#f8c0c8" fill-opacity="0.25"/>
<circle cx="364.9" cy="518.0" r="4.2" fill="#f8c0c8" fill-opacity="0.25"/>
<circle cx="408.6" cy="681.0" r="4.2" fill="#f8c0c8" fill-opacity="0.25"/>
<circle cx="385.9" cy="368.4" r="4.2" fill="#f8c0c8" fill-opacity="0.25"/>
<circle cx="375.8" cy="501.4" r="4.2" fill="#f8c0c8" fill-opacity="0.25"/>
<circle cx="383.2" cy="420.4" r="4.2" fill="#f8c0c8" fill-opacity="0.25"/>
<circle cx="398.5" cy="304.8" r="4.2" fill="#f8c0c8" fill-opacity="0.25"/>
<circle cx="407.4" cy="396.7" r="4.2" fill="#f8c0c8" fill-opacity="0.25"/>
<circle cx="365.7" cy="593.1" r="4.2" fill="#f8c0c8" fill-opacity="0.25"/>
<circle cx="372.1" cy="610.8" r="4.2" fill="#f8c0c8" fill-opacity="0.25"/>
<circle cx="366.3" cy="653.8" r="4.2" fill="#f8c0c8" fill-opacity="0.25"/>
<circle cx="403.2" cy="504.8" r="4.2" fill="#f8c0c8" fill-opacity="0.25"/>
<circle cx="406.6" cy="536.3" r="4.2" fill="#f8c0c8" fill-opacity="0.25"/>
<circle cx="366.9" cy="338.8" r="4.2" fill="#f8c0c8" fill-opacity="0.25"/>
<circle cx="381.9" cy="490.7" r="4.2" fill="#f8c0c8" fill-opacity="0.25"/>
<circle cx="407.2" cy="638.2" r="4.2" fill="#f8c0c8" fill-opacity="0.25"/>
<circle cx="389.4" cy="592.2" r="4.2" fill="#f8c0c8" fill-opacity="0.25"/>
<circle cx="407.0" cy="475.9" r="4.2" fill="#f8c0c8" fill-opacity="0.25"/>
<circle cx="381.7" cy="465.8" r="4.2" fill="#f8c0c8" fill-opacity="0.25"/>
<circle cx="371.2" cy="539.1" r="4.2" fill="#f8c0c8" fill-opacity="0.25"/>
<circle cx="408.6" cy="286.9" r="4.2" fill="#f8c0c8" fill-opacity="0.25"/>
<circle cx="365.7" cy="603.8" r="4.2" fill="#f8c0c8" fill-opacity="0.25"/>
<circle cx="379.8" cy="592.6" r="4.2" fill="#f8c0c8" fill-opacity="0.25"/>
<circle cx="404.7" cy="345.5" r="4.2" fill="#f8c0c8" fill-opacity="0.25"/>
<circle cx="366.1" cy="385.7" r="4.2" fill="#f8c0c8" fill-opacity="0.25"/>
<circle cx="395.9" cy="416.1" r="4.2" fill="#f8c0c8" fill-opacity="0.25"/>
<circle cx="408.3" cy="473.8" r="4.2" fill="#f8c0c8" fill-opacity="0.25"/>
<circle cx="370.5" cy="668.9" r="4.2" fill="#f8c0c8" fill-opacity="0.25"/>
<circle cx="406.3" cy="434.9" r="4.2" fill="#f8c0c8" fill-opacity="0.25"/>
<circle cx="377.4" cy="463.3" r="4.2" fill="#f8c0c8" fill-opacity="0.25"/>
<circle cx="398.1" cy="492.9" r="4.2" fill="#f8c0c8" fill-opacity="0.25"/>
<circle cx="378.6" cy="643.1" r="4.2" fill="#f8c0c8" fill-opacity="0.25"/>
<circle cx="369.6" cy="592.3" r="4.2" fill="#f8c0c8" fill-opacity="0.25"/>
<circle cx="371.6" cy="529.9" r="4.2" fill="#f8c0c8" fill-opacity="0.25"/>
<circle cx="370.4" cy="598.1" r="4.2" fill="#f8c0c8" fill-opacity="0.25"/>
<circle cx="364.6" cy="463.0" r="4.2" fill="#f8c0c8" fill-opacity="0.25"/>
<circle cx="372.8" cy="449.2" r="4.2" fill="#f8c0c8" fill-opacity="0.25"/>
<circle cx="405.7" cy="679.7" r="4.2" fill="#f8c0c8" fill-opacity="0.25"/>
<circle cx="406.0" cy="604.2" r="4.2" fill="#f8c0c8" fill-opacity="0.25"/>
<circle cx="404.0" cy="368.0" r="4.2" fill="#f8c0c8" fill-opacity="0.25"/>
<circle cx="384.1" cy="631.5" r="4.2" fill="#f8c0c8" fill-opacity="0.25"/>
<circle cx="405.8" cy="646.6" r="4.2" fill="#f8c0c8" fill-opacity="0.25"/>
<circle cx="392.3" cy="382.6" r="4.2" fill="#f8c0c8" fill-opacity="0.25"/>
<circle cx="379.3" cy="538.0" r="4.2" fill="#f8c0c8" fill-opacity="0.25"/>
<circle cx="385.5" cy="394.1" r="4.2" fill="#f8c0c8" fill-opacity="0.25"/>
<circle cx="370.4" cy="480.2" r="4.2" fill="#f8c0c8" fill-opacity="0.25"/>
<circle cx="366.6" cy="603.8" r="4.2" fill="#f8c0c8" fill-opacity="0.25"/>
<circle cx="388.9" cy="450.5" r="4.2" fill="#f8c0c8" fill-opacity="0.25"/>
<circle cx="403.2" cy="629.8" r="4.2" fill="#f8c0c8" fill-opacity="0.25"/>
<circle cx="382.5" cy="589.7" r="4.2" fill="#f8c0c8" fill-opacity="0.25"/>
<circle cx="376.2" cy="626.1" r="4.2" fill="#f8c0c8" fill-opacity="0.25"/>
<circle cx="379.1" cy="384.3" r="4.2" fill="#f8c0c8" fill-opacity="0.25"/>
<circle cx="386.1" cy="622.0" r="4.2" fill="#f8c0c8" fill-opacity="0.25"/>
<circle cx="404.6" cy="575.3" r="4.2" fill="#f8c0c8" fill-opacity="0.25"/>
<circle cx="408.0" cy="640.1" r="4.2" fill="#f8c0c8" fill-opacity="0.25"/>
<circle cx="404.3" cy="668.3" r="4.2" fill="#f8c0c8" fill-opacity="0.25"/>
<circle cx="373.5" cy="466.3" r="4.2" fill="#f8c0c8" fill-opacity="0.25"/>
<circle cx="376.9" cy="531.0" r="4.2" fill="#f8c0c8" fill-opacity="0.25"/>
<circle cx="373.1" cy="592.1" r="4.2" fill="#f8c0c8" fill-opacity="0.25"/>
<circle cx="408.6" cy="562.5" r="4.2" fill="#f8c0c8" fill-opacity="0.25"/>
<circle cx="405.6" cy="221.9" r="4.2" fill="#f8c0c8" fill-opacity="0.25"/>
<circle cx="377.0" cy="646.2" r="4.2" fill="#f8c0c8" fill-opacity="0.25"/>
<circle cx="366.6" cy="350.4" r="4.2" fill="#f8c0c8" fill-opacity="0.25"/>
<circle cx="377.2" cy="446.0" r="4.2" fill="#f8c0c8" fill-opacity="0.25"/>
<circle cx="364.7" cy="264.2" r="4.2" fill="#f8c0c8" fill-opacity="0.25"/>
<circle cx="379.3" cy="403.7" r="4.2" fill="#f8c0c8" fill-opacity="0.25"/>
<circle cx="364.1" cy="631.4" r="4.2" fill="#f8c0c8" fill-opacity="0.25"/>
<circle cx="387.7" cy="388.6" r="4.2" fill="#f8c0c8" fill-opacity="0.25"/>
<circle cx="383.6" cy="615.9" r="4.2" fill="#f8c0c8" fill-opacity="0.25"/>
<circle cx="373.8" cy="336.9" r="4.2" fill="#f8c0c8" fill-opacity="0.25"/>
<circle cx="370.2" cy="499.9" r="4.2" fill="#f8c0c8" fill-opacity="0.25"/>
<circle cx="398.7" cy="617.8" r="4.2" fill="#f8c0c8" fill-opacity="0.25"/>
<circle cx="372.9" cy="451.2" r="4.2" fill="#f8c0c8" fill-opacity="0.25"/>
<circle cx="367.9" cy="656.2" r="4.2" fill="#f8c0c8" fill-opacity="0.25"/>
<circle cx="386.3" cy="487.0" r="4.2" fill="#f8c0c8" fill-opacity="0.25"/>
<circle cx="373.3" cy="587.6" r="4.2" fill="#f8c0c8" fill-opacity="0.25"/>
<circle cx="395.8" cy="485.7" r="4.2" fill="#f8c0c8" fill-opacity="0.25"/>
<circle cx="390.2" cy="401.0" r="4.2" fill="#f8c0c8" fill-opacity="0.25"/>
<circle cx="367.0" cy="610.4" r="4.2" fill="#f8c0c8" fill-opacity="0.25"/>
<circle cx="382.4" cy="443.9" r="4.2" fill="#f8c0c8" fill-opacity="0.25"/>
<circle cx="366.5" cy="447.7" r="4.2" fill="#f8c0c8" fill-opacity="0.25"/>
<circle cx="379.1" cy="401.6" r="4.2" fill="#f8c0c8" fill-opacity="0.25"/>
<circle cx="402.9" cy="382.8" r="4.2" fill="#f8c0c8" fill-opacity="0.25"/>
<circle cx="364.7" cy="526.7" r="4.2" fill="#f8c0c8" fill-opacity="0.25"/>
<circle cx="385.4" cy="338.6" r="4.2" fill="#f8c0c8" fill-opacity="0.25"/>
<circle cx="376.0" cy="364.8" r="4.2" fill="#f8c0c8" fill-opacity="0.25"/>
<circle cx="401.4" cy="615.8" r="4.2" fill="#f8c0c8" fill-opacity="0.25"/>
<circle cx="371.4" cy="561.7" r="4.2" fill="#f8c0c8" fill-opacity="0.25"/>
<circle cx="390.8" cy="560.6" r="4.2" fill="#f8c0c8" fill-opacity="0.25"/>
<circle cx="387.4" cy="730.6" r="4.2" fill="#f8c0c8" fill-opacity="0.25"/>
<circle cx="387.2" cy="539.8" r="4.2" fill="#f8c0c8" fill-opacity="0.25"/>
<circle cx="396.2" cy="637.9" r="4.2" fill="#f8c0c8" fill-opacity="0.25"/>
<circle cx="402.9" cy="398.0" r="4.2" fill="#f8c0c8" fill-opacity="0.25"/>
<circle cx="396.0" cy="574.5" r="4.2" fill="#f8c0c8" fill-opacity="0.25"/>
<circle cx="397.8" cy="557.7" r="4.2" fill="#f8c0c8" fill-opacity="0.25"/>
<circle cx="403.3" cy="666.0" r="4.2" fill="#f8c0c8" fill-opacity="0.25"/>
<circle cx="386.3" cy="297.8" r="4.2" fill="#f8c0c8" fill-opacity="0.25"/>
<circle cx="387.9" cy="520.1" r="4.2" fill="#f8c0c8" fill-opacity="0.25"/>
<circle cx="364.9" cy="511.8" r="4.2" fill="#f8c0c8" fill-opacity="0.25"/>
<circle cx="374.1" cy="285.3" r="4.2" fill="#f8c0c8" fill-opacity="0.25"/>
<circle cx="368.6" cy="617.1" r="4.2" fill="#f8c0c8" fill-opacity="0.25"/>
<circle cx="400.8" cy="594.1" r="4.2" fill="#f8c0c8" fill-opacity="0.25"/>
<circle cx="368.3" cy="682.9" r="4.2" fill="#f8c0c8" fill-opacity="0.25"/>
<circle cx="372.8" cy="455.6" r="4.2" fill="#f8c0c8" fill-opacity="0.25"/>
<circle cx="391.0" cy="694.7" r="4.2" fill="#f8c0c8" fill-opacity="0.25"/>
<circle cx="387.5" cy="498.2" r="4.2" fill="#f8c0c8" fill-opacity="0.25"/>
<circle cx="368.6" cy="454.3" r="4.2" fill="#f8c0c8" fill-opacity="0.25"/>
<circle cx="396.3" cy="366.3" r="4.2" fill="#f8c0c8" fill-opacity="0.25"/>
<circle cx="369.5" cy="674.7" r="4.2" fill="#f8c0c8" fill-opacity="0.25"/>
<circle cx="386.5" cy="526.5" r="4.2" fill="#f8c0c8" fill-opacity="0.25"/>
<circle cx="369.5" cy="586.0" r="4.2" fill="#f8c0c8" fill-opacity="0.25"/>
<circle cx="370.2" cy="551.0" r="4.2" fill="#f8c0c8" fill-opacity="0.25"/>
<circle cx="402.7" cy="492.8" r="4.2" fill="#f8c0c8" fill-opacity="0.25"/>
<circle cx="389.8" cy="629.0" r="4.2" fill="#f8c0c8" fill-opacity="0.25"/>
<circle cx="371.4" cy="439.0" r="4.2" fill="#f8c0c8" fill-opacity="0.25"/>
<circle cx="406.2" cy="392.4" r="4.2" fill="#f8c0c8" fill-opacity="0.25"/>
<circle cx="382.9" cy="555.7" r="4.2" fill="#f8c0c8" fill-opacity="0.25"/>
<circle cx="387.7" cy="384.2" r="4.2" fill="#f8c0c8" fill-opacity="0.25"/>
<circle cx="406.4" cy="553.8" r="4.2" fill="#f8c0c8" fill-opacity="0.25"/>
<circle cx="379.2" cy="421.8" r="4.2" fill="#f8c0c8" fill-opacity="0.25"/>
<circle cx="379.1" cy="597.5" r="4.2" fill="#f8c0c8" fill-opacity="0.25"/>
<circle cx="408.2" cy="542.6" r="4.2" fill="#f8c0c8" fill-opacity="0.25"/>
<circle cx="405.1" cy="405.3" r="4.2" fill="#f8c0c8" fill-opacity="0.25"/>
<circle cx="402.1" cy="398.9" r="4.2" fill="#f8c0c8" fill-opacity="0.25"/>
<circle cx="387.3" cy="670.1" r="4.2" fill="#f8c0c8" fill-opacity="0.25"/>
<circle cx="406.0" cy="294.2" r="4.2" fill="#f8c0c8" fill-opacity="0.25"/>
<circle cx="383.0" cy="594.5" r="4.2" fill="#f8c0c8" fill-opacity="0.25"/>
<circle cx="380.4" cy="478.6" r="4.2" fill="#f8c0c8" fill-opacity="0.25"/>
<circle cx="367.1" cy="514.0" r="4.2" fill="#f8c0c8" fill-opacity="0.25"/>
<circle cx="386.7" cy="543.4" r="4.2" fill="#f8c0c8" fill-opacity="0.25"/>
<circle cx="370.3" cy="687.9" r="4.2" fill="#f8c0c8" fill-opacity="0.25"/>
<circle cx="398.9" cy="283.2" r="4.2" fill="#f8c0c8" fill-opacity="0.25"/>
<circle cx="392.5" cy="313.7" r="4.2" fill="#f8c0c8" fill-opacity="0.25"/>
<circle cx="403.8" cy="402.4" r="4.2" fill="#f8c0c8" fill-opacity="0.25"/>
<circle cx="365.5" cy="357.3" r="4.2" fill="#f8c0c8" fill-opacity="0.25"/>
<circle cx="376.0" cy="475.5" r="4.2" fill="#f8c0c8" fill-opacity="0.25"/>
<circle cx="376.3" cy="462.7" r="4.2" fill="#f8c0c8" fill-opacity="0.25"/>
<circle cx="405.6" cy="510.1" r="4.2" fill="#f8c0c8" fill-opacity="0.25"/>
<circle cx="375.3" cy="482.6" r="4.2" fill="#f8c0c8" fill-opacity="0.25"/>
<circle cx="383.5" cy="517.7" r="4.2" fill="#f8c0c8" fill-opacity="0.25"/>
<circle cx="376.9" cy="300.7" r="4.2" fill="#f8c0c8" fill-opacity="0.25"/>
<circle cx="393.1" cy="578.8" r="4.2" fill="#f8c0c8" fill-opacity="0.25"/>
<circle cx="390.7" cy="638.0" r="4.2" fill="#f8c0c8" fill-opacity="0.25"/>
<circle cx="387.1" cy="295.9" r="4.2" fill="#f8c0c8" fill-opacity="0.25"/>
<circle cx="385.0" cy="589.1" r="4.2" fill="#f8c0c8" fill-opacity="0.25"/>
<circle cx="370.7" cy="513.0" r="4.2" fill="#f8c0c8" fill-opacity="0.25"/>
<circle cx="369.9" cy="636.8" r="4.2" fill="#f8c0c8" fill-opacity="0.25"/>
<circle cx="382.3" cy="582.1" r="4.2" fill="#f8c0c8" fill-opacity="0.25"/>
<circle cx="375.0" cy="583.6" r="4.2" fill="#f8c0c8" fill-opacity="0.25"/>
<circle cx="388.6" cy="651.5" r="4.2" fill="#f8c0c8" fill-opacity="0.25"/>
<circle cx="391.4" cy="384.1" r="4.2" fill="#f8c0c8" fill-opacity="0.25"/>
<circle cx="393.3" cy="500.3" r="4.2" fill="#f8c0c8" fill-opacity="0.25"/>
<circle cx="396.0" cy="610.7" r="4.2" fill="#f8c0c8" fill-opacity="0.25"/>
<circle cx="388.7" cy="535.6" r="4.2" fill="#f8c0c8" fill-opacity="0.25"/>
<circle cx="385.1" cy="485.5" r="4.2" fill="#f8c0c8" fill-opacity="0.25"/>
<circle cx="374.9" cy="577.4" r="4.2" fill="#f8c0c8" fill-opacity="0.25"/>
<circle cx="387.1" cy="603.8" r="4.2" fill="#f8c0c8" fill-opacity="0.25"/>
<circle cx="390.4" cy="557.2" r="4.2" fill="#f8c0c8" fill-opacity="0.25"/>
<circle cx="379.9" cy="710.7" r="4.2" fill="#f8c0c8" fill-opacity="0.25"/>
<circle cx="374.7" cy="370.9" r="4.2" fill="#f8c0c8" fill-opacity="0.25"/>
<circle cx="386.1" cy="505.0" r="4.2" fill="#f8c0c8" fill-opacity="0.25"/>
<circle cx="408.4" cy="584.6" r="4.2" fill="#f8c0c8" fill-opacity="0.25"/>
<circle cx="398.7" cy="581.6" r="4.2" fill="#f8c0c8" fill-opacity="0.25"/>
<circle cx="367.0" cy="625.1" r="4.2" fill="#f8c0c8" fill-opacity="0.25"/>
<circle cx="383.8" cy="365.3" r="4.2" fill="#f8c0c8" fill-opacity="0.25"/>
<circle cx="381.5" cy="665.5" r="4.2" fill="#f8c0c8" fill-opacity="0.25"/>
<circle cx="397.1" cy="541.4" r="4.2" fill="#f8c0c8" fill-opacity="0.25"/>
<circle cx="374.1" cy="641.8" r="4.2" fill="#f8c0c8" fill-opacity="0.25"/>
<circle cx="397.2" cy="292.9" r="4.2" fill="#f8c0c8" fill-opacity="0.25"/>
<circle cx="379.2" cy="626.5" r="4.2" fill="#f8c0c8" fill-opacity="0.25"/>
<circle cx="394.4" cy="565.8" r="4.2" fill="#f8c0c8" fill-opacity="0.25"/>
<circle cx="402.2" cy="484.3" r="4.2" fill="#f8c0c8" fill-opacity="0.25"/>
<circle cx="387.3" cy="395.2" r="4.2" fill="#f8c0c8" fill-opacity="0.25"/>
<circle cx="397.4" cy="441.8" r="4.2" fill="#f8c0c8" fill-opacity="0.25"/>
<circle cx="385.4" cy="432.1" r="4.2" fill="#f8c0c8" fill-opacity="0.25"/>
<circle cx="395.9" cy="416.9" r="4.2" fill="#f8c0c8" fill-opacity="0.25"/>
<circle cx="369.7" cy="334.4" r="4.2" fill="#f8c0c8" fill-opacity="0.25"/>
<circle cx="364.2" cy="365.5" r="4.2" fill="#f8c0c8" fill-opacity="0.25"/>
<circle cx="390.4" cy="428.5" r="4.2" fill="#f8c0c8" fill-opacity="0.25"/>
<circle cx="407.3" cy="525.3" r="4.2" fill="#f8c0c8" fill-opacity="0.25"/>
<circle cx="382.8" cy="499.7" r="4.2" fill="#f8c0c8" fill-opacity="0.25"/>
<circle cx="403.3" cy="417.7" r="4.2" fill="#f8c0c8" fill-opacity="0.25"/>
<circle cx="381.1" cy="487.4" r="4.2" fill="#f8c0c8" fill-opacity="0.25"/>
<circle cx="384.6" cy="538.0" r="4.2" fill="#f8c0c8" fill-opacity="0.25"/>
<circle cx="377.2" cy="447.2" r="4.2" fill="#f8c0c8" fill-opacity="0.25"/>
<circle cx="389.0" cy="555.1" r="4.2" fill="#f8c0c8" fill-opacity="0.25"/>
<circle cx="378.5" cy="556.8" r="4.2" fill="#f8c0c8" fill-opacity="0.25"/>
<circle cx="402.2" cy="415.7" r="4.2" fill="#f8c0c8" fill-opacity="0.25"/>
<circle cx="384.0" cy="524.9" r="4.2" fill="#f8c0c8" fill-opacity="0.25"/>
<circle cx="377.7" cy="616.5" r="4.2" fill="#f8c0c8" fill-opacity="0.25"/>
<circle cx="389.9" cy="629.7" r="4.2" fill="#f8c0c8" fill-opacity="0.25"/>
<circle cx="368.0" cy="496.4" r="4.2" fill="#f8c0c8" fill-opacity="0.25"/>
<circle cx="378.6" cy="329.3" r="4.2" fill="#f8c0c8" fill-opacity="0.25"/>
<circle cx="401.7" cy="382.0" r="4.2" fill="#f8c0c8" fill-opacity="0.25"/>
<circle cx="373.2" cy="293.4" r="4.2" fill="#f8c0c8" fill-opacity="0.25"/>
<circle cx="405.0" cy="545.2" r="4.2" fill="#f8c0c8" fill-opacity="0.25"/>
<circle cx="366.1" cy="714.0" r="4.2" fill="#f8c0c8" fill-opacity="0.25"/>
<circle cx="386.4" cy="502.2" r="4.2" fill="#f8c0c8" fill-opacity="0.25"/>
<circle cx="398.8" cy="329.2" r="4.2" fill="#f8c0c8" fill-opacity="0.25"/>
<circle cx="408.9" cy="511.4" r="4.2" fill="#f8c0c8" fill-opacity="0.25"/>
<circle cx="387.3" cy="518.7" r="4.2" fill="#f8c0c8" fill-opacity="0.25"/>
<circle cx="381.5" cy="460.4" r="4.2" fill="#f8c0c8" fill-opacity="0.25"/>
<circle cx="390.8" cy="564.3" r="4.2" fill="#f8c0c8" fill-opacity="0.25"/>
<circle cx="406.7" cy="566.1" r="4.2" fill="#f8c0c8" fill-opacity="0.25"/>
<circle cx="387.6" cy="463.4" r="4.2" fill="#f8c0c8" fill-opacity="0.25"/>
<circle cx="380.8" cy="645.5" r="4.2" fill="#f8c0c8" fill-opacity="0.25"/>
<circle cx="389.3" cy="552.3" r="4.2" fill="#f8c0c8" fill-opacity="0.25"/>
<circle cx="403.6" cy="499.0" r="4.2" fill="#f8c0c8" fill-opacity="0.25"/>
<circle cx="385.9" cy="288.1" r="4.2" fill="#f8c0c8" fill-opacity="0.25"/>
<circle cx="392.1" cy="541.4" r="4.2" fill="#f8c0c8" fill-opacity="0.25"/>
<circle cx="379.4" cy="226.2" r="4.2" fill="#f8c0c8" fill-opacity="0.25"/>
<circle cx="400.7" cy="514.3" r="4.2" fill="#f8c0c8" fill-opacity="0.25"/>
<circle cx="378.3" cy="621.0" r="4.2" fill="#f8c0c8" fill-opacity="0.25"/>
<circle cx="401.2" cy="264.6" r="4.2" fill="#f8c0c8" fill-opacity="0.25"/>
<circle cx="369.0" cy="520.4" r="4.2" fill="#f8c0c8" fill-opacity="0.25"/>
<circle cx="395.0" cy="351.4" r="4.2" fill="#f8c0c8" fill-opacity="0.25"/>
<circle cx="408.6" cy="395.6" r="4.2" fill="#f8c0c8" fill-opacity="0.25"/>
<circle cx="382.9" cy="355.2" r="4.2" fill="#f8c0c8" fill-opacity="0.25"/>
<circle cx="377.0" cy="625.9" r="4.2" fill="#f8c0c8" fill-opacity="0.25"/>
<circle cx="386.7" cy="520.7" r="4.2" fill="#f8c0c8" fill-opacity="0.25"/>
<circle cx="372.2" cy="615.2" r="4.2" fill="#f8c0c8" fill-opacity="0.25"/>
<circle cx="391.1" cy="479.5" r="4.2" fill="#f8c0c8" fill-opacity="0.25"/>
<circle cx="408.7" cy="565.6" r="4.2" fill="#f8c0c8" fill-opacity="0.25"/>
<circle cx="365.9" cy="477.3" r="4.2" fill="#f8c0c8" fill-opacity="0.25"/>
<circle cx="399.4" cy="549.4" r="4.2" fill="#f8c0c8" fill-opacity="0.25"/>
<circle cx="395.1" cy="578.5" r="4.2" fill="#f8c0c8" fill-opacity="0.25"/>
<circle cx="377.7" cy="732.6" r="4.2" fill="#f8c0c8" fill-opacity="0.25"/>
<circle cx="390.4" cy="382.7" r="4.2" fill="#f8c0c8" fill-opacity="0.25"/>
<circle cx="372.8" cy="466.3" r="4.2" fill="#f8c0c8" fill-opacity="0.25"/>
<circle cx="388.9" cy="525.3" r="4.2" fill="#f8c0c8" fill-opacity="0.25"/>
<circle cx="393.1" cy="589.8" r="4.2" fill="#f8c0c8" fill-opacity="0.25"/>
<circle cx="408.9" cy="513.8" r="4.2" fill="#f8c0c8" fill-opacity="0.25"/>
<circle cx="382.5" cy="498.9" r="4.2" fill="#f8c0c8" fill-opacity="0.25"/>
<circle cx="371.1" cy="637.7" r="4.2" fill="#f8c0c8" fill-opacity="0.25"/>
<circle cx="368.8" cy="432.2" r="4.2" fill="#f8c0c8" fill-opacity="0.25"/>
<circle cx="371.7" cy="644.9" r="4.2" fill="#f8c0c8" fill-opacity="0.25"/>
<circle cx="401.0" cy="516.9" r="4.2" fill="#f8c0c8" fill-opacity="0.25"/>
<circle cx="400.3" cy="485.5" r="4.2" fill="#f8c0c8" fill-opacity="0.25"/>
<circle cx="364.6" cy="665.5" r="4.2" fill="#f8c0c8" fill-opacity="0.25"/>
<circle cx="378.5" cy="425.5" r="4.2" fill="#f8c0c8" fill-opacity="0.25"/>
<circle cx="379.9" cy="449.9" r="4.2" fill="#f8c0c8" fill-opacity="0.25"/>
<circle cx="376.0" cy="621.5" r="4.2" fill="#f8c0c8" fill-opacity="0.25"/>
<circle cx="404.7" cy="645.2" r="4.2" fill="#f8c0c8" fill-opacity="0.25"/>
<circle cx="379.7" cy="496.1" r="4.2" fill="#f8c0c8" fill-opacity="0.25"/>
<circle cx="381.4" cy="538.7" r="4.2" fill="#f8c0c8" fill-opacity="0.25"/>
<circle cx="404.1" cy="669.5" r="4.2" fill="#f8c0c8" fill-opacity="0.25"/>
<circle cx="407.2" cy="496.0" r="4.2" fill="#f8c0c8" fill-opacity="0.25"/>
<circle cx="391.9" cy="541.5" r="4.2" fill="#f8c0c8" fill-opacity="0.25"/>
<circle cx="366.0" cy="594.5" r="4.2" fill="#f8c0c8" fill-opacity="0.25"/>
<circle cx="402.5" cy="319.4" r="4.2" fill="#f8c0c8" fill-opacity="0.25"/>
<circle cx="404.4" cy="576.2" r="4.2" fill="#f8c0c8" fill-opacity="0.25"/>
<circle cx="377.7" cy="398.4" r="4.2" fill="#f8c0c8" fill-opacity="0.25"/>
<circle cx="407.2" cy="489.1" r="4.2" fill="#f8c0c8" fill-opacity="0.25"/>
<circle cx="406.7" cy="526.0" r="4.2" fill="#f8c0c8" fill-opacity="0.25"/>
<circle cx="381.5" cy="596.6" r="4.2" fill="#f8c0c8" fill-opacity="0.25"/>
<circle cx="374.0" cy="448.8" r="4.2" fill="#f8c0c8" fill-opacity="0.25"/>
<circle cx="403.4" cy="577.8" r="4.2" fill="#f8c0c8" fill-opacity="0.25"/>
<circle cx="399.7" cy="529.1" r="4.2" fill="#f8c0c8" fill-opacity="0.25"/>
<circle cx="371.8" cy="596.5" r="4.2" fill="#f8c0c8" fill-opacity="0.25"/>
<circle cx="372.4" cy="564.1" r="4.2" fill="#f8c0c8" fill-opacity="0.25"/>
<circle cx="377.1" cy="279.6" r="4.2" fill="#f8c0c8" fill-opacity="0.25"/>
<circle cx="369.2" cy="503.4" r="4.2" fill="#f8c0c8" fill-opacity="0.25"/>
<circle cx="381.4" cy="513.0" r="4.2" fill="#f8c0c8" fill-opacity="0.25"/>
<circle cx="366.9" cy="551.6" r="4.2" fill="#f8c0c8" fill-opacity="0.25"/>
<circle cx="401.2" cy="637.1" r="4.2" fill="#f8c0c8" fill-opacity="0.25"/>
<circle cx="375.0" cy="566.1" r="4.2" fill="#f8c0c8" fill-opacity="0.25"/>
<circle cx="376.8" cy="614.1" r="4.2" fill="#f8c0c8" fill-opacity="0.25"/>
<circle cx="365.6" cy="598.6" r="4.2" fill="#f8c0c8" fill-opacity="0.25"/>
<circle cx="379.4" cy="467.6" r="4.2" fill="#f8c0c8" fill-opacity="0.25"/>
<circle cx="395.8" cy="626.0" r="4.2" fill="#f8c0c8" fill-opacity="0.25"/>
<circle cx="376.1" cy="648.9" r="4.2" fill="#f8c0c8" fill-opacity="0.25"/>
<circle cx="369.8" cy="387.0" r="4.2" fill="#f8c0c8" fill-opacity="0.25"/>
<circle cx="401.6" cy="540.5" r="4.2" fill="#f8c0c8" fill-opacity="0.25"/>
<circle cx="371.2" cy="405.0" r="4.2" fill="#f8c0c8" fill-opacity="0.25"/>
<circle cx="396.5" cy="565.6" r="4.2" fill="#f8c0c8" fill-opacity="0.25"/>
<circle cx="483.6" cy="587.2" r="4.2" fill="#b8e8ec" fill-opacity="0.25"/>
<circle cx="483.3" cy="639.9" r="4.2" fill="#b8e8ec" fill-opacity="0.25"/>
<circle cx="450.7" cy="553.5" r="4.2" fill="#b8e8ec" fill-opacity="0.25"/>
<circle cx="446.4" cy="567.5" r="4.2" fill="#b8e8ec" fill-opacity="0.25"/>
<circle cx="452.2" cy="485.8" r="4.2" fill="#b8e8ec" fill-opacity="0.25"/>
<circle cx="466.9" cy="380.9" r="4.2" fill="#b8e8ec" fill-opacity="0.25"/>
<circle cx="451.6" cy="589.5" r="4.2" fill="#b8e8ec" fill-opacity="0.25"/>
<circle cx="450.1" cy="518.8" r="4.2" fill="#b8e8ec" fill-opacity="0.25"/>
<circle cx="446.0" cy="396.2" r="4.2" fill="#b8e8ec" fill-opacity="0.25"/>
<circle cx="464.9" cy="550.8" r="4.2" fill="#b8e8ec" fill-opacity="0.25"/>
<circle cx="475.2" cy="615.0" r="4.2" fill="#b8e8ec" fill-opacity="0.25"/>
<circle cx="470.1" cy="585.2" r="4.2" fill="#b8e8ec" fill-opacity="0.25"/>
<circle cx="454.5" cy="532.4" r="4.2" fill="#b8e8ec" fill-opacity="0.25"/>
<circle cx="444.4" cy="583.8" r="4.2" fill="#b8e8ec" fill-opacity="0.25"/>
<circle cx="478.8" cy="654.4" r="4.2" fill="#b8e8ec" fill-opacity="0.25"/>
<circle cx="470.3" cy="601.8" r="4.2" fill="#b8e8ec" fill-opacity="0.25"/>
<circle cx="465.8" cy="685.6" r="4.2" fill="#b8e8ec" fill-opacity="0.25"/>
<circle cx="463.0" cy="591.2" r="4.2" fill="#b8e8ec" fill-opacity="0.25"/>
<circle cx="443.5" cy="608.1" r="4.2" fill="#b8e8ec" fill-opacity="0.25"/>
<circle cx="450.7" cy="604.3" r="4.2" fill="#b8e8ec" fill-opacity="0.25"/>
<circle cx="472.8" cy="678.3" r="4.2" fill="#b8e8ec" fill-opacity="0.25"/>
<circle cx="458.7" cy="611.9" r="4.2" fill="#b8e8ec" fill-opacity="0.25"/>
<circle cx="475.4" cy="375.8" r="4.2" fill="#b8e8ec" fill-opacity="0.25"/>
<circle cx="479.3" cy="390.0" r="4.2" fill="#b8e8ec" fill-opacity="0.25"/>
<circle cx="452.9" cy="675.4" r="4.2" fill="#b8e8ec" fill-opacity="0.25"/>
<circle cx="471.1" cy="717.5" r="4.2" fill="#b8e8ec" fill-opacity="0.25"/>
<circle cx="456.3" cy="500.2" r="4.2" fill="#b8e8ec" fill-opacity="0.25"/>
<circle cx="470.2" cy="577.9" r="4.2" fill="#b8e8ec" fill-opacity="0.25"/>
<circle cx="451.7" cy="488.2" r="4.2" fill="#b8e8ec" fill-opacity="0.25"/>
<circle cx="456.3" cy="411.9" r="4.2" fill="#b8e8ec" fill-opacity="0.25"/>
<circle cx="448.7" cy="511.9" r="4.2" fill="#b8e8ec" fill-opacity="0.25"/>
<circle cx="481.6" cy="683.0" r="4.2" fill="#b8e8ec" fill-opacity="0.25"/>
<circle cx="472.6" cy="476.5" r="4.2" fill="#b8e8ec" fill-opacity="0.25"/>
<circle cx="442.3" cy="713.1" r="4.2" fill="#b8e8ec" fill-opacity="0.25"/>
<circle cx="449.4" cy="661.5" r="4.2" fill="#b8e8ec" fill-opacity="0.25"/>
<circle cx="457.6" cy="606.5" r="4.2" fill="#b8e8ec" fill-opacity="0.25"/>
<circle cx="454.5" cy="713.6" r="4.2" fill="#b8e8ec" fill-opacity="0.25"/>
<circle cx="448.6" cy="508.7" r="4.2" fill="#b8e8ec" fill-opacity="0.25"/>
<circle cx="466.2" cy="416.4" r="4.2" fill="#b8e8ec" fill-opacity="0.25"/>
<circle cx="452.0" cy="482.4" r="4.2" fill="#b8e8ec" fill-opacity="0.25"/>
<circle cx="471.3" cy="572.1" r="4.2" fill="#b8e8ec" fill-opacity="0.25"/>
<circle cx="440.5" cy="594.5" r="4.2" fill="#b8e8ec" fill-opacity="0.25"/>
<circle cx="475.4" cy="419.5" r="4.2" fill="#b8e8ec" fill-opacity="0.25"/>
<circle cx="442.4" cy="610.8" r="4.2" fill="#b8e8ec" fill-opacity="0.25"/>
<circle cx="467.8" cy="407.4" r="4.2" fill="#b8e8ec" fill-opacity="0.25"/>
<circle cx="451.5" cy="710.3" r="4.2" fill="#b8e8ec" fill-opacity="0.25"/>
<circle cx="476.1" cy="684.7" r="4.2" fill="#b8e8ec" fill-opacity="0.25"/>
<circle cx="481.7" cy="639.0" r="4.2" fill="#b8e8ec" fill-opacity="0.25"/>
<circle cx="444.4" cy="471.3" r="4.2" fill="#b8e8ec" fill-opacity="0.25"/>
<circle cx="458.2" cy="489.7" r="4.2" fill="#b8e8ec" fill-opacity="0.25"/>
<circle cx="477.8" cy="472.0" r="4.2" fill="#b8e8ec" fill-opacity="0.25"/>
<circle cx="444.5" cy="612.2" r="4.2" fill="#b8e8ec" fill-opacity="0.25"/>
<circle cx="459.6" cy="355.5" r="4.2" fill="#b8e8ec" fill-opacity="0.25"/>
<circle cx="471.6" cy="364.3" r="4.2" fill="#b8e8ec" fill-opacity="0.25"/>
<circle cx="477.8" cy="475.0" r="4.2" fill="#b8e8ec" fill-opacity="0.25"/>
<circle cx="460.9" cy="512.1" r="4.2" fill="#b8e8ec" fill-opacity="0.25"/>
<circle cx="471.9" cy="707.5" r="4.2" fill="#b8e8ec" fill-opacity="0.25"/>
<circle cx="463.5" cy="573.8" r="4.2" fill="#b8e8ec" fill-opacity="0.25"/>
<circle cx="446.2" cy="365.4" r="4.2" fill="#b8e8ec" fill-opacity="0.25"/>
<circle cx="442.5" cy="463.9" r="4.2" fill="#b8e8ec" fill-opacity="0.25"/>
<circle cx="476.8" cy="487.0" r="4.2" fill="#b8e8ec" fill-opacity="0.25"/>
<circle cx="465.1" cy="617.4" r="4.2" fill="#b8e8ec" fill-opacity="0.25"/>
<circle cx="469.2" cy="324.9" r="4.2" fill="#b8e8ec" fill-opacity="0.25"/>
<circle cx="451.7" cy="540.4" r="4.2" fill="#b8e8ec" fill-opacity="0.25"/>
<circle cx="456.6" cy="705.5" r="4.2" fill="#b8e8ec" fill-opacity="0.25"/>
<circle cx="449.6" cy="578.2" r="4.2" fill="#b8e8ec" fill-opacity="0.25"/>
<circle cx="446.6" cy="604.5" r="4.2" fill="#b8e8ec" fill-opacity="0.25"/>
<circle cx="470.7" cy="485.6" r="4.2" fill="#b8e8ec" fill-opacity="0.25"/>
<circle cx="451.4" cy="626.0" r="4.2" fill="#b8e8ec" fill-opacity="0.25"/>
<circle cx="460.5" cy="550.0" r="4.2" fill="#b8e8ec" fill-opacity="0.25"/>
<circle cx="456.3" cy="361.2" r="4.2" fill="#b8e8ec" fill-opacity="0.25"/>
<circle cx="480.3" cy="607.4" r="4.2" fill="#b8e8ec" fill-opacity="0.25"/>
<circle cx="465.8" cy="670.9" r="4.2" fill="#b8e8ec" fill-opacity="0.25"/>
<circle cx="477.2" cy="598.5" r="4.2" fill="#b8e8ec" fill-opacity="0.25"/>
<circle cx="474.7" cy="538.9" r="4.2" fill="#b8e8ec" fill-opacity="0.25"/>
<circle cx="470.5" cy="658.1" r="4.2" fill="#b8e8ec" fill-opacity="0.25"/>
<circle cx="461.3" cy="522.0" r="4.2" fill="#b8e8ec" fill-opacity="0.25"/>
<circle cx="477.9" cy="461.3" r="4.2" fill="#b8e8ec" fill-opacity="0.25"/>
<circle cx="453.5" cy="683.3" r="4.2" fill="#b8e8ec" fill-opacity="0.25"/>
<circle cx="449.8" cy="591.5" r="4.2" fill="#b8e8ec" fill-opacity="0.25"/>
<circle cx="453.1" cy="705.1" r="4.2" fill="#b8e8ec" fill-opacity="0.25"/>
<circle cx="472.1" cy="645.0" r="4.2" fill="#b8e8ec" fill-opacity="0.25"/>
<circle cx="445.6" cy="568.7" r="4.2" fill="#b8e8ec" fill-opacity="0.25"/>
<circle cx="461.6" cy="600.9" r="4.2" fill="#b8e8ec" fill-opacity="0.25"/>
<circle cx="448.1" cy="590.9" r="4.2" fill="#b8e8ec" fill-opacity="0.25"/>
<circle cx="441.0" cy="700.5" r="4.2" fill="#b8e8ec" fill-opacity="0.25"/>
<circle cx="474.3" cy="269.0" r="4.2" fill="#b8e8ec" fill-opacity="0.25"/>
<circle cx="472.8" cy="695.6" r="4.2" fill="#b8e8ec" fill-opacity="0.25"/>
<circle cx="465.9" cy="298.3" r="4.2" fill="#b8e8ec" fill-opacity="0.25"/>
<circle cx="462.5" cy="685.6" r="4.2" fill="#b8e8ec" fill-opacity="0.25"/>
<circle cx="449.0" cy="572.3" r="4.2" fill="#b8e8ec" fill-opacity="0.25"/>
<circle cx="440.9" cy="540.7" r="4.2" fill="#b8e8ec" fill-opacity="0.25"/>
<circle cx="469.5" cy="370.0" r="4.2" fill="#b8e8ec" fill-opacity="0.25"/>
<circle cx="482.6" cy="512.2" r="4.2" fill="#b8e8ec" fill-opacity="0.25"/>
<circle cx="451.8" cy="503.9" r="4.2" fill="#b8e8ec" fill-opacity="0.25"/>
<circle cx="446.7" cy="622.2" r="4.2" fill="#b8e8ec" fill-opacity="0.25"/>
<circle cx="475.3" cy="718.2" r="4.2" fill="#b8e8ec" fill-opacity="0.25"/>
<circle cx="453.8" cy="416.3" r="4.2" fill="#b8e8ec" fill-opacity="0.25"/>
<circle cx="469.2" cy="650.4" r="4.2" fill="#b8e8ec" fill-opacity="0.25"/>
<circle cx="482.2" cy="412.5" r="4.2" fill="#b8e8ec" fill-opacity="0.25"/>
<circle cx="475.8" cy="658.5" r="4.2" fill="#b8e8ec" fill-opacity="0.25"/>
<circle cx="473.9" cy="421.9" r="4.2" fill="#b8e8ec" fill-opacity="0.25"/>
<circle cx="448.8" cy="600.3" r="4.2" fill="#b8e8ec" fill-opacity="0.25"/>
<circle cx="454.9" cy="425.0" r="4.2" fill="#b8e8ec" fill-opacity="0.25"/>
<circle cx="465.3" cy="589.4" r="4.2" fill="#b8e8ec" fill-opacity="0.25"/>
<circle cx="477.9" cy="589.2" r="4.2" fill="#b8e8ec" fill-opacity="0.25"/>
<circle cx="442.4" cy="625.3" r="4.2" fill="#b8e8ec" fill-opacity="0.25"/>
<circle cx="468.8" cy="532.7" r="4.2" fill="#b8e8ec" fill-opacity="0.25"/>
<circle cx="472.3" cy="428.4" r="4.2" fill="#b8e8ec" fill-opacity="0.25"/>
<circle cx="483.0" cy="377.8" r="4.2" fill="#b8e8ec" fill-opacity="0.25"/>
<circle cx="463.0" cy="556.6" r="4.2" fill="#b8e8ec" fill-opacity="0.25"/>
<circle cx="454.0" cy="663.6" r="4.2" fill="#b8e8ec" fill-opacity="0.25"/>
<circle cx="444.1" cy="527.9" r="4.2" fill="#b8e8ec" fill-opacity="0.25"/>
<circle cx="447.9" cy="492.0" r="4.2" fill="#b8e8ec" fill-opacity="0.25"/>
<circle cx="484.1" cy="570.0" r="4.2" fill="#b8e8ec" fill-opacity="0.25"/>
<circle cx="442.3" cy="693.3" r="4.2" fill="#b8e8ec" fill-opacity="0.25"/>
<circle cx="449.1" cy="570.9" r="4.2" fill="#b8e8ec" fill-opacity="0.25"/>
<circle cx="440.6" cy="480.2" r="4.2" fill="#b8e8ec" fill-opacity="0.25"/>
<circle cx="479.0" cy="415.5" r="4.2" fill="#b8e8ec" fill-opacity="0.25"/>
<circle cx="459.6" cy="448.5" r="4.2" fill="#b8e8ec" fill-opacity="0.25"/>
<circle cx="470.3" cy="611.6" r="4.2" fill="#b8e8ec" fill-opacity="0.25"/>
<circle cx="459.5" cy="550.2" r="4.2" fill="#b8e8ec" fill-opacity="0.25"/>
<circle cx="460.2" cy="597.2" r="4.2" fill="#b8e8ec" fill-opacity="0.25"/>
<circle cx="477.7" cy="499.3" r="4.2" fill="#b8e8ec" fill-opacity="0.25"/>
<circle cx="447.9" cy="378.5" r="4.2" fill="#b8e8ec" fill-opacity="0.25"/>
<circle cx="460.4" cy="608.4" r="4.2" fill="#b8e8ec" fill-opacity="0.25"/>
<circle cx="456.2" cy="533.9" r="4.2" fill="#b8e8ec" fill-opacity="0.25"/>
<circle cx="444.3" cy="645.8" r="4.2" fill="#b8e8ec" fill-opacity="0.25"/>
<circle cx="461.2" cy="601.1" r="4.2" fill="#b8e8ec" fill-opacity="0.25"/>
<circle cx="481.4" cy="320.3" r="4.2" fill="#b8e8ec" fill-opacity="0.25"/>
<circle cx="484.3" cy="400.5" r="4.2" fill="#b8e8ec" fill-opacity="0.25"/>
<circle cx="468.4" cy="343.6" r="4.2" fill="#b8e8ec" fill-opacity="0.25"/>
<circle cx="443.2" cy="433.7" r="4.2" fill="#b8e8ec" fill-opacity="0.25"/>
<circle cx="467.9" cy="495.9" r="4.2" fill="#b8e8ec" fill-opacity="0.25"/>
<circle cx="466.2" cy="608.0" r="4.2" fill="#b8e8ec" fill-opacity="0.25"/>
<circle cx="462.1" cy="352.0" r="4.2" fill="#b8e8ec" fill-opacity="0.25"/>
<circle cx="454.0" cy="505.6" r="4.2" fill="#b8e8ec" fill-opacity="0.25"/>
<circle cx="480.3" cy="596.0" r="4.2" fill="#b8e8ec" fill-opacity="0.25"/>
<circle cx="449.0" cy="718.2" r="4.2" fill="#b8e8ec" fill-opacity="0.25"/>
<circle cx="460.6" cy="495.1" r="4.2" fill="#b8e8ec" fill-opacity="0.25"/>
<circle cx="470.2" cy="695.1" r="4.2" fill="#b8e8ec" fill-opacity="0.25"/>
<circle cx="466.6" cy="588.5" r="4.2" fill="#b8e8ec" fill-opacity="0.25"/>
<circle cx="464.3" cy="576.9" r="4.2" fill="#b8e8ec" fill-opacity="0.25"/>
<circle cx="458.3" cy="533.4" r="4.2" fill="#b8e8ec" fill-opacity="0.25"/>
<circle cx="448.6" cy="683.4" r="4.2" fill="#b8e8ec" fill-opacity="0.25"/>
<circle cx="465.2" cy="386.1" r="4.2" fill="#b8e8ec" fill-opacity="0.25"/>
<circle cx="479.3" cy="684.2" r="4.2" fill="#b8e8ec" fill-opacity="0.25"/>
<circle cx="444.8" cy="619.4" r="4.2" fill="#b8e8ec" fill-opacity="0.25"/>
<circle cx="451.8" cy="544.8" r="4.2" fill="#b8e8ec" fill-opacity="0.25"/>
<circle cx="465.4" cy="557.9" r="4.2" fill="#b8e8ec" fill-opacity="0.25"/>
<circle cx="466.3" cy="631.3" r="4.2" fill="#b8e8ec" fill-opacity="0.25"/>
<circle cx="463.6" cy="683.9" r="4.2" fill="#b8e8ec" fill-opacity="0.25"/>
<circle cx="444.1" cy="525.4" r="4.2" fill="#b8e8ec" fill-opacity="0.25"/>
<circle cx="443.8" cy="579.1" r="4.2" fill="#b8e8ec" fill-opacity="0.25"/>
<circle cx="479.4" cy="570.9" r="4.2" fill="#b8e8ec" fill-opacity="0.25"/>
<circle cx="472.7" cy="538.2" r="4.2" fill="#b8e8ec" fill-opacity="0.25"/>
<circle cx="445.7" cy="466.9" r="4.2" fill="#b8e8ec" fill-opacity="0.25"/>
<circle cx="473.0" cy="272.6" r="4.2" fill="#b8e8ec" fill-opacity="0.25"/>
<circle cx="477.9" cy="688.3" r="4.2" fill="#b8e8ec" fill-opacity="0.25"/>
<circle cx="448.2" cy="583.3" r="4.2" fill="#b8e8ec" fill-opacity="0.25"/>
<circle cx="465.8" cy="348.0" r="4.2" fill="#b8e8ec" fill-opacity="0.25"/>
<circle cx="446.7" cy="455.9" r="4.2" fill="#b8e8ec" fill-opacity="0.25"/>
<circle cx="443.1" cy="455.1" r="4.2" fill="#b8e8ec" fill-opacity="0.25"/>
<circle cx="457.3" cy="626.4" r="4.2" fill="#b8e8ec" fill-opacity="0.25"/>
<circle cx="467.2" cy="723.0" r="4.2" fill="#b8e8ec" fill-opacity="0.25"/>
<circle cx="454.0" cy="637.6" r="4.2" fill="#b8e8ec" fill-opacity="0.25"/>
<circle cx="459.7" cy="485.5" r="4.2" fill="#b8e8ec" fill-opacity="0.25"/>
<circle cx="468.5" cy="386.8" r="4.2" fill="#b8e8ec" fill-opacity="0.25"/>
<circle cx="465.8" cy="396.3" r="4.2" fill="#b8e8ec" fill-opacity="0.25"/>
<circle cx="479.7" cy="371.2" r="4.2" fill="#b8e8ec" fill-opacity="0.25"/>
<circle cx="474.0" cy="658.7" r="4.2" fill="#b8e8ec" fill-opacity="0.25"/>
<circle cx="474.9" cy="596.5" r="4.2" fill="#b8e8ec" fill-opacity="0.25"/>
<circle cx="477.7" cy="494.5" r="4.2" fill="#b8e8ec" fill-opacity="0.25"/>
<circle cx="457.3" cy="679.8" r="4.2" fill="#b8e8ec" fill-opacity="0.25"/>
<circle cx="483.2" cy="475.4" r="4.2" fill="#b8e8ec" fill-opacity="0.25"/>
<circle cx="442.5" cy="480.6" r="4.2" fill="#b8e8ec" fill-opacity="0.25"/>
<circle cx="445.0" cy="520.3" r="4.2" fill="#b8e8ec" fill-opacity="0.25"/>
<circle cx="476.6" cy="538.7" r="4.2" fill="#b8e8ec" fill-opacity="0.25"/>
<circle cx="482.1" cy="683.9" r="4.2" fill="#b8e8ec" fill-opacity="0.25"/>
<circle cx="452.0" cy="496.3" r="4.2" fill="#b8e8ec" fill-opacity="0.25"/>
<circle cx="460.6" cy="646.9" r="4.2" fill="#b8e8ec" fill-opacity="0.25"/>
<circle cx="466.7" cy="417.2" r="4.2" fill="#b8e8ec" fill-opacity="0.25"/>
<circle cx="441.4" cy="683.7" r="4.2" fill="#b8e8ec" fill-opacity="0.25"/>
<circle cx="476.5" cy="685.0" r="4.2" fill="#b8e8ec" fill-opacity="0.25"/>
<circle cx="465.4" cy="650.6" r="4.2" fill="#b8e8ec" fill-opacity="0.25"/>
<circle cx="471.4" cy="609.9" r="4.2" fill="#b8e8ec" fill-opacity="0.25"/>
<circle cx="447.0" cy="586.2" r="4.2" fill="#b8e8ec" fill-opacity="0.25"/>
<circle cx="464.7" cy="394.3" r="4.2" fill="#b8e8ec" fill-opacity="0.25"/>
<circle cx="476.9" cy="491.5" r="4.2" fill="#b8e8ec" fill-opacity="0.25"/>
<circle cx="441.1" cy="354.2" r="4.2" fill="#b8e8ec" fill-opacity="0.25"/>
<circle cx="447.3" cy="596.2" r="4.2" fill="#b8e8ec" fill-opacity="0.25"/>
<circle cx="479.8" cy="554.5" r="4.2" fill="#b8e8ec" fill-opacity="0.25"/>
<circle cx="442.1" cy="440.3" r="4.2" fill="#b8e8ec" fill-opacity="0.25"/>
<circle cx="477.3" cy="652.0" r="4.2" fill="#b8e8ec" fill-opacity="0.25"/>
<circle cx="458.2" cy="494.8" r="4.2" fill="#b8e8ec" fill-opacity="0.25"/>
<circle cx="447.6" cy="561.5" r="4.2" fill="#b8e8ec" fill-opacity="0.25"/>
<circle cx="458.2" cy="412.9" r="4.2" fill="#b8e8ec" fill-opacity="0.25"/>
<circle cx="468.0" cy="395.8" r="4.2" fill="#b8e8ec" fill-opacity="0.25"/>
<circle cx="455.3" cy="698.9" r="4.2" fill="#b8e8ec" fill-opacity="0.25"/>
<circle cx="480.7" cy="636.1" r="4.2" fill="#b8e8ec" fill-opacity="0.25"/>
<circle cx="442.5" cy="525.2" r="4.2" fill="#b8e8ec" fill-opacity="0.25"/>
<circle cx="456.7" cy="657.9" r="4.2" fill="#b8e8ec" fill-opacity="0.25"/>
<circle cx="466.5" cy="563.5" r="4.2" fill="#b8e8ec" fill-opacity="0.25"/>
<circle cx="456.4" cy="584.4" r="4.2" fill="#b8e8ec" fill-opacity="0.25"/>
<circle cx="466.6" cy="726.6" r="4.2" fill="#b8e8ec" fill-opacity="0.25"/>
<circle cx="441.4" cy="598.5" r="4.2" fill="#b8e8ec" fill-opacity="0.25"/>
<circle cx="484.9" cy="565.7" r="4.2" fill="#b8e8ec" fill-opacity="0.25"/>
<circle cx="447.1" cy="711.1" r="4.2" fill="#b8e8ec" fill-opacity="0.25"/>
<circle cx="452.8" cy="497.7" r="4.2" fill="#b8e8ec" fill-opacity="0.25"/>
<circle cx="463.0" cy="614.2" r="4.2" fill="#b8e8ec" fill-opacity="0.25"/>
<circle cx="466.1" cy="617.2" r="4.2" fill="#b8e8ec" fill-opacity="0.25"/>
<circle cx="483.6" cy="545.7" r="4.2" fill="#b8e8ec" fill-opacity="0.25"/>
<circle cx="442.0" cy="268.9" r="4.2" fill="#b8e8ec" fill-opacity="0.25"/>
<circle cx="475.2" cy="534.8" r="4.2" fill="#b8e8ec" fill-opacity="0.25"/>
<circle cx="475.3" cy="396.2" r="4.2" fill="#b8e8ec" fill-opacity="0.25"/>
<circle cx="469.1" cy="510.4" r="4.2" fill="#b8e8ec" fill-opacity="0.25"/>
<circle cx="453.2" cy="590.9" r="4.2" fill="#b8e8ec" fill-opacity="0.25"/>
<circle cx="479.8" cy="443.4" r="4.2" fill="#b8e8ec" fill-opacity="0.25"/>
<circle cx="471.2" cy="359.7" r="4.2" fill="#b8e8ec" fill-opacity="0.25"/>
<circle cx="474.8" cy="606.2" r="4.2" fill="#b8e8ec" fill-opacity="0.25"/>
<circle cx="463.4" cy="474.7" r="4.2" fill="#b8e8ec" fill-opacity="0.25"/>
<circle cx="456.3" cy="509.7" r="4.2" fill="#b8e8ec" fill-opacity="0.25"/>
<circle cx="458.8" cy="538.1" r="4.2" fill="#b8e8ec" fill-opacity="0.25"/>
<circle cx="455.7" cy="705.1" r="4.2" fill="#b8e8ec" fill-opacity="0.25"/>
<circle cx="485.0" cy="601.2" r="4.2" fill="#b8e8ec" fill-opacity="0.25"/>
<circle cx="457.0" cy="560.0" r="4.2" fill="#b8e8ec" fill-opacity="0.25"/>
<circle cx="451.1" cy="623.4" r="4.2" fill="#b8e8ec" fill-opacity="0.25"/>
<circle cx="446.6" cy="594.4" r="4.2" fill="#b8e8ec" fill-opacity="0.25"/>
<circle cx="479.7" cy="726.1" r="4.2" fill="#b8e8ec" fill-opacity="0.25"/>
<circle cx="460.5" cy="567.4" r="4.2" fill="#b8e8ec" fill-opacity="0.25"/>
<circle cx="454.1" cy="532.1" r="4.2" fill="#b8e8ec" fill-opacity="0.25"/>
<circle cx="443.5" cy="658.2" r="4.2" fill="#b8e8ec" fill-opacity="0.25"/>
<circle cx="454.4" cy="606.9" r="4.2" fill="#b8e8ec" fill-opacity="0.25"/>
<circle cx="465.3" cy="479.0" r="4.2" fill="#b8e8ec" fill-opacity="0.25"/>
<circle cx="455.8" cy="360.3" r="4.2" fill="#b8e8ec" fill-opacity="0.25"/>
<circle cx="466.8" cy="369.1" r="4.2" fill="#b8e8ec" fill-opacity="0.25"/>
<circle cx="448.5" cy="697.2" r="4.2" fill="#b8e8ec" fill-opacity="0.25"/>
<circle cx="484.9" cy="528.1" r="4.2" fill="#b8e8ec" fill-opacity="0.25"/>
<circle cx="475.3" cy="592.4" r="4.2" fill="#b8e8ec" fill-opacity="0.25"/>
<circle cx="479.6" cy="573.8" r="4.2" fill="#b8e8ec" fill-opacity="0.25"/>
<circle cx="462.3" cy="702.1" r="4.2" fill="#b8e8ec" fill-opacity="0.25"/>
<circle cx="452.9" cy="381.1" r="4.2" fill="#b8e8ec" fill-opacity="0.25"/>
<circle cx="441.5" cy="618.3" r="4.2" fill="#b8e8ec" fill-opacity="0.25"/>
<circle cx="452.6" cy="660.3" r="4.2" fill="#b8e8ec" fill-opacity="0.25"/>
<circle cx="450.3" cy="486.5" r="4.2" fill="#b8e8ec" fill-opacity="0.25"/>
<circle cx="449.5" cy="581.3" r="4.2" fill="#b8e8ec" fill-opacity="0.25"/>
<circle cx="479.4" cy="520.6" r="4.2" fill="#b8e8ec" fill-opacity="0.25"/>
<circle cx="449.4" cy="505.4" r="4.2" fill="#b8e8ec" fill-opacity="0.25"/>
<circle cx="483.8" cy="476.6" r="4.2" fill="#b8e8ec" fill-opacity="0.25"/>
<circle cx="444.1" cy="521.2" r="4.2" fill="#b8e8ec" fill-opacity="0.25"/>
<circle cx="479.9" cy="434.7" r="4.2" fill="#b8e8ec" fill-opacity="0.25"/>
<circle cx="446.6" cy="596.5" r="4.2" fill="#b8e8ec" fill-opacity="0.25"/>
<circle cx="464.7" cy="649.2" r="4.2" fill="#b8e8ec" fill-opacity="0.25"/>
<circle cx="469.3" cy="394.3" r="4.2" fill="#b8e8ec" fill-opacity="0.25"/>
<circle cx="450.1" cy="368.2" r="4.2" fill="#b8e8ec" fill-opacity="0.25"/>
<circle cx="474.2" cy="600.3" r="4.2" fill="#b8e8ec" fill-opacity="0.25"/>
<circle cx="458.7" cy="505.1" r="4.2" fill="#b8e8ec" fill-opacity="0.25"/>
<circle cx="455.7" cy="495.0" r="4.2" fill="#b8e8ec" fill-opacity="0.25"/>
<circle cx="459.1" cy="706.3" r="4.2" fill="#b8e8ec" fill-opacity="0.25"/>
<circle cx="468.7" cy="711.1" r="4.2" fill="#b8e8ec" fill-opacity="0.25"/>
<circle cx="462.7" cy="598.3" r="4.2" fill="#b8e8ec" fill-opacity="0.25"/>
<circle cx="452.1" cy="522.3" r="4.2" fill="#b8e8ec" fill-opacity="0.25"/>
<circle cx="441.1" cy="564.7" r="4.2" fill="#b8e8ec" fill-opacity="0.25"/>
<circle cx="465.9" cy="366.9" r="4.2" fill="#b8e8ec" fill-opacity="0.25"/>
<circle cx="443.0" cy="280.3" r="4.2" fill="#b8e8ec" fill-opacity="0.25"/>
<circle cx="473.1" cy="516.9" r="4.2" fill="#b8e8ec" fill-opacity="0.25"/>
<circle cx="444.7" cy="599.7" r="4.2" fill="#b8e8ec" fill-opacity="0.25"/>
<circle cx="446.9" cy="664.2" r="4.2" fill="#b8e8ec" fill-opacity="0.25"/>
<circle cx="444.5" cy="460.6" r="4.2" fill="#b8e8ec" fill-opacity="0.25"/>
<circle cx="459.5" cy="431.9" r="4.2" fill="#b8e8ec" fill-opacity="0.25"/>
<circle cx="467.0" cy="542.2" r="4.2" fill="#b8e8ec" fill-opacity="0.25"/>
<circle cx="470.1" cy="536.7" r="4.2" fill="#b8e8ec" fill-opacity="0.25"/>
<circle cx="455.4" cy="521.0" r="4.2" fill="#b8e8ec" fill-opacity="0.25"/>
<circle cx="452.1" cy="474.2" r="4.2" fill="#b8e8ec" fill-opacity="0.25"/>
<circle cx="474.8" cy="484.1" r="4.2" fill="#b8e8ec" fill-opacity="0.25"/>
<circle cx="454.4" cy="455.2" r="4.2" fill="#b8e8ec" fill-opacity="0.25"/>
<circle cx="484.5" cy="457.3" r="4.2" fill="#b8e8ec" fill-opacity="0.25"/>
<circle cx="453.0" cy="567.4" r="4.2" fill="#b8e8ec" fill-opacity="0.25"/>
<circle cx="482.8" cy="547.3" r="4.2" fill="#b8e8ec" fill-opacity="0.25"/>
<circle cx="440.9" cy="675.6" r="4.2" fill="#b8e8ec" fill-opacity="0.25"/>
<circle cx="470.0" cy="561.5" r="4.2" fill="#b8e8ec" fill-opacity="0.25"/>
<circle cx="456.8" cy="456.4" r="4.2" fill="#b8e8ec" fill-opacity="0.25"/>
<circle cx="450.8" cy="275.4" r="4.2" fill="#b8e8ec" fill-opacity="0.25"/>
<circle cx="444.5" cy="467.1" r="4.2" fill="#b8e8ec" fill-opacity="0.25"/>
<circle cx="446.5" cy="718.1" r="4.2" fill="#b8e8ec" fill-opacity="0.25"/>
<circle cx="463.1" cy="705.2" r="4.2" fill="#b8e8ec" fill-opacity="0.25"/>
<circle cx="448.7" cy="536.6" r="4.2" fill="#b8e8ec" fill-opacity="0.25"/>
<circle cx="457.0" cy="359.1" r="4.2" fill="#b8e8ec" fill-opacity="0.25"/>
<circle cx="448.5" cy="667.4" r="4.2" fill="#b8e8ec" fill-opacity="0.25"/>
<circle cx="482.0" cy="475.3" r="4.2" fill="#b8e8ec" fill-opacity="0.25"/>
<circle cx="163.8" cy="713.0" r="2.35" fill="#ee6468" fill-opacity="0.85"/>
<circle cx="160.3" cy="632.2" r="2.35" fill="#ee6468" fill-opacity="0.85"/>
<circle cx="173.5" cy="666.2" r="2.35" fill="#ee6468" fill-opacity="0.85"/>
<circle cx="179.8" cy="789.5" r="2.35" fill="#ee6468" fill-opacity="0.85"/>
<circle cx="176.5" cy="798.6" r="2.35" fill="#ee6468" fill-opacity="0.85"/>
<circle cx="161.1" cy="784.2" r="2.35" fill="#ee6468" fill-opacity="0.85"/>
<circle cx="194.2" cy="692.3" r="2.35" fill="#ee6468" fill-opacity="0.85"/>
<circle cx="167.0" cy="765.3" r="2.35" fill="#ee6468" fill-opacity="0.85"/>
<circle cx="199.6" cy="639.1" r="2.35" fill="#ee6468" fill-opacity="0.85"/>
<circle cx="174.9" cy="654.0" r="2.35" fill="#ee6468" fill-opacity="0.85"/>
<circle cx="159.1" cy="471.7" r="2.35" fill="#ee6468" fill-opacity="0.85"/>
<circle cx="170.0" cy="559.4" r="2.35" fill="#ee6468" fill-opacity="0.85"/>
<circle cx="162.3" cy="759.3" r="2.35" fill="#ee6468" fill-opacity="0.85"/>
<circle cx="193.7" cy="716.2" r="2.35" fill="#ee6468" fill-opacity="0.85"/>
<circle cx="183.2" cy="748.6" r="2.35" fill="#ee6468" fill-opacity="0.85"/>
<circle cx="173.8" cy="635.7" r="2.35" fill="#ee6468" fill-opacity="0.85"/>
<circle cx="159.8" cy="662.7" r="2.35" fill="#ee6468" fill-opacity="0.85"/>
<circle cx="166.3" cy="788.8" r="2.35" fill="#ee6468" fill-opacity="0.85"/>
<circle cx="176.2" cy="623.5" r="2.35" fill="#ee6468" fill-opacity="0.85"/>
<circle cx="183.4" cy="715.0" r="2.35" fill="#ee6468" fill-opacity="0.85"/>
<circle cx="170.5" cy="686.4" r="2.35" fill="#ee6468" fill-opacity="0.85"/>
<circle cx="188.5" cy="585.1" r="2.35" fill="#ee6468" fill-opacity="0.85"/>
<circle cx="182.8" cy="729.9" r="2.35" fill="#ee6468" fill-opacity="0.85"/>
<circle cx="196.4" cy="669.3" r="2.35" fill="#ee6468" fill-opacity="0.85"/>
<circle cx="170.0" cy="609.0" r="2.35" fill="#ee6468" fill-opacity="0.85"/>
<circle cx="162.3" cy="466.6" r="2.35" fill="#ee6468" fill-opacity="0.85"/>
<circle cx="191.1" cy="693.6" r="2.35" fill="#ee6468" fill-opacity="0.85"/>
<circle cx="179.0" cy="757.0" r="2.35" fill="#ee6468" fill-opacity="0.85"/>
<circle cx="187.1" cy="797.9" r="2.35" fill="#ee6468" fill-opacity="0.85"/>
<circle cx="182.8" cy="597.1" r="2.35" fill="#ee6468" fill-opacity="0.85"/>
<circle cx="171.1" cy="552.6" r="2.35" fill="#ee6468" fill-opacity="0.85"/>
<circle cx="183.7" cy="619.1" r="2.35" fill="#ee6468" fill-opacity="0.85"/>
<circle cx="177.5" cy="653.2" r="2.35" fill="#ee6468" fill-opacity="0.85"/>
<circle cx="199.5" cy="566.9" r="2.35" fill="#ee6468" fill-opacity="0.85"/>
<circle cx="186.9" cy="682.1" r="2.35" fill="#ee6468" fill-opacity="0.85"/>
<circle cx="188.6" cy="788.3" r="2.35" fill="#ee6468" fill-opacity="0.85"/>
<circle cx="201.7" cy="633.3" r="2.35" fill="#ee6468" fill-opacity="0.85"/>
<circle cx="169.8" cy="574.1" r="2.35" fill="#ee6468" fill-opacity="0.85"/>
<circle cx="187.1" cy="700.3" r="2.35" fill="#ee6468" fill-opacity="0.85"/>
<circle cx="177.8" cy="807.0" r="2.35" fill="#ee6468" fill-opacity="0.85"/>
<circle cx="162.3" cy="752.3" r="2.35" fill="#ee6468" fill-opacity="0.85"/>
<circle cx="191.6" cy="789.1" r="2.35" fill="#ee6468" fill-opacity="0.85"/>
<circle cx="168.1" cy="763.7" r="2.35" fill="#ee6468" fill-opacity="0.85"/>
<circle cx="196.2" cy="699.2" r="2.35" fill="#ee6468" fill-opacity="0.85"/>
<circle cx="177.2" cy="779.4" r="2.35" fill="#ee6468" fill-opacity="0.85"/>
<circle cx="196.8" cy="662.2" r="2.35" fill="#ee6468" fill-opacity="0.85"/>
<circle cx="195.9" cy="575.1" r="2.35" fill="#ee6468" fill-opacity="0.85"/>
<circle cx="175.7" cy="722.3" r="2.35" fill="#ee6468" fill-opacity="0.85"/>
<circle cx="196.8" cy="705.8" r="2.35" fill="#ee6468" fill-opacity="0.85"/>
<circle cx="163.8" cy="494.5" r="2.35" fill="#ee6468" fill-opacity="0.85"/>
<circle cx="167.4" cy="749.9" r="2.35" fill="#ee6468" fill-opacity="0.85"/>
<circle cx="178.8" cy="733.1" r="2.35" fill="#ee6468" fill-opacity="0.85"/>
<circle cx="168.8" cy="650.4" r="2.35" fill="#ee6468" fill-opacity="0.85"/>
<circle cx="175.9" cy="828.4" r="2.35" fill="#ee6468" fill-opacity="0.85"/>
<circle cx="182.5" cy="703.7" r="2.35" fill="#ee6468" fill-opacity="0.85"/>
<circle cx="188.1" cy="497.9" r="2.35" fill="#ee6468" fill-opacity="0.85"/>
<circle cx="184.8" cy="672.2" r="2.35" fill="#ee6468" fill-opacity="0.85"/>
<circle cx="159.4" cy="624.7" r="2.35" fill="#ee6468" fill-opacity="0.85"/>
<circle cx="192.1" cy="536.7" r="2.35" fill="#ee6468" fill-opacity="0.85"/>
<circle cx="192.9" cy="553.0" r="2.35" fill="#ee6468" fill-opacity="0.85"/>
<circle cx="175.0" cy="698.9" r="2.35" fill="#ee6468" fill-opacity="0.85"/>
<circle cx="185.5" cy="771.3" r="2.35" fill="#ee6468" fill-opacity="0.85"/>
<circle cx="160.0" cy="787.6" r="2.35" fill="#ee6468" fill-opacity="0.85"/>
<circle cx="164.3" cy="740.3" r="2.35" fill="#ee6468" fill-opacity="0.85"/>
<circle cx="159.4" cy="709.7" r="2.35" fill="#ee6468" fill-opacity="0.85"/>
<circle cx="163.8" cy="832.9" r="2.35" fill="#ee6468" fill-opacity="0.85"/>
<circle cx="173.4" cy="771.9" r="2.35" fill="#ee6468" fill-opacity="0.85"/>
<circle cx="196.3" cy="804.0" r="2.35" fill="#ee6468" fill-opacity="0.85"/>
<circle cx="163.7" cy="643.1" r="2.35" fill="#ee6468" fill-opacity="0.85"/>
<circle cx="172.6" cy="727.7" r="2.35" fill="#ee6468" fill-opacity="0.85"/>
<circle cx="162.5" cy="704.7" r="2.35" fill="#ee6468" fill-opacity="0.85"/>
<circle cx="201.7" cy="563.3" r="2.35" fill="#ee6468" fill-opacity="0.85"/>
<circle cx="178.8" cy="683.8" r="2.35" fill="#ee6468" fill-opacity="0.85"/>
<circle cx="161.6" cy="777.1" r="2.35" fill="#ee6468" fill-opacity="0.85"/>
<circle cx="168.9" cy="709.1" r="2.35" fill="#ee6468" fill-opacity="0.85"/>
<circle cx="164.3" cy="571.3" r="2.35" fill="#ee6468" fill-opacity="0.85"/>
<circle cx="199.8" cy="806.4" r="2.35" fill="#ee6468" fill-opacity="0.85"/>
<circle cx="163.6" cy="668.4" r="2.35" fill="#ee6468" fill-opacity="0.85"/>
<circle cx="158.2" cy="664.0" r="2.35" fill="#ee6468" fill-opacity="0.85"/>
<circle cx="201.0" cy="668.5" r="2.35" fill="#ee6468" fill-opacity="0.85"/>
<circle cx="188.3" cy="557.5" r="2.35" fill="#ee6468" fill-opacity="0.85"/>
<circle cx="173.5" cy="725.9" r="2.35" fill="#ee6468" fill-opacity="0.85"/>
<circle cx="191.7" cy="752.6" r="2.35" fill="#ee6468" fill-opacity="0.85"/>
<circle cx="192.1" cy="667.1" r="2.35" fill="#ee6468" fill-opacity="0.85"/>
<circle cx="167.0" cy="711.8" r="2.35" fill="#ee6468" fill-opacity="0.85"/>
<circle cx="201.3" cy="578.3" r="2.35" fill="#ee6468" fill-opacity="0.85"/>
<circle cx="193.3" cy="561.8" r="2.35" fill="#ee6468" fill-opacity="0.85"/>
<circle cx="190.3" cy="575.5" r="2.35" fill="#ee6468" fill-opacity="0.85"/>
<circle cx="180.3" cy="735.0" r="2.35" fill="#ee6468" fill-opacity="0.85"/>
<circle cx="158.3" cy="706.5" r="2.35" fill="#ee6468" fill-opacity="0.85"/>
<circle cx="169.6" cy="802.9" r="2.35" fill="#ee6468" fill-opacity="0.85"/>
<circle cx="188.2" cy="726.3" r="2.35" fill="#ee6468" fill-opacity="0.85"/>
<circle cx="177.1" cy="495.4" r="2.35" fill="#ee6468" fill-opacity="0.85"/>
<circle cx="201.5" cy="509.5" r="2.35" fill="#ee6468" fill-opacity="0.85"/>
<circle cx="173.4" cy="496.5" r="2.35" fill="#ee6468" fill-opacity="0.85"/>
<circle cx="167.2" cy="736.9" r="2.35" fill="#ee6468" fill-opacity="0.85"/>
<circle cx="166.2" cy="743.9" r="2.35" fill="#ee6468" fill-opacity="0.85"/>
<circle cx="197.5" cy="640.1" r="2.35" fill="#ee6468" fill-opacity="0.85"/>
<circle cx="178.6" cy="566.7" r="2.35" fill="#ee6468" fill-opacity="0.85"/>
<circle cx="193.0" cy="631.6" r="2.35" fill="#ee6468" fill-opacity="0.85"/>
<circle cx="186.7" cy="777.6" r="2.35" fill="#ee6468" fill-opacity="0.85"/>
<circle cx="192.2" cy="529.2" r="2.35" fill="#ee6468" fill-opacity="0.85"/>
<circle cx="178.5" cy="602.9" r="2.35" fill="#ee6468" fill-opacity="0.85"/>
<circle cx="192.5" cy="749.2" r="2.35" fill="#ee6468" fill-opacity="0.85"/>
<circle cx="193.0" cy="711.2" r="2.35" fill="#ee6468" fill-opacity="0.85"/>
<circle cx="174.8" cy="477.7" r="2.35" fill="#ee6468" fill-opacity="0.85"/>
<circle cx="199.6" cy="697.1" r="2.35" fill="#ee6468" fill-opacity="0.85"/>
<circle cx="164.7" cy="610.4" r="2.35" fill="#ee6468" fill-opacity="0.85"/>
<circle cx="163.8" cy="764.3" r="2.35" fill="#ee6468" fill-opacity="0.85"/>
<circle cx="193.3" cy="532.8" r="2.35" fill="#ee6468" fill-opacity="0.85"/>
<circle cx="194.2" cy="758.7" r="2.35" fill="#ee6468" fill-opacity="0.85"/>
<circle cx="186.6" cy="466.4" r="2.35" fill="#ee6468" fill-opacity="0.85"/>
<circle cx="181.7" cy="707.5" r="2.35" fill="#ee6468" fill-opacity="0.85"/>
<circle cx="157.6" cy="763.2" r="2.35" fill="#ee6468" fill-opacity="0.85"/>
<circle cx="186.2" cy="478.7" r="2.35" fill="#ee6468" fill-opacity="0.85"/>
<circle cx="199.0" cy="668.9" r="2.35" fill="#ee6468" fill-opacity="0.85"/>
<circle cx="196.2" cy="690.4" r="2.35" fill="#ee6468" fill-opacity="0.85"/>
<circle cx="166.5" cy="572.4" r="2.35" fill="#ee6468" fill-opacity="0.85"/>
<circle cx="170.2" cy="727.8" r="2.35" fill="#ee6468" fill-opacity="0.85"/>
<circle cx="183.4" cy="731.0" r="2.35" fill="#ee6468" fill-opacity="0.85"/>
<circle cx="175.9" cy="726.3" r="2.35" fill="#ee6468" fill-opacity="0.85"/>
<circle cx="198.0" cy="763.2" r="2.35" fill="#ee6468" fill-opacity="0.85"/>
<circle cx="177.6" cy="706.8" r="2.35" fill="#ee6468" fill-opacity="0.85"/>
<circle cx="197.7" cy="652.2" r="2.35" fill="#ee6468" fill-opacity="0.85"/>
<circle cx="198.3" cy="693.1" r="2.35" fill="#ee6468" fill-opacity="0.85"/>
<circle cx="180.9" cy="676.3" r="2.35" fill="#ee6468" fill-opacity="0.85"/>
<circle cx="157.8" cy="669.8" r="2.35" fill="#ee6468" fill-opacity="0.85"/>
<circle cx="165.2" cy="689.1" r="2.35" fill="#ee6468" fill-opacity="0.85"/>
<circle cx="193.0" cy="828.6" r="2.35" fill="#ee6468" fill-opacity="0.85"/>
<circle cx="178.3" cy="751.0" r="2.35" fill="#ee6468" fill-opacity="0.85"/>
<circle cx="182.0" cy="610.3" r="2.35" fill="#ee6468" fill-opacity="0.85"/>
<circle cx="180.3" cy="712.6" r="2.35" fill="#ee6468" fill-opacity="0.85"/>
<circle cx="192.3" cy="660.4" r="2.35" fill="#ee6468" fill-opacity="0.85"/>
<circle cx="182.2" cy="770.5" r="2.35" fill="#ee6468" fill-opacity="0.85"/>
<circle cx="169.5" cy="728.6" r="2.35" fill="#ee6468" fill-opacity="0.85"/>
<circle cx="179.8" cy="594.0" r="2.35" fill="#ee6468" fill-opacity="0.85"/>
<circle cx="191.2" cy="658.5" r="2.35" fill="#ee6468" fill-opacity="0.85"/>
<circle cx="176.9" cy="527.3" r="2.35" fill="#ee6468" fill-opacity="0.85"/>
<circle cx="179.7" cy="643.5" r="2.35" fill="#ee6468" fill-opacity="0.85"/>
<circle cx="188.2" cy="673.2" r="2.35" fill="#ee6468" fill-opacity="0.85"/>
<circle cx="181.0" cy="686.6" r="2.35" fill="#ee6468" fill-opacity="0.85"/>
<circle cx="199.4" cy="681.3" r="2.35" fill="#ee6468" fill-opacity="0.85"/>
<circle cx="196.4" cy="617.9" r="2.35" fill="#ee6468" fill-opacity="0.85"/>
<circle cx="168.7" cy="505.8" r="2.35" fill="#ee6468" fill-opacity="0.85"/>
<circle cx="199.4" cy="659.2" r="2.35" fill="#ee6468" fill-opacity="0.85"/>
<circle cx="163.2" cy="566.8" r="2.35" fill="#ee6468" fill-opacity="0.85"/>
<circle cx="176.9" cy="765.9" r="2.35" fill="#ee6468" fill-opacity="0.85"/>
<circle cx="167.8" cy="783.0" r="2.35" fill="#ee6468" fill-opacity="0.85"/>
<circle cx="187.1" cy="782.8" r="2.35" fill="#ee6468" fill-opacity="0.85"/>
<circle cx="197.4" cy="589.3" r="2.35" fill="#ee6468" fill-opacity="0.85"/>
<circle cx="189.2" cy="756.3" r="2.35" fill="#ee6468" fill-opacity="0.85"/>
<circle cx="163.4" cy="629.4" r="2.35" fill="#ee6468" fill-opacity="0.85"/>
<circle cx="200.5" cy="548.7" r="2.35" fill="#ee6468" fill-opacity="0.85"/>
<circle cx="199.9" cy="737.1" r="2.35" fill="#ee6468" fill-opacity="0.85"/>
<circle cx="178.9" cy="697.7" r="2.35" fill="#ee6468" fill-opacity="0.85"/>
<circle cx="194.5" cy="454.0" r="2.35" fill="#ee6468" fill-opacity="0.85"/>
<circle cx="176.4" cy="754.2" r="2.35" fill="#ee6468" fill-opacity="0.85"/>
<circle cx="172.3" cy="672.2" r="2.35" fill="#ee6468" fill-opacity="0.85"/>
<circle cx="171.3" cy="744.1" r="2.35" fill="#ee6468" fill-opacity="0.85"/>
<circle cx="157.9" cy="611.2" r="2.35" fill="#ee6468" fill-opacity="0.85"/>
<circle cx="176.8" cy="660.8" r="2.35" fill="#ee6468" fill-opacity="0.85"/>
<circle cx="171.9" cy="812.2" r="2.35" fill="#ee6468" fill-opacity="0.85"/>
<circle cx="180.1" cy="640.2" r="2.35" fill="#ee6468" fill-opacity="0.85"/>
<circle cx="201.3" cy="786.7" r="2.35" fill="#ee6468" fill-opacity="0.85"/>
<circle cx="200.7" cy="587.5" r="2.35" fill="#ee6468" fill-opacity="0.85"/>
<circle cx="169.0" cy="770.9" r="2.35" fill="#ee6468" fill-opacity="0.85"/>
<circle cx="192.1" cy="797.7" r="2.35" fill="#ee6468" fill-opacity="0.85"/>
<circle cx="162.8" cy="724.0" r="2.35" fill="#ee6468" fill-opacity="0.85"/>
<circle cx="198.0" cy="692.8" r="2.35" fill="#ee6468" fill-opacity="0.85"/>
<circle cx="168.6" cy="575.3" r="2.35" fill="#ee6468" fill-opacity="0.85"/>
<circle cx="198.4" cy="757.8" r="2.35" fill="#ee6468" fill-opacity="0.85"/>
<circle cx="188.5" cy="655.9" r="2.35" fill="#ee6468" fill-opacity="0.85"/>
<circle cx="159.6" cy="775.5" r="2.35" fill="#ee6468" fill-opacity="0.85"/>
<circle cx="176.1" cy="621.2" r="2.35" fill="#ee6468" fill-opacity="0.85"/>
<circle cx="199.2" cy="783.1" r="2.35" fill="#ee6468" fill-opacity="0.85"/>
<circle cx="193.1" cy="637.1" r="2.35" fill="#ee6468" fill-opacity="0.85"/>
<circle cx="195.5" cy="778.0" r="2.35" fill="#ee6468" fill-opacity="0.85"/>
<circle cx="195.8" cy="785.7" r="2.35" fill="#ee6468" fill-opacity="0.85"/>
<circle cx="172.3" cy="686.3" r="2.35" fill="#ee6468" fill-opacity="0.85"/>
<circle cx="198.7" cy="661.1" r="2.35" fill="#ee6468" fill-opacity="0.85"/>
<circle cx="162.8" cy="724.5" r="2.35" fill="#ee6468" fill-opacity="0.85"/>
<circle cx="167.7" cy="668.8" r="2.35" fill="#ee6468" fill-opacity="0.85"/>
<circle cx="164.3" cy="769.5" r="2.35" fill="#ee6468" fill-opacity="0.85"/>
<circle cx="166.1" cy="792.9" r="2.35" fill="#ee6468" fill-opacity="0.85"/>
<circle cx="170.7" cy="715.4" r="2.35" fill="#ee6468" fill-opacity="0.85"/>
<circle cx="170.0" cy="599.1" r="2.35" fill="#ee6468" fill-opacity="0.85"/>
<circle cx="165.0" cy="676.7" r="2.35" fill="#ee6468" fill-opacity="0.85"/>
<circle cx="157.8" cy="708.2" r="2.35" fill="#ee6468" fill-opacity="0.85"/>
<circle cx="157.7" cy="728.1" r="2.35" fill="#ee6468" fill-opacity="0.85"/>
<circle cx="181.8" cy="607.9" r="2.35" fill="#ee6468" fill-opacity="0.85"/>
<circle cx="178.4" cy="746.0" r="2.35" fill="#ee6468" fill-opacity="0.85"/>
<circle cx="161.8" cy="511.2" r="2.35" fill="#ee6468" fill-opacity="0.85"/>
<circle cx="176.4" cy="575.3" r="2.35" fill="#ee6468" fill-opacity="0.85"/>
<circle cx="194.6" cy="677.8" r="2.35" fill="#ee6468" fill-opacity="0.85"/>
<circle cx="179.8" cy="698.8" r="2.35" fill="#ee6468" fill-opacity="0.85"/>
<circle cx="201.2" cy="621.3" r="2.35" fill="#ee6468" fill-opacity="0.85"/>
<circle cx="194.5" cy="709.1" r="2.35" fill="#ee6468" fill-opacity="0.85"/>
<circle cx="185.6" cy="615.7" r="2.35" fill="#ee6468" fill-opacity="0.85"/>
<circle cx="172.6" cy="696.4" r="2.35" fill="#ee6468" fill-opacity="0.85"/>
<circle cx="162.8" cy="791.1" r="2.35" fill="#ee6468" fill-opacity="0.85"/>
<circle cx="190.3" cy="783.8" r="2.35" fill="#ee6468" fill-opacity="0.85"/>
<circle cx="164.3" cy="727.0" r="2.35" fill="#ee6468" fill-opacity="0.85"/>
<circle cx="194.9" cy="777.7" r="2.35" fill="#ee6468" fill-opacity="0.85"/>
<circle cx="187.2" cy="554.6" r="2.35" fill="#ee6468" fill-opacity="0.85"/>
<circle cx="167.9" cy="721.6" r="2.35" fill="#ee6468" fill-opacity="0.85"/>
<circle cx="177.7" cy="719.3" r="2.35" fill="#ee6468" fill-opacity="0.85"/>
<circle cx="177.1" cy="755.4" r="2.35" fill="#ee6468" fill-opacity="0.85"/>
<circle cx="200.3" cy="725.5" r="2.35" fill="#ee6468" fill-opacity="0.85"/>
<circle cx="181.6" cy="476.4" r="2.35" fill="#ee6468" fill-opacity="0.85"/>
<circle cx="200.5" cy="729.8" r="2.35" fill="#ee6468" fill-opacity="0.85"/>
<circle cx="173.0" cy="715.9" r="2.35" fill="#ee6468" fill-opacity="0.85"/>
<circle cx="174.2" cy="831.9" r="2.35" fill="#ee6468" fill-opacity="0.85"/>
<circle cx="179.6" cy="682.0" r="2.35" fill="#ee6468" fill-opacity="0.85"/>
<circle cx="179.7" cy="742.6" r="2.35" fill="#ee6468" fill-opacity="0.85"/>
<circle cx="168.9" cy="827.4" r="2.35" fill="#ee6468" fill-opacity="0.85"/>
<circle cx="175.0" cy="775.3" r="2.35" fill="#ee6468" fill-opacity="0.85"/>
<circle cx="158.0" cy="796.8" r="2.35" fill="#ee6468" fill-opacity="0.85"/>
<circle cx="167.5" cy="717.0" r="2.35" fill="#ee6468" fill-opacity="0.85"/>
<circle cx="180.8" cy="651.5" r="2.35" fill="#ee6468" fill-opacity="0.85"/>
<circle cx="186.6" cy="602.7" r="2.35" fill="#ee6468" fill-opacity="0.85"/>
<circle cx="196.6" cy="613.0" r="2.35" fill="#ee6468" fill-opacity="0.85"/>
<circle cx="171.7" cy="699.5" r="2.35" fill="#ee6468" fill-opacity="0.85"/>
<circle cx="163.7" cy="460.7" r="2.35" fill="#ee6468" fill-opacity="0.85"/>
<circle cx="185.9" cy="610.6" r="2.35" fill="#ee6468" fill-opacity="0.85"/>
<circle cx="194.6" cy="795.8" r="2.35" fill="#ee6468" fill-opacity="0.85"/>
<circle cx="185.2" cy="542.2" r="2.35" fill="#ee6468" fill-opacity="0.85"/>
<circle cx="193.5" cy="607.7" r="2.35" fill="#ee6468" fill-opacity="0.85"/>
<circle cx="180.6" cy="760.7" r="2.35" fill="#ee6468" fill-opacity="0.85"/>
<circle cx="194.6" cy="675.5" r="2.35" fill="#ee6468" fill-opacity="0.85"/>
<circle cx="194.2" cy="581.0" r="2.35" fill="#ee6468" fill-opacity="0.85"/>
<circle cx="197.2" cy="651.9" r="2.35" fill="#ee6468" fill-opacity="0.85"/>
<circle cx="188.2" cy="622.8" r="2.35" fill="#ee6468" fill-opacity="0.85"/>
<circle cx="158.4" cy="734.1" r="2.35" fill="#ee6468" fill-opacity="0.85"/>
<circle cx="173.2" cy="762.6" r="2.35" fill="#ee6468" fill-opacity="0.85"/>
<circle cx="194.6" cy="770.9" r="2.35" fill="#ee6468" fill-opacity="0.85"/>
<circle cx="185.2" cy="659.5" r="2.35" fill="#ee6468" fill-opacity="0.85"/>
<circle cx="187.6" cy="639.5" r="2.35" fill="#ee6468" fill-opacity="0.85"/>
<circle cx="157.1" cy="679.0" r="2.35" fill="#ee6468" fill-opacity="0.85"/>
<circle cx="190.7" cy="583.8" r="2.35" fill="#ee6468" fill-opacity="0.85"/>
<circle cx="181.1" cy="675.9" r="2.35" fill="#ee6468" fill-opacity="0.85"/>
<circle cx="160.0" cy="629.7" r="2.35" fill="#ee6468" fill-opacity="0.85"/>
<circle cx="168.3" cy="606.8" r="2.35" fill="#ee6468" fill-opacity="0.85"/>
<circle cx="169.0" cy="782.2" r="2.35" fill="#ee6468" fill-opacity="0.85"/>
<circle cx="166.2" cy="609.0" r="2.35" fill="#ee6468" fill-opacity="0.85"/>
<circle cx="200.9" cy="605.9" r="2.35" fill="#ee6468" fill-opacity="0.85"/>
<circle cx="174.2" cy="678.0" r="2.35" fill="#ee6468" fill-opacity="0.85"/>
<circle cx="187.8" cy="681.1" r="2.35" fill="#ee6468" fill-opacity="0.85"/>
<circle cx="184.8" cy="596.1" r="2.35" fill="#ee6468" fill-opacity="0.85"/>
<circle cx="160.5" cy="634.6" r="2.35" fill="#ee6468" fill-opacity="0.85"/>
<circle cx="168.4" cy="758.3" r="2.35" fill="#ee6468" fill-opacity="0.85"/>
<circle cx="170.7" cy="604.9" r="2.35" fill="#ee6468" fill-opacity="0.85"/>
<circle cx="157.6" cy="656.8" r="2.35" fill="#ee6468" fill-opacity="0.85"/>
<circle cx="169.1" cy="788.3" r="2.35" fill="#ee6468" fill-opacity="0.85"/>
<circle cx="188.1" cy="626.0" r="2.35" fill="#ee6468" fill-opacity="0.85"/>
<circle cx="170.1" cy="624.9" r="2.35" fill="#ee6468" fill-opacity="0.85"/>
<circle cx="177.9" cy="671.9" r="2.35" fill="#ee6468" fill-opacity="0.85"/>
<circle cx="162.3" cy="683.7" r="2.35" fill="#ee6468" fill-opacity="0.85"/>
<circle cx="166.0" cy="540.9" r="2.35" fill="#ee6468" fill-opacity="0.85"/>
<circle cx="199.1" cy="469.3" r="2.35" fill="#ee6468" fill-opacity="0.85"/>
<circle cx="177.7" cy="812.9" r="2.35" fill="#ee6468" fill-opacity="0.85"/>
<circle cx="200.6" cy="574.9" r="2.35" fill="#ee6468" fill-opacity="0.85"/>
<circle cx="169.1" cy="687.2" r="2.35" fill="#ee6468" fill-opacity="0.85"/>
<circle cx="199.6" cy="740.0" r="2.35" fill="#ee6468" fill-opacity="0.85"/>
<circle cx="183.2" cy="739.7" r="2.35" fill="#ee6468" fill-opacity="0.85"/>
<circle cx="180.6" cy="760.0" r="2.35" fill="#ee6468" fill-opacity="0.85"/>
<circle cx="163.0" cy="498.1" r="2.35" fill="#ee6468" fill-opacity="0.85"/>
<circle cx="179.9" cy="574.8" r="2.35" fill="#ee6468" fill-opacity="0.85"/>
<circle cx="188.7" cy="545.8" r="2.35" fill="#ee6468" fill-opacity="0.85"/>
<circle cx="197.4" cy="733.7" r="2.35" fill="#ee6468" fill-opacity="0.85"/>
<circle cx="158.1" cy="679.6" r="2.35" fill="#ee6468" fill-opacity="0.85"/>
<circle cx="179.1" cy="829.0" r="2.35" fill="#ee6468" fill-opacity="0.85"/>
<circle cx="170.6" cy="686.9" r="2.35" fill="#ee6468" fill-opacity="0.85"/>
<circle cx="172.5" cy="760.3" r="2.35" fill="#ee6468" fill-opacity="0.85"/>
<circle cx="194.8" cy="714.6" r="2.35" fill="#ee6468" fill-opacity="0.85"/>
<circle cx="190.8" cy="831.1" r="2.35" fill="#ee6468" fill-opacity="0.85"/>
<circle cx="162.4" cy="567.2" r="2.35" fill="#ee6468" fill-opacity="0.85"/>
<circle cx="189.1" cy="517.2" r="2.35" fill="#ee6468" fill-opacity="0.85"/>
<circle cx="170.0" cy="535.2" r="2.35" fill="#ee6468" fill-opacity="0.85"/>
<circle cx="174.7" cy="703.0" r="2.35" fill="#ee6468" fill-opacity="0.85"/>
<circle cx="183.5" cy="442.3" r="2.35" fill="#ee6468" fill-opacity="0.85"/>
<circle cx="176.3" cy="705.4" r="2.35" fill="#ee6468" fill-opacity="0.85"/>
<circle cx="159.2" cy="723.0" r="2.35" fill="#ee6468" fill-opacity="0.85"/>
<circle cx="194.6" cy="771.8" r="2.35" fill="#ee6468" fill-opacity="0.85"/>
<circle cx="199.1" cy="720.9" r="2.35" fill="#ee6468" fill-opacity="0.85"/>
<circle cx="169.0" cy="728.4" r="2.35" fill="#ee6468" fill-opacity="0.85"/>
<circle cx="165.5" cy="673.5" r="2.35" fill="#ee6468" fill-opacity="0.85"/>
<circle cx="200.0" cy="702.8" r="2.35" fill="#ee6468" fill-opacity="0.85"/>
<circle cx="193.5" cy="547.7" r="2.35" fill="#ee6468" fill-opacity="0.85"/>
<circle cx="198.1" cy="638.1" r="2.35" fill="#ee6468" fill-opacity="0.85"/>
<circle cx="181.7" cy="506.9" r="2.35" fill="#ee6468" fill-opacity="0.85"/>
<circle cx="159.2" cy="611.9" r="2.35" fill="#ee6468" fill-opacity="0.85"/>
<circle cx="177.3" cy="608.1" r="2.35" fill="#ee6468" fill-opacity="0.85"/>
<circle cx="186.0" cy="601.9" r="2.35" fill="#ee6468" fill-opacity="0.85"/>
<circle cx="159.2" cy="720.7" r="2.35" fill="#ee6468" fill-opacity="0.85"/>
<circle cx="162.7" cy="516.9" r="2.35" fill="#ee6468" fill-opacity="0.85"/>
<circle cx="172.5" cy="682.5" r="2.35" fill="#ee6468" fill-opacity="0.85"/>
<circle cx="190.3" cy="718.4" r="2.35" fill="#ee6468" fill-opacity="0.85"/>
<circle cx="168.7" cy="471.6" r="2.35" fill="#ee6468" fill-opacity="0.85"/>
<circle cx="170.5" cy="630.7" r="2.35" fill="#ee6468" fill-opacity="0.85"/>
<circle cx="174.7" cy="659.8" r="2.35" fill="#ee6468" fill-opacity="0.85"/>
<circle cx="164.3" cy="752.5" r="2.35" fill="#ee6468" fill-opacity="0.85"/>
<circle cx="197.8" cy="740.6" r="2.35" fill="#ee6468" fill-opacity="0.85"/>
<circle cx="166.9" cy="677.4" r="2.35" fill="#ee6468" fill-opacity="0.85"/>
<circle cx="201.8" cy="531.8" r="2.35" fill="#ee6468" fill-opacity="0.85"/>
<circle cx="163.3" cy="687.1" r="2.35" fill="#ee6468" fill-opacity="0.85"/>
<circle cx="161.1" cy="745.1" r="2.35" fill="#ee6468" fill-opacity="0.85"/>
<circle cx="161.1" cy="709.3" r="2.35" fill="#ee6468" fill-opacity="0.85"/>
<circle cx="168.6" cy="731.4" r="2.35" fill="#ee6468" fill-opacity="0.85"/>
<circle cx="196.9" cy="656.2" r="2.35" fill="#ee6468" fill-opacity="0.85"/>
<circle cx="175.6" cy="603.0" r="2.35" fill="#ee6468" fill-opacity="0.85"/>
<circle cx="180.6" cy="694.5" r="2.35" fill="#ee6468" fill-opacity="0.85"/>
<circle cx="172.2" cy="702.1" r="2.35" fill="#ee6468" fill-opacity="0.85"/>
<circle cx="169.5" cy="787.7" r="2.35" fill="#ee6468" fill-opacity="0.85"/>
<circle cx="162.7" cy="482.9" r="2.35" fill="#ee6468" fill-opacity="0.85"/>
<circle cx="185.3" cy="675.8" r="2.35" fill="#ee6468" fill-opacity="0.85"/>
<circle cx="166.7" cy="557.7" r="2.35" fill="#ee6468" fill-opacity="0.85"/>
<circle cx="168.2" cy="723.9" r="2.35" fill="#ee6468" fill-opacity="0.85"/>
<circle cx="177.1" cy="697.4" r="2.35" fill="#ee6468" fill-opacity="0.85"/>
<circle cx="195.2" cy="497.3" r="2.35" fill="#ee6468" fill-opacity="0.85"/>
<circle cx="158.0" cy="553.7" r="2.35" fill="#ee6468" fill-opacity="0.85"/>
<circle cx="188.9" cy="801.0" r="2.35" fill="#ee6468" fill-opacity="0.85"/>
<circle cx="178.3" cy="539.4" r="2.35" fill="#ee6468" fill-opacity="0.85"/>
<circle cx="157.0" cy="651.0" r="2.35" fill="#ee6468" fill-opacity="0.85"/>
<circle cx="198.7" cy="699.1" r="2.35" fill="#ee6468" fill-opacity="0.85"/>
<circle cx="195.5" cy="572.6" r="2.35" fill="#ee6468" fill-opacity="0.85"/>
<circle cx="168.2" cy="476.9" r="2.35" fill="#ee6468" fill-opacity="0.85"/>
<circle cx="163.9" cy="769.6" r="2.35" fill="#ee6468" fill-opacity="0.85"/>
<circle cx="187.7" cy="670.2" r="2.35" fill="#ee6468" fill-opacity="0.85"/>
<circle cx="189.5" cy="506.3" r="2.35" fill="#ee6468" fill-opacity="0.85"/>
<circle cx="191.4" cy="633.3" r="2.35" fill="#ee6468" fill-opacity="0.85"/>
<circle cx="181.8" cy="685.6" r="2.35" fill="#ee6468" fill-opacity="0.85"/>
<circle cx="192.2" cy="797.7" r="2.35" fill="#ee6468" fill-opacity="0.85"/>
<circle cx="198.4" cy="733.3" r="2.35" fill="#ee6468" fill-opacity="0.85"/>
<circle cx="170.7" cy="633.8" r="2.35" fill="#ee6468" fill-opacity="0.85"/>
<circle cx="168.3" cy="764.1" r="2.35" fill="#ee6468" fill-opacity="0.85"/>
<circle cx="188.4" cy="636.5" r="2.35" fill="#ee6468" fill-opacity="0.85"/>
<circle cx="160.2" cy="768.7" r="2.35" fill="#ee6468" fill-opacity="0.85"/>
<circle cx="183.2" cy="669.6" r="2.35" fill="#ee6468" fill-opacity="0.85"/>
<circle cx="167.1" cy="699.8" r="2.35" fill="#ee6468" fill-opacity="0.85"/>
<circle cx="157.5" cy="646.9" r="2.35" fill="#ee6468" fill-opacity="0.85"/>
<circle cx="177.7" cy="717.6" r="2.35" fill="#ee6468" fill-opacity="0.85"/>
<circle cx="186.0" cy="493.6" r="2.35" fill="#ee6468" fill-opacity="0.85"/>
<circle cx="178.4" cy="548.1" r="2.35" fill="#ee6468" fill-opacity="0.85"/>
<circle cx="168.1" cy="732.7" r="2.35" fill="#ee6468" fill-opacity="0.85"/>
<circle cx="188.7" cy="492.1" r="2.35" fill="#ee6468" fill-opacity="0.85"/>
<circle cx="158.0" cy="716.4" r="2.35" fill="#ee6468" fill-opacity="0.85"/>
<circle cx="187.4" cy="677.1" r="2.35" fill="#ee6468" fill-opacity="0.85"/>
<circle cx="168.6" cy="693.2" r="2.35" fill="#ee6468" fill-opacity="0.85"/>
<circle cx="198.6" cy="627.3" r="2.35" fill="#ee6468" fill-opacity="0.85"/>
<circle cx="158.5" cy="735.0" r="2.35" fill="#ee6468" fill-opacity="0.85"/>
<circle cx="175.9" cy="710.1" r="2.35" fill="#ee6468" fill-opacity="0.85"/>
<circle cx="165.9" cy="622.8" r="2.35" fill="#ee6468" fill-opacity="0.85"/>
<circle cx="190.3" cy="584.1" r="2.35" fill="#ee6468" fill-opacity="0.85"/>
<circle cx="166.2" cy="675.3" r="2.35" fill="#ee6468" fill-opacity="0.85"/>
<circle cx="171.0" cy="480.0" r="2.35" fill="#ee6468" fill-opacity="0.85"/>
<circle cx="167.4" cy="574.9" r="2.35" fill="#ee6468" fill-opacity="0.85"/>
<circle cx="191.2" cy="736.6" r="2.35" fill="#ee6468" fill-opacity="0.85"/>
<circle cx="199.8" cy="718.9" r="2.35" fill="#ee6468" fill-opacity="0.85"/>
<circle cx="165.4" cy="677.6" r="2.35" fill="#ee6468" fill-opacity="0.85"/>
<circle cx="175.8" cy="736.0" r="2.35" fill="#ee6468" fill-opacity="0.85"/>
<circle cx="199.7" cy="627.9" r="2.35" fill="#ee6468" fill-opacity="0.85"/>
<circle cx="174.7" cy="758.7" r="2.35" fill="#ee6468" fill-opacity="0.85"/>
<circle cx="200.8" cy="739.1" r="2.35" fill="#ee6468" fill-opacity="0.85"/>
<circle cx="159.3" cy="760.0" r="2.35" fill="#ee6468" fill-opacity="0.85"/>
<circle cx="174.7" cy="788.5" r="2.35" fill="#ee6468" fill-opacity="0.85"/>
<circle cx="196.8" cy="537.6" r="2.35" fill="#ee6468" fill-opacity="0.85"/>
<circle cx="201.9" cy="608.0" r="2.35" fill="#ee6468" fill-opacity="0.85"/>
<circle cx="171.8" cy="513.4" r="2.35" fill="#ee6468" fill-opacity="0.85"/>
<circle cx="199.1" cy="747.1" r="2.35" fill="#ee6468" fill-opacity="0.85"/>
<circle cx="158.4" cy="604.0" r="2.35" fill="#ee6468" fill-opacity="0.85"/>
<circle cx="174.0" cy="628.2" r="2.35" fill="#ee6468" fill-opacity="0.85"/>
<circle cx="171.9" cy="702.7" r="2.35" fill="#ee6468" fill-opacity="0.85"/>
<circle cx="157.1" cy="751.9" r="2.35" fill="#ee6468" fill-opacity="0.85"/>
<circle cx="172.8" cy="722.1" r="2.35" fill="#ee6468" fill-opacity="0.85"/>
<circle cx="162.6" cy="496.1" r="2.35" fill="#ee6468" fill-opacity="0.85"/>
<circle cx="166.3" cy="487.3" r="2.35" fill="#ee6468" fill-opacity="0.85"/>
<circle cx="194.0" cy="706.3" r="2.35" fill="#ee6468" fill-opacity="0.85"/>
<circle cx="176.5" cy="574.1" r="2.35" fill="#ee6468" fill-opacity="0.85"/>
<circle cx="178.3" cy="793.4" r="2.35" fill="#ee6468" fill-opacity="0.85"/>
<circle cx="198.4" cy="702.9" r="2.35" fill="#ee6468" fill-opacity="0.85"/>
<circle cx="173.4" cy="744.9" r="2.35" fill="#ee6468" fill-opacity="0.85"/>
<circle cx="158.4" cy="538.5" r="2.35" fill="#ee6468" fill-opacity="0.85"/>
<circle cx="193.5" cy="695.1" r="2.35" fill="#ee6468" fill-opacity="0.85"/>
<circle cx="158.8" cy="596.2" r="2.35" fill="#ee6468" fill-opacity="0.85"/>
<circle cx="159.8" cy="799.8" r="2.35" fill="#ee6468" fill-opacity="0.85"/>
<circle cx="168.6" cy="521.8" r="2.35" fill="#ee6468" fill-opacity="0.85"/>
<circle cx="197.4" cy="603.7" r="2.35" fill="#ee6468" fill-opacity="0.85"/>
<circle cx="169.3" cy="709.9" r="2.35" fill="#ee6468" fill-opacity="0.85"/>
<circle cx="184.8" cy="494.6" r="2.35" fill="#ee6468" fill-opacity="0.85"/>
<circle cx="189.2" cy="725.7" r="2.35" fill="#ee6468" fill-opacity="0.85"/>
<circle cx="169.4" cy="714.5" r="2.35" fill="#ee6468" fill-opacity="0.85"/>
<circle cx="191.0" cy="828.8" r="2.35" fill="#ee6468" fill-opacity="0.85"/>
<circle cx="185.5" cy="524.4" r="2.35" fill="#ee6468" fill-opacity="0.85"/>
<circle cx="158.1" cy="505.0" r="2.35" fill="#ee6468" fill-opacity="0.85"/>
<circle cx="178.4" cy="732.9" r="2.35" fill="#ee6468" fill-opacity="0.85"/>
<circle cx="199.9" cy="495.2" r="2.35" fill="#ee6468" fill-opacity="0.85"/>
<circle cx="168.3" cy="700.1" r="2.35" fill="#ee6468" fill-opacity="0.85"/>
<circle cx="179.2" cy="691.2" r="2.35" fill="#ee6468" fill-opacity="0.85"/>
<circle cx="165.2" cy="516.0" r="2.35" fill="#ee6468" fill-opacity="0.85"/>
<circle cx="190.2" cy="581.8" r="2.35" fill="#ee6468" fill-opacity="0.85"/>
<circle cx="191.8" cy="573.8" r="2.35" fill="#ee6468" fill-opacity="0.85"/>
<circle cx="171.8" cy="645.1" r="2.35" fill="#ee6468" fill-opacity="0.85"/>
<circle cx="173.3" cy="713.9" r="2.35" fill="#ee6468" fill-opacity="0.85"/>
<circle cx="160.6" cy="590.0" r="2.35" fill="#ee6468" fill-opacity="0.85"/>
<circle cx="190.9" cy="743.7" r="2.35" fill="#ee6468" fill-opacity="0.85"/>
<circle cx="159.9" cy="729.0" r="2.35" fill="#ee6468" fill-opacity="0.85"/>
<circle cx="181.9" cy="800.3" r="2.35" fill="#ee6468" fill-opacity="0.85"/>
<circle cx="201.1" cy="712.6" r="2.35" fill="#ee6468" fill-opacity="0.85"/>
<circle cx="201.5" cy="548.3" r="2.35" fill="#ee6468" fill-opacity="0.85"/>
<circle cx="160.8" cy="725.1" r="2.35" fill="#ee6468" fill-opacity="0.85"/>
<circle cx="179.4" cy="773.4" r="2.35" fill="#ee6468" fill-opacity="0.85"/>
<circle cx="177.1" cy="614.8" r="2.35" fill="#ee6468" fill-opacity="0.85"/>
<circle cx="175.8" cy="732.8" r="2.35" fill="#ee6468" fill-opacity="0.85"/>
<circle cx="187.3" cy="641.2" r="2.35" fill="#ee6468" fill-opacity="0.85"/>
<circle cx="195.1" cy="603.5" r="2.35" fill="#ee6468" fill-opacity="0.85"/>
<circle cx="162.5" cy="628.2" r="2.35" fill="#ee6468" fill-opacity="0.85"/>
<circle cx="170.2" cy="566.5" r="2.35" fill="#ee6468" fill-opacity="0.85"/>
<circle cx="173.8" cy="657.0" r="2.35" fill="#ee6468" fill-opacity="0.85"/>
<circle cx="166.0" cy="606.5" r="2.35" fill="#ee6468" fill-opacity="0.85"/>
<circle cx="168.0" cy="728.9" r="2.35" fill="#ee6468" fill-opacity="0.85"/>
<circle cx="196.8" cy="756.6" r="2.35" fill="#ee6468" fill-opacity="0.85"/>
<circle cx="171.7" cy="653.7" r="2.35" fill="#ee6468" fill-opacity="0.85"/>
<circle cx="201.7" cy="698.1" r="2.35" fill="#ee6468" fill-opacity="0.85"/>
<circle cx="167.4" cy="674.6" r="2.35" fill="#ee6468" fill-opacity="0.85"/>
<circle cx="186.4" cy="579.5" r="2.35" fill="#ee6468" fill-opacity="0.85"/>
<circle cx="161.6" cy="452.5" r="2.35" fill="#ee6468" fill-opacity="0.85"/>
<circle cx="193.9" cy="682.0" r="2.35" fill="#ee6468" fill-opacity="0.85"/>
<circle cx="198.1" cy="566.6" r="2.35" fill="#ee6468" fill-opacity="0.85"/>
<circle cx="170.2" cy="797.4" r="2.35" fill="#ee6468" fill-opacity="0.85"/>
<circle cx="165.5" cy="766.6" r="2.35" fill="#ee6468" fill-opacity="0.85"/>
<circle cx="177.6" cy="65.4" r="4.5" fill="#f5b0c0" fill-opacity="0.3"/><circle cx="177.6" cy="65.4" r="2.8" fill="#c07080"/>
<circle cx="164.1" cy="190.5" r="4.5" fill="#f5b0c0" fill-opacity="0.3"/><circle cx="164.1" cy="190.5" r="2.8" fill="#c07080"/>
<circle cx="166.6" cy="203.3" r="4.5" fill="#f5b0c0" fill-opacity="0.3"/><circle cx="166.6" cy="203.3" r="2.8" fill="#c07080"/>
<circle cx="167.7" cy="213.4" r="4.5" fill="#f5b0c0" fill-opacity="0.3"/><circle cx="167.7" cy="213.4" r="2.8" fill="#c07080"/>
<circle cx="183.6" cy="219.0" r="4.5" fill="#f5b0c0" fill-opacity="0.3"/><circle cx="183.6" cy="219.0" r="2.8" fill="#c07080"/>
<circle cx="197.5" cy="217.0" r="4.5" fill="#f5b0c0" fill-opacity="0.3"/><circle cx="197.5" cy="217.0" r="2.8" fill="#c07080"/>
<circle cx="169.0" cy="297.6" r="4.5" fill="#f5b0c0" fill-opacity="0.3"/><circle cx="169.0" cy="297.6" r="2.8" fill="#c07080"/>
<circle cx="199.0" cy="339.6" r="4.5" fill="#f5b0c0" fill-opacity="0.3"/><circle cx="199.0" cy="339.6" r="2.8" fill="#c07080"/>
<circle cx="192.0" cy="352.0" r="4.5" fill="#f5b0c0" fill-opacity="0.3"/><circle cx="192.0" cy="352.0" r="2.8" fill="#c07080"/>
<circle cx="161.4" cy="359.0" r="4.5" fill="#f5b0c0" fill-opacity="0.3"/><circle cx="161.4" cy="359.0" r="2.8" fill="#c07080"/>
<circle cx="184.0" cy="362.5" r="4.5" fill="#f5b0c0" fill-opacity="0.3"/><circle cx="184.0" cy="362.5" r="2.8" fill="#c07080"/>
<circle cx="175.0" cy="370.0" r="4.5" fill="#f5b0c0" fill-opacity="0.3"/><circle cx="175.0" cy="370.0" r="2.8" fill="#c07080"/>
<circle cx="188.0" cy="384.0" r="4.5" fill="#f5b0c0" fill-opacity="0.3"/><circle cx="188.0" cy="384.0" r="2.8" fill="#c07080"/>
<circle cx="162.0" cy="400.5" r="4.5" fill="#f5b0c0" fill-opacity="0.3"/><circle cx="162.0" cy="400.5" r="2.8" fill="#c07080"/>
<circle cx="164.0" cy="413.0" r="4.5" fill="#f5b0c0" fill-opacity="0.3"/><circle cx="164.0" cy="413.0" r="2.8" fill="#c07080"/>
<circle cx="179.0" cy="412.0" r="4.5" fill="#f5b0c0" fill-opacity="0.3"/><circle cx="179.0" cy="412.0" r="2.8" fill="#c07080"/>
<circle cx="260.7" cy="487.6" r="2.35" fill="#22b0b2" fill-opacity="0.85"/>
<circle cx="251.3" cy="526.3" r="2.35" fill="#22b0b2" fill-opacity="0.85"/>
<circle cx="254.7" cy="564.7" r="2.35" fill="#22b0b2" fill-opacity="0.85"/>
<circle cx="269.5" cy="738.4" r="2.35" fill="#22b0b2" fill-opacity="0.85"/>
<circle cx="239.3" cy="516.4" r="2.35" fill="#22b0b2" fill-opacity="0.85"/>
<circle cx="262.4" cy="668.0" r="2.35" fill="#22b0b2" fill-opacity="0.85"/>
<circle cx="251.1" cy="747.8" r="2.35" fill="#22b0b2" fill-opacity="0.85"/>
<circle cx="243.7" cy="765.9" r="2.35" fill="#22b0b2" fill-opacity="0.85"/>
<circle cx="261.5" cy="739.2" r="2.35" fill="#22b0b2" fill-opacity="0.85"/>
<circle cx="243.7" cy="650.8" r="2.35" fill="#22b0b2" fill-opacity="0.85"/>
<circle cx="249.2" cy="818.4" r="2.35" fill="#22b0b2" fill-opacity="0.85"/>
<circle cx="242.8" cy="642.5" r="2.35" fill="#22b0b2" fill-opacity="0.85"/>
<circle cx="243.7" cy="729.5" r="2.35" fill="#22b0b2" fill-opacity="0.85"/>
<circle cx="259.2" cy="598.6" r="2.35" fill="#22b0b2" fill-opacity="0.85"/>
<circle cx="239.1" cy="788.9" r="2.35" fill="#22b0b2" fill-opacity="0.85"/>
<circle cx="259.3" cy="715.5" r="2.35" fill="#22b0b2" fill-opacity="0.85"/>
<circle cx="238.6" cy="654.6" r="2.35" fill="#22b0b2" fill-opacity="0.85"/>
<circle cx="265.8" cy="760.6" r="2.35" fill="#22b0b2" fill-opacity="0.85"/>
<circle cx="247.2" cy="713.0" r="2.35" fill="#22b0b2" fill-opacity="0.85"/>
<circle cx="277.4" cy="730.3" r="2.35" fill="#22b0b2" fill-opacity="0.85"/>
<circle cx="260.0" cy="729.5" r="2.35" fill="#22b0b2" fill-opacity="0.85"/>
<circle cx="253.2" cy="721.9" r="2.35" fill="#22b0b2" fill-opacity="0.85"/>
<circle cx="279.3" cy="565.6" r="2.35" fill="#22b0b2" fill-opacity="0.85"/>
<circle cx="243.4" cy="720.8" r="2.35" fill="#22b0b2" fill-opacity="0.85"/>
<circle cx="243.7" cy="627.1" r="2.35" fill="#22b0b2" fill-opacity="0.85"/>
<circle cx="275.1" cy="824.1" r="2.35" fill="#22b0b2" fill-opacity="0.85"/>
<circle cx="271.4" cy="710.7" r="2.35" fill="#22b0b2" fill-opacity="0.85"/>
<circle cx="274.2" cy="713.6" r="2.35" fill="#22b0b2" fill-opacity="0.85"/>
<circle cx="241.8" cy="704.4" r="2.35" fill="#22b0b2" fill-opacity="0.85"/>
<circle cx="259.3" cy="814.8" r="2.35" fill="#22b0b2" fill-opacity="0.85"/>
<circle cx="275.4" cy="654.2" r="2.35" fill="#22b0b2" fill-opacity="0.85"/>
<circle cx="262.5" cy="778.5" r="2.35" fill="#22b0b2" fill-opacity="0.85"/>
<circle cx="257.2" cy="719.6" r="2.35" fill="#22b0b2" fill-opacity="0.85"/>
<circle cx="247.2" cy="764.8" r="2.35" fill="#22b0b2" fill-opacity="0.85"/>
<circle cx="276.1" cy="691.2" r="2.35" fill="#22b0b2" fill-opacity="0.85"/>
<circle cx="256.6" cy="773.7" r="2.35" fill="#22b0b2" fill-opacity="0.85"/>
<circle cx="278.0" cy="594.1" r="2.35" fill="#22b0b2" fill-opacity="0.85"/>
<circle cx="240.2" cy="752.6" r="2.35" fill="#22b0b2" fill-opacity="0.85"/>
<circle cx="278.4" cy="518.1" r="2.35" fill="#22b0b2" fill-opacity="0.85"/>
<circle cx="236.9" cy="700.7" r="2.35" fill="#22b0b2" fill-opacity="0.85"/>
<circle cx="252.0" cy="528.8" r="2.35" fill="#22b0b2" fill-opacity="0.85"/>
<circle cx="262.4" cy="542.7" r="2.35" fill="#22b0b2" fill-opacity="0.85"/>
<circle cx="241.7" cy="584.6" r="2.35" fill="#22b0b2" fill-opacity="0.85"/>
<circle cx="244.5" cy="603.1" r="2.35" fill="#22b0b2" fill-opacity="0.85"/>
<circle cx="272.6" cy="713.9" r="2.35" fill="#22b0b2" fill-opacity="0.85"/>
<circle cx="242.7" cy="582.4" r="2.35" fill="#22b0b2" fill-opacity="0.85"/>
<circle cx="252.5" cy="747.6" r="2.35" fill="#22b0b2" fill-opacity="0.85"/>
<circle cx="251.8" cy="692.2" r="2.35" fill="#22b0b2" fill-opacity="0.85"/>
<circle cx="245.6" cy="770.3" r="2.35" fill="#22b0b2" fill-opacity="0.85"/>
<circle cx="274.9" cy="628.1" r="2.35" fill="#22b0b2" fill-opacity="0.85"/>
<circle cx="259.8" cy="797.7" r="2.35" fill="#22b0b2" fill-opacity="0.85"/>
<circle cx="236.2" cy="616.7" r="2.35" fill="#22b0b2" fill-opacity="0.85"/>
<circle cx="239.8" cy="578.1" r="2.35" fill="#22b0b2" fill-opacity="0.85"/>
<circle cx="259.3" cy="666.9" r="2.35" fill="#22b0b2" fill-opacity="0.85"/>
<circle cx="248.3" cy="658.4" r="2.35" fill="#22b0b2" fill-opacity="0.85"/>
<circle cx="260.7" cy="711.3" r="2.35" fill="#22b0b2" fill-opacity="0.85"/>
<circle cx="264.1" cy="710.3" r="2.35" fill="#22b0b2" fill-opacity="0.85"/>
<circle cx="254.2" cy="706.8" r="2.35" fill="#22b0b2" fill-opacity="0.85"/>
<circle cx="262.4" cy="805.9" r="2.35" fill="#22b0b2" fill-opacity="0.85"/>
<circle cx="245.1" cy="699.5" r="2.35" fill="#22b0b2" fill-opacity="0.85"/>
<circle cx="269.6" cy="613.8" r="2.35" fill="#22b0b2" fill-opacity="0.85"/>
<circle cx="242.6" cy="704.8" r="2.35" fill="#22b0b2" fill-opacity="0.85"/>
<circle cx="239.3" cy="702.3" r="2.35" fill="#22b0b2" fill-opacity="0.85"/>
<circle cx="253.9" cy="769.0" r="2.35" fill="#22b0b2" fill-opacity="0.85"/>
<circle cx="254.4" cy="777.7" r="2.35" fill="#22b0b2" fill-opacity="0.85"/>
<circle cx="236.3" cy="694.6" r="2.35" fill="#22b0b2" fill-opacity="0.85"/>
<circle cx="238.2" cy="655.5" r="2.35" fill="#22b0b2" fill-opacity="0.85"/>
<circle cx="269.5" cy="625.4" r="2.35" fill="#22b0b2" fill-opacity="0.85"/>
<circle cx="236.9" cy="694.2" r="2.35" fill="#22b0b2" fill-opacity="0.85"/>
<circle cx="251.5" cy="696.6" r="2.35" fill="#22b0b2" fill-opacity="0.85"/>
<circle cx="240.6" cy="513.1" r="2.35" fill="#22b0b2" fill-opacity="0.85"/>
<circle cx="279.3" cy="569.0" r="2.35" fill="#22b0b2" fill-opacity="0.85"/>
<circle cx="271.2" cy="625.9" r="2.35" fill="#22b0b2" fill-opacity="0.85"/>
<circle cx="278.7" cy="753.5" r="2.35" fill="#22b0b2" fill-opacity="0.85"/>
<circle cx="277.5" cy="699.1" r="2.35" fill="#22b0b2" fill-opacity="0.85"/>
<circle cx="241.9" cy="535.2" r="2.35" fill="#22b0b2" fill-opacity="0.85"/>
<circle cx="276.4" cy="601.9" r="2.35" fill="#22b0b2" fill-opacity="0.85"/>
<circle cx="250.3" cy="788.0" r="2.35" fill="#22b0b2" fill-opacity="0.85"/>
<circle cx="241.6" cy="617.3" r="2.35" fill="#22b0b2" fill-opacity="0.85"/>
<circle cx="246.9" cy="547.6" r="2.35" fill="#22b0b2" fill-opacity="0.85"/>
<circle cx="241.0" cy="588.9" r="2.35" fill="#22b0b2" fill-opacity="0.85"/>
<circle cx="275.9" cy="697.1" r="2.35" fill="#22b0b2" fill-opacity="0.85"/>
<circle cx="246.3" cy="750.0" r="2.35" fill="#22b0b2" fill-opacity="0.85"/>
<circle cx="248.9" cy="695.9" r="2.35" fill="#22b0b2" fill-opacity="0.85"/>
<circle cx="242.7" cy="799.5" r="2.35" fill="#22b0b2" fill-opacity="0.85"/>
<circle cx="276.6" cy="761.2" r="2.35" fill="#22b0b2" fill-opacity="0.85"/>
<circle cx="274.8" cy="642.1" r="2.35" fill="#22b0b2" fill-opacity="0.85"/>
<circle cx="269.8" cy="759.4" r="2.35" fill="#22b0b2" fill-opacity="0.85"/>
<circle cx="258.4" cy="772.2" r="2.35" fill="#22b0b2" fill-opacity="0.85"/>
<circle cx="250.7" cy="655.5" r="2.35" fill="#22b0b2" fill-opacity="0.85"/>
<circle cx="259.5" cy="561.4" r="2.35" fill="#22b0b2" fill-opacity="0.85"/>
<circle cx="274.2" cy="673.0" r="2.35" fill="#22b0b2" fill-opacity="0.85"/>
<circle cx="279.2" cy="774.7" r="2.35" fill="#22b0b2" fill-opacity="0.85"/>
<circle cx="252.2" cy="657.6" r="2.35" fill="#22b0b2" fill-opacity="0.85"/>
<circle cx="246.4" cy="597.5" r="2.35" fill="#22b0b2" fill-opacity="0.85"/>
<circle cx="260.5" cy="461.0" r="2.35" fill="#22b0b2" fill-opacity="0.85"/>
<circle cx="268.9" cy="721.4" r="2.35" fill="#22b0b2" fill-opacity="0.85"/>
<circle cx="242.5" cy="707.5" r="2.35" fill="#22b0b2" fill-opacity="0.85"/>
<circle cx="236.7" cy="622.3" r="2.35" fill="#22b0b2" fill-opacity="0.85"/>
<circle cx="245.9" cy="586.9" r="2.35" fill="#22b0b2" fill-opacity="0.85"/>
<circle cx="278.8" cy="654.6" r="2.35" fill="#22b0b2" fill-opacity="0.85"/>
<circle cx="264.4" cy="671.2" r="2.35" fill="#22b0b2" fill-opacity="0.85"/>
<circle cx="234.6" cy="729.5" r="2.35" fill="#22b0b2" fill-opacity="0.85"/>
<circle cx="241.2" cy="800.7" r="2.35" fill="#22b0b2" fill-opacity="0.85"/>
<circle cx="254.0" cy="661.8" r="2.35" fill="#22b0b2" fill-opacity="0.85"/>
<circle cx="274.8" cy="693.8" r="2.35" fill="#22b0b2" fill-opacity="0.85"/>
<circle cx="244.7" cy="768.1" r="2.35" fill="#22b0b2" fill-opacity="0.85"/>
<circle cx="235.5" cy="650.3" r="2.35" fill="#22b0b2" fill-opacity="0.85"/>
<circle cx="250.5" cy="827.5" r="2.35" fill="#22b0b2" fill-opacity="0.85"/>
<circle cx="250.6" cy="774.2" r="2.35" fill="#22b0b2" fill-opacity="0.85"/>
<circle cx="260.8" cy="746.2" r="2.35" fill="#22b0b2" fill-opacity="0.85"/>
<circle cx="243.7" cy="670.2" r="2.35" fill="#22b0b2" fill-opacity="0.85"/>
<circle cx="255.9" cy="659.4" r="2.35" fill="#22b0b2" fill-opacity="0.85"/>
<circle cx="276.6" cy="767.5" r="2.35" fill="#22b0b2" fill-opacity="0.85"/>
<circle cx="241.2" cy="741.6" r="2.35" fill="#22b0b2" fill-opacity="0.85"/>
<circle cx="263.2" cy="776.8" r="2.35" fill="#22b0b2" fill-opacity="0.85"/>
<circle cx="269.7" cy="562.2" r="2.35" fill="#22b0b2" fill-opacity="0.85"/>
<circle cx="246.4" cy="714.4" r="2.35" fill="#22b0b2" fill-opacity="0.85"/>
<circle cx="263.5" cy="818.3" r="2.35" fill="#22b0b2" fill-opacity="0.85"/>
<circle cx="250.3" cy="678.5" r="2.35" fill="#22b0b2" fill-opacity="0.85"/>
<circle cx="254.5" cy="652.7" r="2.35" fill="#22b0b2" fill-opacity="0.85"/>
<circle cx="267.5" cy="521.8" r="2.35" fill="#22b0b2" fill-opacity="0.85"/>
<circle cx="275.2" cy="740.4" r="2.35" fill="#22b0b2" fill-opacity="0.85"/>
<circle cx="258.4" cy="796.6" r="2.35" fill="#22b0b2" fill-opacity="0.85"/>
<circle cx="245.2" cy="713.7" r="2.35" fill="#22b0b2" fill-opacity="0.85"/>
<circle cx="269.5" cy="790.8" r="2.35" fill="#22b0b2" fill-opacity="0.85"/>
<circle cx="259.3" cy="817.4" r="2.35" fill="#22b0b2" fill-opacity="0.85"/>
<circle cx="240.9" cy="519.4" r="2.35" fill="#22b0b2" fill-opacity="0.85"/>
<circle cx="261.9" cy="752.1" r="2.35" fill="#22b0b2" fill-opacity="0.85"/>
<circle cx="263.4" cy="695.6" r="2.35" fill="#22b0b2" fill-opacity="0.85"/>
<circle cx="242.4" cy="589.9" r="2.35" fill="#22b0b2" fill-opacity="0.85"/>
<circle cx="248.0" cy="730.0" r="2.35" fill="#22b0b2" fill-opacity="0.85"/>
<circle cx="274.5" cy="794.8" r="2.35" fill="#22b0b2" fill-opacity="0.85"/>
<circle cx="266.7" cy="604.5" r="2.35" fill="#22b0b2" fill-opacity="0.85"/>
<circle cx="272.5" cy="823.6" r="2.35" fill="#22b0b2" fill-opacity="0.85"/>
<circle cx="255.4" cy="621.8" r="2.35" fill="#22b0b2" fill-opacity="0.85"/>
<circle cx="254.9" cy="622.9" r="2.35" fill="#22b0b2" fill-opacity="0.85"/>
<circle cx="239.2" cy="745.8" r="2.35" fill="#22b0b2" fill-opacity="0.85"/>
<circle cx="236.2" cy="744.3" r="2.35" fill="#22b0b2" fill-opacity="0.85"/>
<circle cx="268.2" cy="725.6" r="2.35" fill="#22b0b2" fill-opacity="0.85"/>
<circle cx="272.5" cy="637.3" r="2.35" fill="#22b0b2" fill-opacity="0.85"/>
<circle cx="246.5" cy="632.2" r="2.35" fill="#22b0b2" fill-opacity="0.85"/>
<circle cx="254.1" cy="681.1" r="2.35" fill="#22b0b2" fill-opacity="0.85"/>
<circle cx="258.0" cy="601.9" r="2.35" fill="#22b0b2" fill-opacity="0.85"/>
<circle cx="263.4" cy="737.5" r="2.35" fill="#22b0b2" fill-opacity="0.85"/>
<circle cx="244.3" cy="499.5" r="2.35" fill="#22b0b2" fill-opacity="0.85"/>
<circle cx="235.2" cy="558.0" r="2.35" fill="#22b0b2" fill-opacity="0.85"/>
<circle cx="245.1" cy="738.3" r="2.35" fill="#22b0b2" fill-opacity="0.85"/>
<circle cx="277.0" cy="622.2" r="2.35" fill="#22b0b2" fill-opacity="0.85"/>
<circle cx="249.2" cy="621.5" r="2.35" fill="#22b0b2" fill-opacity="0.85"/>
<circle cx="249.3" cy="557.9" r="2.35" fill="#22b0b2" fill-opacity="0.85"/>
<circle cx="275.3" cy="742.6" r="2.35" fill="#22b0b2" fill-opacity="0.85"/>
<circle cx="265.7" cy="657.3" r="2.35" fill="#22b0b2" fill-opacity="0.85"/>
<circle cx="278.6" cy="646.6" r="2.35" fill="#22b0b2" fill-opacity="0.85"/>
<circle cx="272.3" cy="702.9" r="2.35" fill="#22b0b2" fill-opacity="0.85"/>
<circle cx="273.1" cy="636.5" r="2.35" fill="#22b0b2" fill-opacity="0.85"/>
<circle cx="267.1" cy="708.4" r="2.35" fill="#22b0b2" fill-opacity="0.85"/>
<circle cx="248.3" cy="676.0" r="2.35" fill="#22b0b2" fill-opacity="0.85"/>
<circle cx="262.5" cy="749.1" r="2.35" fill="#22b0b2" fill-opacity="0.85"/>
<circle cx="275.5" cy="783.0" r="2.35" fill="#22b0b2" fill-opacity="0.85"/>
<circle cx="235.7" cy="765.1" r="2.35" fill="#22b0b2" fill-opacity="0.85"/>
<circle cx="276.3" cy="774.2" r="2.35" fill="#22b0b2" fill-opacity="0.85"/>
<circle cx="240.9" cy="724.0" r="2.35" fill="#22b0b2" fill-opacity="0.85"/>
<circle cx="236.4" cy="802.7" r="2.35" fill="#22b0b2" fill-opacity="0.85"/>
<circle cx="263.0" cy="638.1" r="2.35" fill="#22b0b2" fill-opacity="0.85"/>
<circle cx="267.7" cy="636.7" r="2.35" fill="#22b0b2" fill-opacity="0.85"/>
<circle cx="261.1" cy="787.9" r="2.35" fill="#22b0b2" fill-opacity="0.85"/>
<circle cx="271.3" cy="720.9" r="2.35" fill="#22b0b2" fill-opacity="0.85"/>
<circle cx="274.6" cy="587.0" r="2.35" fill="#22b0b2" fill-opacity="0.85"/>
<circle cx="273.6" cy="787.8" r="2.35" fill="#22b0b2" fill-opacity="0.85"/>
<circle cx="277.0" cy="536.2" r="2.35" fill="#22b0b2" fill-opacity="0.85"/>
<circle cx="243.8" cy="774.1" r="2.35" fill="#22b0b2" fill-opacity="0.85"/>
<circle cx="236.0" cy="772.9" r="2.35" fill="#22b0b2" fill-opacity="0.85"/>
<circle cx="271.0" cy="573.5" r="2.35" fill="#22b0b2" fill-opacity="0.85"/>
<circle cx="271.6" cy="656.2" r="2.35" fill="#22b0b2" fill-opacity="0.85"/>
<circle cx="247.4" cy="657.0" r="2.35" fill="#22b0b2" fill-opacity="0.85"/>
<circle cx="238.9" cy="775.8" r="2.35" fill="#22b0b2" fill-opacity="0.85"/>
<circle cx="243.7" cy="616.8" r="2.35" fill="#22b0b2" fill-opacity="0.85"/>
<circle cx="253.6" cy="728.4" r="2.35" fill="#22b0b2" fill-opacity="0.85"/>
<circle cx="246.1" cy="808.5" r="2.35" fill="#22b0b2" fill-opacity="0.85"/>
<circle cx="266.7" cy="734.5" r="2.35" fill="#22b0b2" fill-opacity="0.85"/>
<circle cx="248.9" cy="720.1" r="2.35" fill="#22b0b2" fill-opacity="0.85"/>
<circle cx="257.2" cy="501.3" r="2.35" fill="#22b0b2" fill-opacity="0.85"/>
<circle cx="262.3" cy="571.7" r="2.35" fill="#22b0b2" fill-opacity="0.85"/>
<circle cx="253.1" cy="801.8" r="2.35" fill="#22b0b2" fill-opacity="0.85"/>
<circle cx="269.3" cy="708.5" r="2.35" fill="#22b0b2" fill-opacity="0.85"/>
<circle cx="266.2" cy="723.7" r="2.35" fill="#22b0b2" fill-opacity="0.85"/>
<circle cx="244.2" cy="686.0" r="2.35" fill="#22b0b2" fill-opacity="0.85"/>
<circle cx="238.6" cy="566.5" r="2.35" fill="#22b0b2" fill-opacity="0.85"/>
<circle cx="242.2" cy="586.9" r="2.35" fill="#22b0b2" fill-opacity="0.85"/>
<circle cx="243.6" cy="828.9" r="2.35" fill="#22b0b2" fill-opacity="0.85"/>
<circle cx="278.5" cy="614.5" r="2.35" fill="#22b0b2" fill-opacity="0.85"/>
<circle cx="256.6" cy="825.7" r="2.35" fill="#22b0b2" fill-opacity="0.85"/>
<circle cx="270.4" cy="699.2" r="2.35" fill="#22b0b2" fill-opacity="0.85"/>
<circle cx="256.8" cy="755.6" r="2.35" fill="#22b0b2" fill-opacity="0.85"/>
<circle cx="271.9" cy="723.6" r="2.35" fill="#22b0b2" fill-opacity="0.85"/>
<circle cx="277.0" cy="738.3" r="2.35" fill="#22b0b2" fill-opacity="0.85"/>
<circle cx="244.2" cy="734.3" r="2.35" fill="#22b0b2" fill-opacity="0.85"/>
<circle cx="256.9" cy="636.0" r="2.35" fill="#22b0b2" fill-opacity="0.85"/>
<circle cx="263.1" cy="773.4" r="2.35" fill="#22b0b2" fill-opacity="0.85"/>
<circle cx="270.0" cy="781.8" r="2.35" fill="#22b0b2" fill-opacity="0.85"/>
<circle cx="269.9" cy="636.7" r="2.35" fill="#22b0b2" fill-opacity="0.85"/>
<circle cx="250.5" cy="658.1" r="2.35" fill="#22b0b2" fill-opacity="0.85"/>
<circle cx="252.3" cy="714.5" r="2.35" fill="#22b0b2" fill-opacity="0.85"/>
<circle cx="238.4" cy="551.4" r="2.35" fill="#22b0b2" fill-opacity="0.85"/>
<circle cx="235.6" cy="552.7" r="2.35" fill="#22b0b2" fill-opacity="0.85"/>
<circle cx="246.3" cy="750.5" r="2.35" fill="#22b0b2" fill-opacity="0.85"/>
<circle cx="257.1" cy="544.6" r="2.35" fill="#22b0b2" fill-opacity="0.85"/>
<circle cx="274.3" cy="718.2" r="2.35" fill="#22b0b2" fill-opacity="0.85"/>
<circle cx="255.2" cy="744.0" r="2.35" fill="#22b0b2" fill-opacity="0.85"/>
<circle cx="268.5" cy="688.0" r="2.35" fill="#22b0b2" fill-opacity="0.85"/>
<circle cx="263.6" cy="618.9" r="2.35" fill="#22b0b2" fill-opacity="0.85"/>
<circle cx="249.2" cy="723.4" r="2.35" fill="#22b0b2" fill-opacity="0.85"/>
<circle cx="272.4" cy="762.6" r="2.35" fill="#22b0b2" fill-opacity="0.85"/>
<circle cx="267.9" cy="647.5" r="2.35" fill="#22b0b2" fill-opacity="0.85"/>
<circle cx="254.2" cy="759.2" r="2.35" fill="#22b0b2" fill-opacity="0.85"/>
<circle cx="260.6" cy="609.1" r="2.35" fill="#22b0b2" fill-opacity="0.85"/>
<circle cx="255.3" cy="769.6" r="2.35" fill="#22b0b2" fill-opacity="0.85"/>
<circle cx="245.2" cy="554.8" r="2.35" fill="#22b0b2" fill-opacity="0.85"/>
<circle cx="248.1" cy="754.0" r="2.35" fill="#22b0b2" fill-opacity="0.85"/>
<circle cx="272.5" cy="634.8" r="2.35" fill="#22b0b2" fill-opacity="0.85"/>
<circle cx="241.5" cy="762.8" r="2.35" fill="#22b0b2" fill-opacity="0.85"/>
<circle cx="249.2" cy="740.6" r="2.35" fill="#22b0b2" fill-opacity="0.85"/>
<circle cx="241.7" cy="690.9" r="2.35" fill="#22b0b2" fill-opacity="0.85"/>
<circle cx="243.0" cy="726.8" r="2.35" fill="#22b0b2" fill-opacity="0.85"/>
<circle cx="267.3" cy="484.3" r="2.35" fill="#22b0b2" fill-opacity="0.85"/>
<circle cx="277.8" cy="775.3" r="2.35" fill="#22b0b2" fill-opacity="0.85"/>
<circle cx="251.8" cy="775.4" r="2.35" fill="#22b0b2" fill-opacity="0.85"/>
<circle cx="270.3" cy="471.1" r="2.35" fill="#22b0b2" fill-opacity="0.85"/>
<circle cx="254.1" cy="625.5" r="2.35" fill="#22b0b2" fill-opacity="0.85"/>
<circle cx="263.2" cy="752.9" r="2.35" fill="#22b0b2" fill-opacity="0.85"/>
<circle cx="243.8" cy="774.1" r="2.35" fill="#22b0b2" fill-opacity="0.85"/>
<circle cx="236.0" cy="716.7" r="2.35" fill="#22b0b2" fill-opacity="0.85"/>
<circle cx="270.1" cy="714.9" r="2.35" fill="#22b0b2" fill-opacity="0.85"/>
<circle cx="257.0" cy="637.8" r="2.35" fill="#22b0b2" fill-opacity="0.85"/>
<circle cx="255.3" cy="656.8" r="2.35" fill="#22b0b2" fill-opacity="0.85"/>
<circle cx="261.7" cy="765.8" r="2.35" fill="#22b0b2" fill-opacity="0.85"/>
<circle cx="267.8" cy="713.9" r="2.35" fill="#22b0b2" fill-opacity="0.85"/>
<circle cx="253.9" cy="540.3" r="2.35" fill="#22b0b2" fill-opacity="0.85"/>
<circle cx="268.2" cy="674.8" r="2.35" fill="#22b0b2" fill-opacity="0.85"/>
<circle cx="244.8" cy="711.1" r="2.35" fill="#22b0b2" fill-opacity="0.85"/>
<circle cx="274.1" cy="628.9" r="2.35" fill="#22b0b2" fill-opacity="0.85"/>
<circle cx="266.0" cy="608.8" r="2.35" fill="#22b0b2" fill-opacity="0.85"/>
<circle cx="265.1" cy="571.2" r="2.35" fill="#22b0b2" fill-opacity="0.85"/>
<circle cx="254.9" cy="653.9" r="2.35" fill="#22b0b2" fill-opacity="0.85"/>
<circle cx="262.8" cy="729.4" r="2.35" fill="#22b0b2" fill-opacity="0.85"/>
<circle cx="253.4" cy="776.3" r="2.35" fill="#22b0b2" fill-opacity="0.85"/>
<circle cx="266.6" cy="604.8" r="2.35" fill="#22b0b2" fill-opacity="0.85"/>
<circle cx="245.8" cy="657.6" r="2.35" fill="#22b0b2" fill-opacity="0.85"/>
<circle cx="255.0" cy="710.7" r="2.35" fill="#22b0b2" fill-opacity="0.85"/>
<circle cx="252.9" cy="660.1" r="2.35" fill="#22b0b2" fill-opacity="0.85"/>
<circle cx="276.4" cy="643.5" r="2.35" fill="#22b0b2" fill-opacity="0.85"/>
<circle cx="264.0" cy="756.0" r="2.35" fill="#22b0b2" fill-opacity="0.85"/>
<circle cx="252.0" cy="606.8" r="2.35" fill="#22b0b2" fill-opacity="0.85"/>
<circle cx="278.4" cy="699.5" r="2.35" fill="#22b0b2" fill-opacity="0.85"/>
<circle cx="259.0" cy="798.9" r="2.35" fill="#22b0b2" fill-opacity="0.85"/>
<circle cx="269.7" cy="761.3" r="2.35" fill="#22b0b2" fill-opacity="0.85"/>
<circle cx="257.9" cy="519.7" r="2.35" fill="#22b0b2" fill-opacity="0.85"/>
<circle cx="260.4" cy="775.5" r="2.35" fill="#22b0b2" fill-opacity="0.85"/>
<circle cx="266.8" cy="685.1" r="2.35" fill="#22b0b2" fill-opacity="0.85"/>
<circle cx="263.3" cy="694.0" r="2.35" fill="#22b0b2" fill-opacity="0.85"/>
<circle cx="258.0" cy="582.5" r="2.35" fill="#22b0b2" fill-opacity="0.85"/>
<circle cx="277.2" cy="712.9" r="2.35" fill="#22b0b2" fill-opacity="0.85"/>
<circle cx="265.3" cy="749.6" r="2.35" fill="#22b0b2" fill-opacity="0.85"/>
<circle cx="268.8" cy="716.0" r="2.35" fill="#22b0b2" fill-opacity="0.85"/>
<circle cx="278.8" cy="770.4" r="2.35" fill="#22b0b2" fill-opacity="0.85"/>
<circle cx="237.0" cy="722.2" r="2.35" fill="#22b0b2" fill-opacity="0.85"/>
<circle cx="252.5" cy="735.9" r="2.35" fill="#22b0b2" fill-opacity="0.85"/>
<circle cx="253.3" cy="816.4" r="2.35" fill="#22b0b2" fill-opacity="0.85"/>
<circle cx="265.9" cy="711.2" r="2.35" fill="#22b0b2" fill-opacity="0.85"/>
<circle cx="243.1" cy="124.5" r="4.5" fill="#b0e8e8" fill-opacity="0.3"/><circle cx="243.1" cy="124.5" r="2.8" fill="#40a8a8"/>
<circle cx="256.0" cy="330.0" r="4.5" fill="#b0e8e8" fill-opacity="0.3"/><circle cx="256.0" cy="330.0" r="2.8" fill="#40a8a8"/>
<circle cx="247.0" cy="399.0" r="4.5" fill="#b0e8e8" fill-opacity="0.3"/><circle cx="247.0" cy="399.0" r="2.8" fill="#40a8a8"/>
<circle cx="266.0" cy="394.0" r="4.5" fill="#b0e8e8" fill-opacity="0.3"/><circle cx="266.0" cy="394.0" r="2.8" fill="#40a8a8"/>
<circle cx="274.0" cy="415.0" r="4.5" fill="#b0e8e8" fill-opacity="0.3"/><circle cx="274.0" cy="415.0" r="2.8" fill="#40a8a8"/>
<circle cx="274.0" cy="422.0" r="4.5" fill="#b0e8e8" fill-opacity="0.3"/><circle cx="274.0" cy="422.0" r="2.8" fill="#40a8a8"/>
<circle cx="375.9" cy="565.8" r="2.35" fill="#ee6468" fill-opacity="0.85"/>
<circle cx="397.4" cy="602.9" r="2.35" fill="#ee6468" fill-opacity="0.85"/>
<circle cx="387.7" cy="310.9" r="2.35" fill="#ee6468" fill-opacity="0.85"/>
<circle cx="400.1" cy="604.7" r="2.35" fill="#ee6468" fill-opacity="0.85"/>
<circle cx="373.5" cy="554.8" r="2.35" fill="#ee6468" fill-opacity="0.85"/>
<circle cx="398.9" cy="635.0" r="2.35" fill="#ee6468" fill-opacity="0.85"/>
<circle cx="392.5" cy="402.2" r="2.35" fill="#ee6468" fill-opacity="0.85"/>
<circle cx="389.3" cy="533.3" r="2.35" fill="#ee6468" fill-opacity="0.85"/>
<circle cx="407.4" cy="602.4" r="2.35" fill="#ee6468" fill-opacity="0.85"/>
<circle cx="392.7" cy="565.6" r="2.35" fill="#ee6468" fill-opacity="0.85"/>
<circle cx="400.7" cy="396.7" r="2.35" fill="#ee6468" fill-opacity="0.85"/>
<circle cx="377.2" cy="533.6" r="2.35" fill="#ee6468" fill-opacity="0.85"/>
<circle cx="369.6" cy="508.0" r="2.35" fill="#ee6468" fill-opacity="0.85"/>
<circle cx="380.0" cy="387.7" r="2.35" fill="#ee6468" fill-opacity="0.85"/>
<circle cx="376.0" cy="377.6" r="2.35" fill="#ee6468" fill-opacity="0.85"/>
<circle cx="375.4" cy="559.2" r="2.35" fill="#ee6468" fill-opacity="0.85"/>
<circle cx="372.4" cy="545.3" r="2.35" fill="#ee6468" fill-opacity="0.85"/>
<circle cx="396.5" cy="736.0" r="2.35" fill="#ee6468" fill-opacity="0.85"/>
<circle cx="375.0" cy="585.6" r="2.35" fill="#ee6468" fill-opacity="0.85"/>
<circle cx="385.6" cy="579.8" r="2.35" fill="#ee6468" fill-opacity="0.85"/>
<circle cx="392.7" cy="544.6" r="2.35" fill="#ee6468" fill-opacity="0.85"/>
<circle cx="380.3" cy="469.4" r="2.35" fill="#ee6468" fill-opacity="0.85"/>
<circle cx="402.5" cy="321.3" r="2.35" fill="#ee6468" fill-opacity="0.85"/>
<circle cx="401.3" cy="668.2" r="2.35" fill="#ee6468" fill-opacity="0.85"/>
<circle cx="399.3" cy="342.7" r="2.35" fill="#ee6468" fill-opacity="0.85"/>
<circle cx="401.4" cy="631.3" r="2.35" fill="#ee6468" fill-opacity="0.85"/>
<circle cx="364.7" cy="478.5" r="2.35" fill="#ee6468" fill-opacity="0.85"/>
<circle cx="406.8" cy="711.8" r="2.35" fill="#ee6468" fill-opacity="0.85"/>
<circle cx="375.3" cy="470.5" r="2.35" fill="#ee6468" fill-opacity="0.85"/>
<circle cx="370.4" cy="644.4" r="2.35" fill="#ee6468" fill-opacity="0.85"/>
<circle cx="398.9" cy="599.8" r="2.35" fill="#ee6468" fill-opacity="0.85"/>
<circle cx="370.9" cy="567.4" r="2.35" fill="#ee6468" fill-opacity="0.85"/>
<circle cx="399.6" cy="344.3" r="2.35" fill="#ee6468" fill-opacity="0.85"/>
<circle cx="404.1" cy="622.0" r="2.35" fill="#ee6468" fill-opacity="0.85"/>
<circle cx="399.2" cy="487.1" r="2.35" fill="#ee6468" fill-opacity="0.85"/>
<circle cx="404.2" cy="466.2" r="2.35" fill="#ee6468" fill-opacity="0.85"/>
<circle cx="401.7" cy="415.1" r="2.35" fill="#ee6468" fill-opacity="0.85"/>
<circle cx="395.2" cy="612.0" r="2.35" fill="#ee6468" fill-opacity="0.85"/>
<circle cx="397.4" cy="514.0" r="2.35" fill="#ee6468" fill-opacity="0.85"/>
<circle cx="403.7" cy="541.8" r="2.35" fill="#ee6468" fill-opacity="0.85"/>
<circle cx="375.9" cy="505.6" r="2.35" fill="#ee6468" fill-opacity="0.85"/>
<circle cx="370.3" cy="599.6" r="2.35" fill="#ee6468" fill-opacity="0.85"/>
<circle cx="366.6" cy="526.7" r="2.35" fill="#ee6468" fill-opacity="0.85"/>
<circle cx="370.5" cy="533.9" r="2.35" fill="#ee6468" fill-opacity="0.85"/>
<circle cx="386.4" cy="527.1" r="2.35" fill="#ee6468" fill-opacity="0.85"/>
<circle cx="402.8" cy="511.0" r="2.35" fill="#ee6468" fill-opacity="0.85"/>
<circle cx="401.8" cy="725.2" r="2.35" fill="#ee6468" fill-opacity="0.85"/>
<circle cx="389.3" cy="533.6" r="2.35" fill="#ee6468" fill-opacity="0.85"/>
<circle cx="401.8" cy="467.3" r="2.35" fill="#ee6468" fill-opacity="0.85"/>
<circle cx="382.8" cy="559.5" r="2.35" fill="#ee6468" fill-opacity="0.85"/>
<circle cx="367.4" cy="291.7" r="2.35" fill="#ee6468" fill-opacity="0.85"/>
<circle cx="392.6" cy="477.1" r="2.35" fill="#ee6468" fill-opacity="0.85"/>
<circle cx="391.4" cy="683.7" r="2.35" fill="#ee6468" fill-opacity="0.85"/>
<circle cx="405.9" cy="461.3" r="2.35" fill="#ee6468" fill-opacity="0.85"/>
<circle cx="408.2" cy="571.9" r="2.35" fill="#ee6468" fill-opacity="0.85"/>
<circle cx="385.8" cy="521.0" r="2.35" fill="#ee6468" fill-opacity="0.85"/>
<circle cx="365.5" cy="349.5" r="2.35" fill="#ee6468" fill-opacity="0.85"/>
<circle cx="392.1" cy="448.9" r="2.35" fill="#ee6468" fill-opacity="0.85"/>
<circle cx="402.8" cy="569.6" r="2.35" fill="#ee6468" fill-opacity="0.85"/>
<circle cx="385.4" cy="561.9" r="2.35" fill="#ee6468" fill-opacity="0.85"/>
<circle cx="398.7" cy="515.9" r="2.35" fill="#ee6468" fill-opacity="0.85"/>
<circle cx="383.6" cy="607.5" r="2.35" fill="#ee6468" fill-opacity="0.85"/>
<circle cx="388.9" cy="546.3" r="2.35" fill="#ee6468" fill-opacity="0.85"/>
<circle cx="377.2" cy="391.9" r="2.35" fill="#ee6468" fill-opacity="0.85"/>
<circle cx="382.2" cy="391.3" r="2.35" fill="#ee6468" fill-opacity="0.85"/>
<circle cx="376.2" cy="523.4" r="2.35" fill="#ee6468" fill-opacity="0.85"/>
<circle cx="407.9" cy="522.5" r="2.35" fill="#ee6468" fill-opacity="0.85"/>
<circle cx="399.6" cy="471.0" r="2.35" fill="#ee6468" fill-opacity="0.85"/>
<circle cx="378.3" cy="571.7" r="2.35" fill="#ee6468" fill-opacity="0.85"/>
<circle cx="390.4" cy="580.6" r="2.35" fill="#ee6468" fill-opacity="0.85"/>
<circle cx="399.3" cy="477.9" r="2.35" fill="#ee6468" fill-opacity="0.85"/>
<circle cx="396.5" cy="677.5" r="2.35" fill="#ee6468" fill-opacity="0.85"/>
<circle cx="388.5" cy="356.7" r="2.35" fill="#ee6468" fill-opacity="0.85"/>
<circle cx="377.5" cy="672.2" r="2.35" fill="#ee6468" fill-opacity="0.85"/>
<circle cx="372.5" cy="726.3" r="2.35" fill="#ee6468" fill-opacity="0.85"/>
<circle cx="391.4" cy="328.1" r="2.35" fill="#ee6468" fill-opacity="0.85"/>
<circle cx="399.5" cy="469.8" r="2.35" fill="#ee6468" fill-opacity="0.85"/>
<circle cx="391.5" cy="338.9" r="2.35" fill="#ee6468" fill-opacity="0.85"/>
<circle cx="392.2" cy="484.2" r="2.35" fill="#ee6468" fill-opacity="0.85"/>
<circle cx="390.8" cy="456.5" r="2.35" fill="#ee6468" fill-opacity="0.85"/>
<circle cx="373.6" cy="461.8" r="2.35" fill="#ee6468" fill-opacity="0.85"/>
<circle cx="384.6" cy="466.7" r="2.35" fill="#ee6468" fill-opacity="0.85"/>
<circle cx="368.6" cy="430.3" r="2.35" fill="#ee6468" fill-opacity="0.85"/>
<circle cx="365.7" cy="617.5" r="2.35" fill="#ee6468" fill-opacity="0.85"/>
<circle cx="405.1" cy="423.2" r="2.35" fill="#ee6468" fill-opacity="0.85"/>
<circle cx="380.6" cy="470.6" r="2.35" fill="#ee6468" fill-opacity="0.85"/>
<circle cx="399.4" cy="394.4" r="2.35" fill="#ee6468" fill-opacity="0.85"/>
<circle cx="375.6" cy="503.2" r="2.35" fill="#ee6468" fill-opacity="0.85"/>
<circle cx="383.0" cy="579.8" r="2.35" fill="#ee6468" fill-opacity="0.85"/>
<circle cx="383.4" cy="575.2" r="2.35" fill="#ee6468" fill-opacity="0.85"/>
<circle cx="406.0" cy="475.5" r="2.35" fill="#ee6468" fill-opacity="0.85"/>
<circle cx="389.5" cy="669.6" r="2.35" fill="#ee6468" fill-opacity="0.85"/>
<circle cx="369.3" cy="677.8" r="2.35" fill="#ee6468" fill-opacity="0.85"/>
<circle cx="389.9" cy="401.7" r="2.35" fill="#ee6468" fill-opacity="0.85"/>
<circle cx="384.1" cy="330.7" r="2.35" fill="#ee6468" fill-opacity="0.85"/>
<circle cx="381.4" cy="704.5" r="2.35" fill="#ee6468" fill-opacity="0.85"/>
<circle cx="406.2" cy="492.8" r="2.35" fill="#ee6468" fill-opacity="0.85"/>
<circle cx="385.4" cy="259.5" r="2.35" fill="#ee6468" fill-opacity="0.85"/>
<circle cx="368.6" cy="549.1" r="2.35" fill="#ee6468" fill-opacity="0.85"/>
<circle cx="373.6" cy="474.5" r="2.35" fill="#ee6468" fill-opacity="0.85"/>
<circle cx="364.7" cy="627.4" r="2.35" fill="#ee6468" fill-opacity="0.85"/>
<circle cx="394.8" cy="730.2" r="2.35" fill="#ee6468" fill-opacity="0.85"/>
<circle cx="407.5" cy="637.6" r="2.35" fill="#ee6468" fill-opacity="0.85"/>
<circle cx="403.1" cy="651.4" r="2.35" fill="#ee6468" fill-opacity="0.85"/>
<circle cx="364.8" cy="635.1" r="2.35" fill="#ee6468" fill-opacity="0.85"/>
<circle cx="374.9" cy="448.5" r="2.35" fill="#ee6468" fill-opacity="0.85"/>
<circle cx="372.4" cy="443.6" r="2.35" fill="#ee6468" fill-opacity="0.85"/>
<circle cx="398.8" cy="672.0" r="2.35" fill="#ee6468" fill-opacity="0.85"/>
<circle cx="402.5" cy="450.5" r="2.35" fill="#ee6468" fill-opacity="0.85"/>
<circle cx="367.8" cy="444.9" r="2.35" fill="#ee6468" fill-opacity="0.85"/>
<circle cx="395.9" cy="480.0" r="2.35" fill="#ee6468" fill-opacity="0.85"/>
<circle cx="406.0" cy="535.7" r="2.35" fill="#ee6468" fill-opacity="0.85"/>
<circle cx="407.4" cy="593.1" r="2.35" fill="#ee6468" fill-opacity="0.85"/>
<circle cx="364.5" cy="449.3" r="2.35" fill="#ee6468" fill-opacity="0.85"/>
<circle cx="393.3" cy="702.9" r="2.35" fill="#ee6468" fill-opacity="0.85"/>
<circle cx="367.6" cy="397.6" r="2.35" fill="#ee6468" fill-opacity="0.85"/>
<circle cx="396.8" cy="577.3" r="2.35" fill="#ee6468" fill-opacity="0.85"/>
<circle cx="402.7" cy="622.6" r="2.35" fill="#ee6468" fill-opacity="0.85"/>
<circle cx="366.7" cy="528.5" r="2.35" fill="#ee6468" fill-opacity="0.85"/>
<circle cx="389.9" cy="561.6" r="2.35" fill="#ee6468" fill-opacity="0.85"/>
<circle cx="394.5" cy="541.8" r="2.35" fill="#ee6468" fill-opacity="0.85"/>
<circle cx="399.9" cy="629.7" r="2.35" fill="#ee6468" fill-opacity="0.85"/>
<circle cx="393.0" cy="562.8" r="2.35" fill="#ee6468" fill-opacity="0.85"/>
<circle cx="382.8" cy="479.7" r="2.35" fill="#ee6468" fill-opacity="0.85"/>
<circle cx="399.4" cy="556.5" r="2.35" fill="#ee6468" fill-opacity="0.85"/>
<circle cx="399.3" cy="306.3" r="2.35" fill="#ee6468" fill-opacity="0.85"/>
<circle cx="377.2" cy="501.5" r="2.35" fill="#ee6468" fill-opacity="0.85"/>
<circle cx="407.8" cy="666.3" r="2.35" fill="#ee6468" fill-opacity="0.85"/>
<circle cx="401.2" cy="454.1" r="2.35" fill="#ee6468" fill-opacity="0.85"/>
<circle cx="391.3" cy="571.4" r="2.35" fill="#ee6468" fill-opacity="0.85"/>
<circle cx="401.4" cy="266.7" r="2.35" fill="#ee6468" fill-opacity="0.85"/>
<circle cx="377.9" cy="489.6" r="2.35" fill="#ee6468" fill-opacity="0.85"/>
<circle cx="404.0" cy="544.6" r="2.35" fill="#ee6468" fill-opacity="0.85"/>
<circle cx="394.8" cy="559.0" r="2.35" fill="#ee6468" fill-opacity="0.85"/>
<circle cx="404.3" cy="489.4" r="2.35" fill="#ee6468" fill-opacity="0.85"/>
<circle cx="376.7" cy="403.5" r="2.35" fill="#ee6468" fill-opacity="0.85"/>
<circle cx="375.8" cy="738.7" r="2.35" fill="#ee6468" fill-opacity="0.85"/>
<circle cx="390.4" cy="546.3" r="2.35" fill="#ee6468" fill-opacity="0.85"/>
<circle cx="403.9" cy="398.4" r="2.35" fill="#ee6468" fill-opacity="0.85"/>
<circle cx="401.5" cy="676.3" r="2.35" fill="#ee6468" fill-opacity="0.85"/>
<circle cx="403.0" cy="400.9" r="2.35" fill="#ee6468" fill-opacity="0.85"/>
<circle cx="376.3" cy="499.7" r="2.35" fill="#ee6468" fill-opacity="0.85"/>
<circle cx="400.3" cy="377.3" r="2.35" fill="#ee6468" fill-opacity="0.85"/>
<circle cx="405.1" cy="460.6" r="2.35" fill="#ee6468" fill-opacity="0.85"/>
<circle cx="367.8" cy="567.3" r="2.35" fill="#ee6468" fill-opacity="0.85"/>
<circle cx="399.9" cy="506.1" r="2.35" fill="#ee6468" fill-opacity="0.85"/>
<circle cx="397.8" cy="611.0" r="2.35" fill="#ee6468" fill-opacity="0.85"/>
<circle cx="374.5" cy="318.6" r="2.35" fill="#ee6468" fill-opacity="0.85"/>
<circle cx="394.5" cy="487.6" r="2.35" fill="#ee6468" fill-opacity="0.85"/>
<circle cx="373.3" cy="534.4" r="2.35" fill="#ee6468" fill-opacity="0.85"/>
<circle cx="397.8" cy="592.9" r="2.35" fill="#ee6468" fill-opacity="0.85"/>
<circle cx="384.7" cy="412.9" r="2.35" fill="#ee6468" fill-opacity="0.85"/>
<circle cx="400.3" cy="651.6" r="2.35" fill="#ee6468" fill-opacity="0.85"/>
<circle cx="374.5" cy="424.6" r="2.35" fill="#ee6468" fill-opacity="0.85"/>
<circle cx="404.4" cy="497.1" r="2.35" fill="#ee6468" fill-opacity="0.85"/>
<circle cx="387.5" cy="357.0" r="2.35" fill="#ee6468" fill-opacity="0.85"/>
<circle cx="390.5" cy="531.2" r="2.35" fill="#ee6468" fill-opacity="0.85"/>
<circle cx="372.7" cy="614.8" r="2.35" fill="#ee6468" fill-opacity="0.85"/>
<circle cx="395.5" cy="617.7" r="2.35" fill="#ee6468" fill-opacity="0.85"/>
<circle cx="389.4" cy="562.9" r="2.35" fill="#ee6468" fill-opacity="0.85"/>
<circle cx="387.3" cy="551.8" r="2.35" fill="#ee6468" fill-opacity="0.85"/>
<circle cx="366.0" cy="628.4" r="2.35" fill="#ee6468" fill-opacity="0.85"/>
<circle cx="380.8" cy="224.0" r="2.35" fill="#ee6468" fill-opacity="0.85"/>
<circle cx="392.5" cy="642.9" r="2.35" fill="#ee6468" fill-opacity="0.85"/>
<circle cx="371.0" cy="415.5" r="2.35" fill="#ee6468" fill-opacity="0.85"/>
<circle cx="379.5" cy="491.0" r="2.35" fill="#ee6468" fill-opacity="0.85"/>
<circle cx="364.9" cy="518.0" r="2.35" fill="#ee6468" fill-opacity="0.85"/>
<circle cx="408.6" cy="681.0" r="2.35" fill="#ee6468" fill-opacity="0.85"/>
<circle cx="385.9" cy="368.4" r="2.35" fill="#ee6468" fill-opacity="0.85"/>
<circle cx="375.8" cy="501.4" r="2.35" fill="#ee6468" fill-opacity="0.85"/>
<circle cx="383.2" cy="420.4" r="2.35" fill="#ee6468" fill-opacity="0.85"/>
<circle cx="398.5" cy="304.8" r="2.35" fill="#ee6468" fill-opacity="0.85"/>
<circle cx="407.4" cy="396.7" r="2.35" fill="#ee6468" fill-opacity="0.85"/>
<circle cx="365.7" cy="593.1" r="2.35" fill="#ee6468" fill-opacity="0.85"/>
<circle cx="372.1" cy="610.8" r="2.35" fill="#ee6468" fill-opacity="0.85"/>
<circle cx="366.3" cy="653.8" r="2.35" fill="#ee6468" fill-opacity="0.85"/>
<circle cx="403.2" cy="504.8" r="2.35" fill="#ee6468" fill-opacity="0.85"/>
<circle cx="406.6" cy="536.3" r="2.35" fill="#ee6468" fill-opacity="0.85"/>
<circle cx="366.9" cy="338.8" r="2.35" fill="#ee6468" fill-opacity="0.85"/>
<circle cx="381.9" cy="490.7" r="2.35" fill="#ee6468" fill-opacity="0.85"/>
<circle cx="407.2" cy="638.2" r="2.35" fill="#ee6468" fill-opacity="0.85"/>
<circle cx="389.4" cy="592.2" r="2.35" fill="#ee6468" fill-opacity="0.85"/>
<circle cx="407.0" cy="475.9" r="2.35" fill="#ee6468" fill-opacity="0.85"/>
<circle cx="381.7" cy="465.8" r="2.35" fill="#ee6468" fill-opacity="0.85"/>
<circle cx="371.2" cy="539.1" r="2.35" fill="#ee6468" fill-opacity="0.85"/>
<circle cx="408.6" cy="286.9" r="2.35" fill="#ee6468" fill-opacity="0.85"/>
<circle cx="365.7" cy="603.8" r="2.35" fill="#ee6468" fill-opacity="0.85"/>
<circle cx="379.8" cy="592.6" r="2.35" fill="#ee6468" fill-opacity="0.85"/>
<circle cx="404.7" cy="345.5" r="2.35" fill="#ee6468" fill-opacity="0.85"/>
<circle cx="366.1" cy="385.7" r="2.35" fill="#ee6468" fill-opacity="0.85"/>
<circle cx="395.9" cy="416.1" r="2.35" fill="#ee6468" fill-opacity="0.85"/>
<circle cx="408.3" cy="473.8" r="2.35" fill="#ee6468" fill-opacity="0.85"/>
<circle cx="370.5" cy="668.9" r="2.35" fill="#ee6468" fill-opacity="0.85"/>
<circle cx="406.3" cy="434.9" r="2.35" fill="#ee6468" fill-opacity="0.85"/>
<circle cx="377.4" cy="463.3" r="2.35" fill="#ee6468" fill-opacity="0.85"/>
<circle cx="398.1" cy="492.9" r="2.35" fill="#ee6468" fill-opacity="0.85"/>
<circle cx="378.6" cy="643.1" r="2.35" fill="#ee6468" fill-opacity="0.85"/>
<circle cx="369.6" cy="592.3" r="2.35" fill="#ee6468" fill-opacity="0.85"/>
<circle cx="371.6" cy="529.9" r="2.35" fill="#ee6468" fill-opacity="0.85"/>
<circle cx="370.4" cy="598.1" r="2.35" fill="#ee6468" fill-opacity="0.85"/>
<circle cx="364.6" cy="463.0" r="2.35" fill="#ee6468" fill-opacity="0.85"/>
<circle cx="372.8" cy="449.2" r="2.35" fill="#ee6468" fill-opacity="0.85"/>
<circle cx="405.7" cy="679.7" r="2.35" fill="#ee6468" fill-opacity="0.85"/>
<circle cx="406.0" cy="604.2" r="2.35" fill="#ee6468" fill-opacity="0.85"/>
<circle cx="404.0" cy="368.0" r="2.35" fill="#ee6468" fill-opacity="0.85"/>
<circle cx="384.1" cy="631.5" r="2.35" fill="#ee6468" fill-opacity="0.85"/>
<circle cx="405.8" cy="646.6" r="2.35" fill="#ee6468" fill-opacity="0.85"/>
<circle cx="392.3" cy="382.6" r="2.35" fill="#ee6468" fill-opacity="0.85"/>
<circle cx="379.3" cy="538.0" r="2.35" fill="#ee6468" fill-opacity="0.85"/>
<circle cx="385.5" cy="394.1" r="2.35" fill="#ee6468" fill-opacity="0.85"/>
<circle cx="370.4" cy="480.2" r="2.35" fill="#ee6468" fill-opacity="0.85"/>
<circle cx="366.6" cy="603.8" r="2.35" fill="#ee6468" fill-opacity="0.85"/>
<circle cx="388.9" cy="450.5" r="2.35" fill="#ee6468" fill-opacity="0.85"/>
<circle cx="403.2" cy="629.8" r="2.35" fill="#ee6468" fill-opacity="0.85"/>
<circle cx="382.5" cy="589.7" r="2.35" fill="#ee6468" fill-opacity="0.85"/>
<circle cx="376.2" cy="626.1" r="2.35" fill="#ee6468" fill-opacity="0.85"/>
<circle cx="379.1" cy="384.3" r="2.35" fill="#ee6468" fill-opacity="0.85"/>
<circle cx="386.1" cy="622.0" r="2.35" fill="#ee6468" fill-opacity="0.85"/>
<circle cx="404.6" cy="575.3" r="2.35" fill="#ee6468" fill-opacity="0.85"/>
<circle cx="408.0" cy="640.1" r="2.35" fill="#ee6468" fill-opacity="0.85"/>
<circle cx="404.3" cy="668.3" r="2.35" fill="#ee6468" fill-opacity="0.85"/>
<circle cx="373.5" cy="466.3" r="2.35" fill="#ee6468" fill-opacity="0.85"/>
<circle cx="376.9" cy="531.0" r="2.35" fill="#ee6468" fill-opacity="0.85"/>
<circle cx="373.1" cy="592.1" r="2.35" fill="#ee6468" fill-opacity="0.85"/>
<circle cx="408.6" cy="562.5" r="2.35" fill="#ee6468" fill-opacity="0.85"/>
<circle cx="405.6" cy="221.9" r="2.35" fill="#ee6468" fill-opacity="0.85"/>
<circle cx="377.0" cy="646.2" r="2.35" fill="#ee6468" fill-opacity="0.85"/>
<circle cx="366.6" cy="350.4" r="2.35" fill="#ee6468" fill-opacity="0.85"/>
<circle cx="377.2" cy="446.0" r="2.35" fill="#ee6468" fill-opacity="0.85"/>
<circle cx="364.7" cy="264.2" r="2.35" fill="#ee6468" fill-opacity="0.85"/>
<circle cx="379.3" cy="403.7" r="2.35" fill="#ee6468" fill-opacity="0.85"/>
<circle cx="364.1" cy="631.4" r="2.35" fill="#ee6468" fill-opacity="0.85"/>
<circle cx="387.7" cy="388.6" r="2.35" fill="#ee6468" fill-opacity="0.85"/>
<circle cx="383.6" cy="615.9" r="2.35" fill="#ee6468" fill-opacity="0.85"/>
<circle cx="373.8" cy="336.9" r="2.35" fill="#ee6468" fill-opacity="0.85"/>
<circle cx="370.2" cy="499.9" r="2.35" fill="#ee6468" fill-opacity="0.85"/>
<circle cx="398.7" cy="617.8" r="2.35" fill="#ee6468" fill-opacity="0.85"/>
<circle cx="372.9" cy="451.2" r="2.35" fill="#ee6468" fill-opacity="0.85"/>
<circle cx="367.9" cy="656.2" r="2.35" fill="#ee6468" fill-opacity="0.85"/>
<circle cx="386.3" cy="487.0" r="2.35" fill="#ee6468" fill-opacity="0.85"/>
<circle cx="373.3" cy="587.6" r="2.35" fill="#ee6468" fill-opacity="0.85"/>
<circle cx="395.8" cy="485.7" r="2.35" fill="#ee6468" fill-opacity="0.85"/>
<circle cx="390.2" cy="401.0" r="2.35" fill="#ee6468" fill-opacity="0.85"/>
<circle cx="367.0" cy="610.4" r="2.35" fill="#ee6468" fill-opacity="0.85"/>
<circle cx="382.4" cy="443.9" r="2.35" fill="#ee6468" fill-opacity="0.85"/>
<circle cx="366.5" cy="447.7" r="2.35" fill="#ee6468" fill-opacity="0.85"/>
<circle cx="379.1" cy="401.6" r="2.35" fill="#ee6468" fill-opacity="0.85"/>
<circle cx="402.9" cy="382.8" r="2.35" fill="#ee6468" fill-opacity="0.85"/>
<circle cx="364.7" cy="526.7" r="2.35" fill="#ee6468" fill-opacity="0.85"/>
<circle cx="385.4" cy="338.6" r="2.35" fill="#ee6468" fill-opacity="0.85"/>
<circle cx="376.0" cy="364.8" r="2.35" fill="#ee6468" fill-opacity="0.85"/>
<circle cx="401.4" cy="615.8" r="2.35" fill="#ee6468" fill-opacity="0.85"/>
<circle cx="371.4" cy="561.7" r="2.35" fill="#ee6468" fill-opacity="0.85"/>
<circle cx="390.8" cy="560.6" r="2.35" fill="#ee6468" fill-opacity="0.85"/>
<circle cx="387.4" cy="730.6" r="2.35" fill="#ee6468" fill-opacity="0.85"/>
<circle cx="387.2" cy="539.8" r="2.35" fill="#ee6468" fill-opacity="0.85"/>
<circle cx="396.2" cy="637.9" r="2.35" fill="#ee6468" fill-opacity="0.85"/>
<circle cx="402.9" cy="398.0" r="2.35" fill="#ee6468" fill-opacity="0.85"/>
<circle cx="396.0" cy="574.5" r="2.35" fill="#ee6468" fill-opacity="0.85"/>
<circle cx="397.8" cy="557.7" r="2.35" fill="#ee6468" fill-opacity="0.85"/>
<circle cx="403.3" cy="666.0" r="2.35" fill="#ee6468" fill-opacity="0.85"/>
<circle cx="386.3" cy="297.8" r="2.35" fill="#ee6468" fill-opacity="0.85"/>
<circle cx="387.9" cy="520.1" r="2.35" fill="#ee6468" fill-opacity="0.85"/>
<circle cx="364.9" cy="511.8" r="2.35" fill="#ee6468" fill-opacity="0.85"/>
<circle cx="374.1" cy="285.3" r="2.35" fill="#ee6468" fill-opacity="0.85"/>
<circle cx="368.6" cy="617.1" r="2.35" fill="#ee6468" fill-opacity="0.85"/>
<circle cx="400.8" cy="594.1" r="2.35" fill="#ee6468" fill-opacity="0.85"/>
<circle cx="368.3" cy="682.9" r="2.35" fill="#ee6468" fill-opacity="0.85"/>
<circle cx="372.8" cy="455.6" r="2.35" fill="#ee6468" fill-opacity="0.85"/>
<circle cx="391.0" cy="694.7" r="2.35" fill="#ee6468" fill-opacity="0.85"/>
<circle cx="387.5" cy="498.2" r="2.35" fill="#ee6468" fill-opacity="0.85"/>
<circle cx="368.6" cy="454.3" r="2.35" fill="#ee6468" fill-opacity="0.85"/>
<circle cx="396.3" cy="366.3" r="2.35" fill="#ee6468" fill-opacity="0.85"/>
<circle cx="369.5" cy="674.7" r="2.35" fill="#ee6468" fill-opacity="0.85"/>
<circle cx="386.5" cy="526.5" r="2.35" fill="#ee6468" fill-opacity="0.85"/>
<circle cx="369.5" cy="586.0" r="2.35" fill="#ee6468" fill-opacity="0.85"/>
<circle cx="370.2" cy="551.0" r="2.35" fill="#ee6468" fill-opacity="0.85"/>
<circle cx="402.7" cy="492.8" r="2.35" fill="#ee6468" fill-opacity="0.85"/>
<circle cx="389.8" cy="629.0" r="2.35" fill="#ee6468" fill-opacity="0.85"/>
<circle cx="371.4" cy="439.0" r="2.35" fill="#ee6468" fill-opacity="0.85"/>
<circle cx="406.2" cy="392.4" r="2.35" fill="#ee6468" fill-opacity="0.85"/>
<circle cx="382.9" cy="555.7" r="2.35" fill="#ee6468" fill-opacity="0.85"/>
<circle cx="387.7" cy="384.2" r="2.35" fill="#ee6468" fill-opacity="0.85"/>
<circle cx="406.4" cy="553.8" r="2.35" fill="#ee6468" fill-opacity="0.85"/>
<circle cx="379.2" cy="421.8" r="2.35" fill="#ee6468" fill-opacity="0.85"/>
<circle cx="379.1" cy="597.5" r="2.35" fill="#ee6468" fill-opacity="0.85"/>
<circle cx="408.2" cy="542.6" r="2.35" fill="#ee6468" fill-opacity="0.85"/>
<circle cx="405.1" cy="405.3" r="2.35" fill="#ee6468" fill-opacity="0.85"/>
<circle cx="402.1" cy="398.9" r="2.35" fill="#ee6468" fill-opacity="0.85"/>
<circle cx="387.3" cy="670.1" r="2.35" fill="#ee6468" fill-opacity="0.85"/>
<circle cx="406.0" cy="294.2" r="2.35" fill="#ee6468" fill-opacity="0.85"/>
<circle cx="383.0" cy="594.5" r="2.35" fill="#ee6468" fill-opacity="0.85"/>
<circle cx="380.4" cy="478.6" r="2.35" fill="#ee6468" fill-opacity="0.85"/>
<circle cx="367.1" cy="514.0" r="2.35" fill="#ee6468" fill-opacity="0.85"/>
<circle cx="386.7" cy="543.4" r="2.35" fill="#ee6468" fill-opacity="0.85"/>
<circle cx="370.3" cy="687.9" r="2.35" fill="#ee6468" fill-opacity="0.85"/>
<circle cx="398.9" cy="283.2" r="2.35" fill="#ee6468" fill-opacity="0.85"/>
<circle cx="392.5" cy="313.7" r="2.35" fill="#ee6468" fill-opacity="0.85"/>
<circle cx="403.8" cy="402.4" r="2.35" fill="#ee6468" fill-opacity="0.85"/>
<circle cx="365.5" cy="357.3" r="2.35" fill="#ee6468" fill-opacity="0.85"/>
<circle cx="376.0" cy="475.5" r="2.35" fill="#ee6468" fill-opacity="0.85"/>
<circle cx="376.3" cy="462.7" r="2.35" fill="#ee6468" fill-opacity="0.85"/>
<circle cx="405.6" cy="510.1" r="2.35" fill="#ee6468" fill-opacity="0.85"/>
<circle cx="375.3" cy="482.6" r="2.35" fill="#ee6468" fill-opacity="0.85"/>
<circle cx="383.5" cy="517.7" r="2.35" fill="#ee6468" fill-opacity="0.85"/>
<circle cx="376.9" cy="300.7" r="2.35" fill="#ee6468" fill-opacity="0.85"/>
<circle cx="393.1" cy="578.8" r="2.35" fill="#ee6468" fill-opacity="0.85"/>
<circle cx="390.7" cy="638.0" r="2.35" fill="#ee6468" fill-opacity="0.85"/>
<circle cx="387.1" cy="295.9" r="2.35" fill="#ee6468" fill-opacity="0.85"/>
<circle cx="385.0" cy="589.1" r="2.35" fill="#ee6468" fill-opacity="0.85"/>
<circle cx="370.7" cy="513.0" r="2.35" fill="#ee6468" fill-opacity="0.85"/>
<circle cx="369.9" cy="636.8" r="2.35" fill="#ee6468" fill-opacity="0.85"/>
<circle cx="382.3" cy="582.1" r="2.35" fill="#ee6468" fill-opacity="0.85"/>
<circle cx="375.0" cy="583.6" r="2.35" fill="#ee6468" fill-opacity="0.85"/>
<circle cx="388.6" cy="651.5" r="2.35" fill="#ee6468" fill-opacity="0.85"/>
<circle cx="391.4" cy="384.1" r="2.35" fill="#ee6468" fill-opacity="0.85"/>
<circle cx="393.3" cy="500.3" r="2.35" fill="#ee6468" fill-opacity="0.85"/>
<circle cx="396.0" cy="610.7" r="2.35" fill="#ee6468" fill-opacity="0.85"/>
<circle cx="388.7" cy="535.6" r="2.35" fill="#ee6468" fill-opacity="0.85"/>
<circle cx="385.1" cy="485.5" r="2.35" fill="#ee6468" fill-opacity="0.85"/>
<circle cx="374.9" cy="577.4" r="2.35" fill="#ee6468" fill-opacity="0.85"/>
<circle cx="387.1" cy="603.8" r="2.35" fill="#ee6468" fill-opacity="0.85"/>
<circle cx="390.4" cy="557.2" r="2.35" fill="#ee6468" fill-opacity="0.85"/>
<circle cx="379.9" cy="710.7" r="2.35" fill="#ee6468" fill-opacity="0.85"/>
<circle cx="374.7" cy="370.9" r="2.35" fill="#ee6468" fill-opacity="0.85"/>
<circle cx="386.1" cy="505.0" r="2.35" fill="#ee6468" fill-opacity="0.85"/>
<circle cx="408.4" cy="584.6" r="2.35" fill="#ee6468" fill-opacity="0.85"/>
<circle cx="398.7" cy="581.6" r="2.35" fill="#ee6468" fill-opacity="0.85"/>
<circle cx="367.0" cy="625.1" r="2.35" fill="#ee6468" fill-opacity="0.85"/>
<circle cx="383.8" cy="365.3" r="2.35" fill="#ee6468" fill-opacity="0.85"/>
<circle cx="381.5" cy="665.5" r="2.35" fill="#ee6468" fill-opacity="0.85"/>
<circle cx="397.1" cy="541.4" r="2.35" fill="#ee6468" fill-opacity="0.85"/>
<circle cx="374.1" cy="641.8" r="2.35" fill="#ee6468" fill-opacity="0.85"/>
<circle cx="397.2" cy="292.9" r="2.35" fill="#ee6468" fill-opacity="0.85"/>
<circle cx="379.2" cy="626.5" r="2.35" fill="#ee6468" fill-opacity="0.85"/>
<circle cx="394.4" cy="565.8" r="2.35" fill="#ee6468" fill-opacity="0.85"/>
<circle cx="402.2" cy="484.3" r="2.35" fill="#ee6468" fill-opacity="0.85"/>
<circle cx="387.3" cy="395.2" r="2.35" fill="#ee6468" fill-opacity="0.85"/>
<circle cx="397.4" cy="441.8" r="2.35" fill="#ee6468" fill-opacity="0.85"/>
<circle cx="385.4" cy="432.1" r="2.35" fill="#ee6468" fill-opacity="0.85"/>
<circle cx="395.9" cy="416.9" r="2.35" fill="#ee6468" fill-opacity="0.85"/>
<circle cx="369.7" cy="334.4" r="2.35" fill="#ee6468" fill-opacity="0.85"/>
<circle cx="364.2" cy="365.5" r="2.35" fill="#ee6468" fill-opacity="0.85"/>
<circle cx="390.4" cy="428.5" r="2.35" fill="#ee6468" fill-opacity="0.85"/>
<circle cx="407.3" cy="525.3" r="2.35" fill="#ee6468" fill-opacity="0.85"/>
<circle cx="382.8" cy="499.7" r="2.35" fill="#ee6468" fill-opacity="0.85"/>
<circle cx="403.3" cy="417.7" r="2.35" fill="#ee6468" fill-opacity="0.85"/>
<circle cx="381.1" cy="487.4" r="2.35" fill="#ee6468" fill-opacity="0.85"/>
<circle cx="384.6" cy="538.0" r="2.35" fill="#ee6468" fill-opacity="0.85"/>
<circle cx="377.2" cy="447.2" r="2.35" fill="#ee6468" fill-opacity="0.85"/>
<circle cx="389.0" cy="555.1" r="2.35" fill="#ee6468" fill-opacity="0.85"/>
<circle cx="378.5" cy="556.8" r="2.35" fill="#ee6468" fill-opacity="0.85"/>
<circle cx="402.2" cy="415.7" r="2.35" fill="#ee6468" fill-opacity="0.85"/>
<circle cx="384.0" cy="524.9" r="2.35" fill="#ee6468" fill-opacity="0.85"/>
<circle cx="377.7" cy="616.5" r="2.35" fill="#ee6468" fill-opacity="0.85"/>
<circle cx="389.9" cy="629.7" r="2.35" fill="#ee6468" fill-opacity="0.85"/>
<circle cx="368.0" cy="496.4" r="2.35" fill="#ee6468" fill-opacity="0.85"/>
<circle cx="378.6" cy="329.3" r="2.35" fill="#ee6468" fill-opacity="0.85"/>
<circle cx="401.7" cy="382.0" r="2.35" fill="#ee6468" fill-opacity="0.85"/>
<circle cx="373.2" cy="293.4" r="2.35" fill="#ee6468" fill-opacity="0.85"/>
<circle cx="405.0" cy="545.2" r="2.35" fill="#ee6468" fill-opacity="0.85"/>
<circle cx="366.1" cy="714.0" r="2.35" fill="#ee6468" fill-opacity="0.85"/>
<circle cx="386.4" cy="502.2" r="2.35" fill="#ee6468" fill-opacity="0.85"/>
<circle cx="398.8" cy="329.2" r="2.35" fill="#ee6468" fill-opacity="0.85"/>
<circle cx="408.9" cy="511.4" r="2.35" fill="#ee6468" fill-opacity="0.85"/>
<circle cx="387.3" cy="518.7" r="2.35" fill="#ee6468" fill-opacity="0.85"/>
<circle cx="381.5" cy="460.4" r="2.35" fill="#ee6468" fill-opacity="0.85"/>
<circle cx="390.8" cy="564.3" r="2.35" fill="#ee6468" fill-opacity="0.85"/>
<circle cx="406.7" cy="566.1" r="2.35" fill="#ee6468" fill-opacity="0.85"/>
<circle cx="387.6" cy="463.4" r="2.35" fill="#ee6468" fill-opacity="0.85"/>
<circle cx="380.8" cy="645.5" r="2.35" fill="#ee6468" fill-opacity="0.85"/>
<circle cx="389.3" cy="552.3" r="2.35" fill="#ee6468" fill-opacity="0.85"/>
<circle cx="403.6" cy="499.0" r="2.35" fill="#ee6468" fill-opacity="0.85"/>
<circle cx="385.9" cy="288.1" r="2.35" fill="#ee6468" fill-opacity="0.85"/>
<circle cx="392.1" cy="541.4" r="2.35" fill="#ee6468" fill-opacity="0.85"/>
<circle cx="379.4" cy="226.2" r="2.35" fill="#ee6468" fill-opacity="0.85"/>
<circle cx="400.7" cy="514.3" r="2.35" fill="#ee6468" fill-opacity="0.85"/>
<circle cx="378.3" cy="621.0" r="2.35" fill="#ee6468" fill-opacity="0.85"/>
<circle cx="401.2" cy="264.6" r="2.35" fill="#ee6468" fill-opacity="0.85"/>
<circle cx="369.0" cy="520.4" r="2.35" fill="#ee6468" fill-opacity="0.85"/>
<circle cx="395.0" cy="351.4" r="2.35" fill="#ee6468" fill-opacity="0.85"/>
<circle cx="408.6" cy="395.6" r="2.35" fill="#ee6468" fill-opacity="0.85"/>
<circle cx="382.9" cy="355.2" r="2.35" fill="#ee6468" fill-opacity="0.85"/>
<circle cx="377.0" cy="625.9" r="2.35" fill="#ee6468" fill-opacity="0.85"/>
<circle cx="386.7" cy="520.7" r="2.35" fill="#ee6468" fill-opacity="0.85"/>
<circle cx="372.2" cy="615.2" r="2.35" fill="#ee6468" fill-opacity="0.85"/>
<circle cx="391.1" cy="479.5" r="2.35" fill="#ee6468" fill-opacity="0.85"/>
<circle cx="408.7" cy="565.6" r="2.35" fill="#ee6468" fill-opacity="0.85"/>
<circle cx="365.9" cy="477.3" r="2.35" fill="#ee6468" fill-opacity="0.85"/>
<circle cx="399.4" cy="549.4" r="2.35" fill="#ee6468" fill-opacity="0.85"/>
<circle cx="395.1" cy="578.5" r="2.35" fill="#ee6468" fill-opacity="0.85"/>
<circle cx="377.7" cy="732.6" r="2.35" fill="#ee6468" fill-opacity="0.85"/>
<circle cx="390.4" cy="382.7" r="2.35" fill="#ee6468" fill-opacity="0.85"/>
<circle cx="372.8" cy="466.3" r="2.35" fill="#ee6468" fill-opacity="0.85"/>
<circle cx="388.9" cy="525.3" r="2.35" fill="#ee6468" fill-opacity="0.85"/>
<circle cx="393.1" cy="589.8" r="2.35" fill="#ee6468" fill-opacity="0.85"/>
<circle cx="408.9" cy="513.8" r="2.35" fill="#ee6468" fill-opacity="0.85"/>
<circle cx="382.5" cy="498.9" r="2.35" fill="#ee6468" fill-opacity="0.85"/>
<circle cx="371.1" cy="637.7" r="2.35" fill="#ee6468" fill-opacity="0.85"/>
<circle cx="368.8" cy="432.2" r="2.35" fill="#ee6468" fill-opacity="0.85"/>
<circle cx="371.7" cy="644.9" r="2.35" fill="#ee6468" fill-opacity="0.85"/>
<circle cx="401.0" cy="516.9" r="2.35" fill="#ee6468" fill-opacity="0.85"/>
<circle cx="400.3" cy="485.5" r="2.35" fill="#ee6468" fill-opacity="0.85"/>
<circle cx="364.6" cy="665.5" r="2.35" fill="#ee6468" fill-opacity="0.85"/>
<circle cx="378.5" cy="425.5" r="2.35" fill="#ee6468" fill-opacity="0.85"/>
<circle cx="379.9" cy="449.9" r="2.35" fill="#ee6468" fill-opacity="0.85"/>
<circle cx="376.0" cy="621.5" r="2.35" fill="#ee6468" fill-opacity="0.85"/>
<circle cx="404.7" cy="645.2" r="2.35" fill="#ee6468" fill-opacity="0.85"/>
<circle cx="379.7" cy="496.1" r="2.35" fill="#ee6468" fill-opacity="0.85"/>
<circle cx="381.4" cy="538.7" r="2.35" fill="#ee6468" fill-opacity="0.85"/>
<circle cx="404.1" cy="669.5" r="2.35" fill="#ee6468" fill-opacity="0.85"/>
<circle cx="407.2" cy="496.0" r="2.35" fill="#ee6468" fill-opacity="0.85"/>
<circle cx="391.9" cy="541.5" r="2.35" fill="#ee6468" fill-opacity="0.85"/>
<circle cx="366.0" cy="594.5" r="2.35" fill="#ee6468" fill-opacity="0.85"/>
<circle cx="402.5" cy="319.4" r="2.35" fill="#ee6468" fill-opacity="0.85"/>
<circle cx="404.4" cy="576.2" r="2.35" fill="#ee6468" fill-opacity="0.85"/>
<circle cx="377.7" cy="398.4" r="2.35" fill="#ee6468" fill-opacity="0.85"/>
<circle cx="407.2" cy="489.1" r="2.35" fill="#ee6468" fill-opacity="0.85"/>
<circle cx="406.7" cy="526.0" r="2.35" fill="#ee6468" fill-opacity="0.85"/>
<circle cx="381.5" cy="596.6" r="2.35" fill="#ee6468" fill-opacity="0.85"/>
<circle cx="374.0" cy="448.8" r="2.35" fill="#ee6468" fill-opacity="0.85"/>
<circle cx="403.4" cy="577.8" r="2.35" fill="#ee6468" fill-opacity="0.85"/>
<circle cx="399.7" cy="529.1" r="2.35" fill="#ee6468" fill-opacity="0.85"/>
<circle cx="371.8" cy="596.5" r="2.35" fill="#ee6468" fill-opacity="0.85"/>
<circle cx="372.4" cy="564.1" r="2.35" fill="#ee6468" fill-opacity="0.85"/>
<circle cx="377.1" cy="279.6" r="2.35" fill="#ee6468" fill-opacity="0.85"/>
<circle cx="369.2" cy="503.4" r="2.35" fill="#ee6468" fill-opacity="0.85"/>
<circle cx="381.4" cy="513.0" r="2.35" fill="#ee6468" fill-opacity="0.85"/>
<circle cx="366.9" cy="551.6" r="2.35" fill="#ee6468" fill-opacity="0.85"/>
<circle cx="401.2" cy="637.1" r="2.35" fill="#ee6468" fill-opacity="0.85"/>
<circle cx="375.0" cy="566.1" r="2.35" fill="#ee6468" fill-opacity="0.85"/>
<circle cx="376.8" cy="614.1" r="2.35" fill="#ee6468" fill-opacity="0.85"/>
<circle cx="365.6" cy="598.6" r="2.35" fill="#ee6468" fill-opacity="0.85"/>
<circle cx="379.4" cy="467.6" r="2.35" fill="#ee6468" fill-opacity="0.85"/>
<circle cx="395.8" cy="626.0" r="2.35" fill="#ee6468" fill-opacity="0.85"/>
<circle cx="376.1" cy="648.9" r="2.35" fill="#ee6468" fill-opacity="0.85"/>
<circle cx="369.8" cy="387.0" r="2.35" fill="#ee6468" fill-opacity="0.85"/>
<circle cx="401.6" cy="540.5" r="2.35" fill="#ee6468" fill-opacity="0.85"/>
<circle cx="371.2" cy="405.0" r="2.35" fill="#ee6468" fill-opacity="0.85"/>
<circle cx="396.5" cy="565.6" r="2.35" fill="#ee6468" fill-opacity="0.85"/>
<circle cx="371.9" cy="84.9" r="4.5" fill="#f5b0c0" fill-opacity="0.3"/><circle cx="371.9" cy="84.9" r="2.8" fill="#c07080"/>
<circle cx="402.8" cy="107.6" r="4.5" fill="#f5b0c0" fill-opacity="0.3"/><circle cx="402.8" cy="107.6" r="2.8" fill="#c07080"/>
<circle cx="378.4" cy="128.9" r="4.5" fill="#f5b0c0" fill-opacity="0.3"/><circle cx="378.4" cy="128.9" r="2.8" fill="#c07080"/>
<circle cx="366.2" cy="131.0" r="4.5" fill="#f5b0c0" fill-opacity="0.3"/><circle cx="366.2" cy="131.0" r="2.8" fill="#c07080"/>
<circle cx="368.8" cy="144.5" r="4.5" fill="#f5b0c0" fill-opacity="0.3"/><circle cx="368.8" cy="144.5" r="2.8" fill="#c07080"/>
<circle cx="369.0" cy="177.2" r="4.5" fill="#f5b0c0" fill-opacity="0.3"/><circle cx="369.0" cy="177.2" r="2.8" fill="#c07080"/>
<circle cx="382.0" cy="174.0" r="4.5" fill="#f5b0c0" fill-opacity="0.3"/><circle cx="382.0" cy="174.0" r="2.8" fill="#c07080"/>
<circle cx="392.0" cy="173.0" r="4.5" fill="#f5b0c0" fill-opacity="0.3"/><circle cx="392.0" cy="173.0" r="2.8" fill="#c07080"/>
<circle cx="393.1" cy="196.6" r="4.5" fill="#f5b0c0" fill-opacity="0.3"/><circle cx="393.1" cy="196.6" r="2.8" fill="#c07080"/>
<circle cx="367.7" cy="220.6" r="4.5" fill="#f5b0c0" fill-opacity="0.3"/><circle cx="367.7" cy="220.6" r="2.8" fill="#c07080"/>
<circle cx="483.6" cy="587.2" r="2.35" fill="#22b0b2" fill-opacity="0.85"/>
<circle cx="483.3" cy="639.9" r="2.35" fill="#22b0b2" fill-opacity="0.85"/>
<circle cx="450.7" cy="553.5" r="2.35" fill="#22b0b2" fill-opacity="0.85"/>
<circle cx="446.4" cy="567.5" r="2.35" fill="#22b0b2" fill-opacity="0.85"/>
<circle cx="452.2" cy="485.8" r="2.35" fill="#22b0b2" fill-opacity="0.85"/>
<circle cx="466.9" cy="380.9" r="2.35" fill="#22b0b2" fill-opacity="0.85"/>
<circle cx="451.6" cy="589.5" r="2.35" fill="#22b0b2" fill-opacity="0.85"/>
<circle cx="450.1" cy="518.8" r="2.35" fill="#22b0b2" fill-opacity="0.85"/>
<circle cx="446.0" cy="396.2" r="2.35" fill="#22b0b2" fill-opacity="0.85"/>
<circle cx="464.9" cy="550.8" r="2.35" fill="#22b0b2" fill-opacity="0.85"/>
<circle cx="475.2" cy="615.0" r="2.35" fill="#22b0b2" fill-opacity="0.85"/>
<circle cx="470.1" cy="585.2" r="2.35" fill="#22b0b2" fill-opacity="0.85"/>
<circle cx="454.5" cy="532.4" r="2.35" fill="#22b0b2" fill-opacity="0.85"/>
<circle cx="444.4" cy="583.8" r="2.35" fill="#22b0b2" fill-opacity="0.85"/>
<circle cx="478.8" cy="654.4" r="2.35" fill="#22b0b2" fill-opacity="0.85"/>
<circle cx="470.3" cy="601.8" r="2.35" fill="#22b0b2" fill-opacity="0.85"/>
<circle cx="465.8" cy="685.6" r="2.35" fill="#22b0b2" fill-opacity="0.85"/>
<circle cx="463.0" cy="591.2" r="2.35" fill="#22b0b2" fill-opacity="0.85"/>
<circle cx="443.5" cy="608.1" r="2.35" fill="#22b0b2" fill-opacity="0.85"/>
<circle cx="450.7" cy="604.3" r="2.35" fill="#22b0b2" fill-opacity="0.85"/>
<circle cx="472.8" cy="678.3" r="2.35" fill="#22b0b2" fill-opacity="0.85"/>
<circle cx="458.7" cy="611.9" r="2.35" fill="#22b0b2" fill-opacity="0.85"/>
<circle cx="475.4" cy="375.8" r="2.35" fill="#22b0b2" fill-opacity="0.85"/>
<circle cx="479.3" cy="390.0" r="2.35" fill="#22b0b2" fill-opacity="0.85"/>
<circle cx="452.9" cy="675.4" r="2.35" fill="#22b0b2" fill-opacity="0.85"/>
<circle cx="471.1" cy="717.5" r="2.35" fill="#22b0b2" fill-opacity="0.85"/>
<circle cx="456.3" cy="500.2" r="2.35" fill="#22b0b2" fill-opacity="0.85"/>
<circle cx="470.2" cy="577.9" r="2.35" fill="#22b0b2" fill-opacity="0.85"/>
<circle cx="451.7" cy="488.2" r="2.35" fill="#22b0b2" fill-opacity="0.85"/>
<circle cx="456.3" cy="411.9" r="2.35" fill="#22b0b2" fill-opacity="0.85"/>
<circle cx="448.7" cy="511.9" r="2.35" fill="#22b0b2" fill-opacity="0.85"/>
<circle cx="481.6" cy="683.0" r="2.35" fill="#22b0b2" fill-opacity="0.85"/>
<circle cx="472.6" cy="476.5" r="2.35" fill="#22b0b2" fill-opacity="0.85"/>
<circle cx="442.3" cy="713.1" r="2.35" fill="#22b0b2" fill-opacity="0.85"/>
<circle cx="449.4" cy="661.5" r="2.35" fill="#22b0b2" fill-opacity="0.85"/>
<circle cx="457.6" cy="606.5" r="2.35" fill="#22b0b2" fill-opacity="0.85"/>
<circle cx="454.5" cy="713.6" r="2.35" fill="#22b0b2" fill-opacity="0.85"/>
<circle cx="448.6" cy="508.7" r="2.35" fill="#22b0b2" fill-opacity="0.85"/>
<circle cx="466.2" cy="416.4" r="2.35" fill="#22b0b2" fill-opacity="0.85"/>
<circle cx="452.0" cy="482.4" r="2.35" fill="#22b0b2" fill-opacity="0.85"/>
<circle cx="471.3" cy="572.1" r="2.35" fill="#22b0b2" fill-opacity="0.85"/>
<circle cx="440.5" cy="594.5" r="2.35" fill="#22b0b2" fill-opacity="0.85"/>
<circle cx="475.4" cy="419.5" r="2.35" fill="#22b0b2" fill-opacity="0.85"/>
<circle cx="442.4" cy="610.8" r="2.35" fill="#22b0b2" fill-opacity="0.85"/>
<circle cx="467.8" cy="407.4" r="2.35" fill="#22b0b2" fill-opacity="0.85"/>
<circle cx="451.5" cy="710.3" r="2.35" fill="#22b0b2" fill-opacity="0.85"/>
<circle cx="476.1" cy="684.7" r="2.35" fill="#22b0b2" fill-opacity="0.85"/>
<circle cx="481.7" cy="639.0" r="2.35" fill="#22b0b2" fill-opacity="0.85"/>
<circle cx="444.4" cy="471.3" r="2.35" fill="#22b0b2" fill-opacity="0.85"/>
<circle cx="458.2" cy="489.7" r="2.35" fill="#22b0b2" fill-opacity="0.85"/>
<circle cx="477.8" cy="472.0" r="2.35" fill="#22b0b2" fill-opacity="0.85"/>
<circle cx="444.5" cy="612.2" r="2.35" fill="#22b0b2" fill-opacity="0.85"/>
<circle cx="459.6" cy="355.5" r="2.35" fill="#22b0b2" fill-opacity="0.85"/>
<circle cx="471.6" cy="364.3" r="2.35" fill="#22b0b2" fill-opacity="0.85"/>
<circle cx="477.8" cy="475.0" r="2.35" fill="#22b0b2" fill-opacity="0.85"/>
<circle cx="460.9" cy="512.1" r="2.35" fill="#22b0b2" fill-opacity="0.85"/>
<circle cx="471.9" cy="707.5" r="2.35" fill="#22b0b2" fill-opacity="0.85"/>
<circle cx="463.5" cy="573.8" r="2.35" fill="#22b0b2" fill-opacity="0.85"/>
<circle cx="446.2" cy="365.4" r="2.35" fill="#22b0b2" fill-opacity="0.85"/>
<circle cx="442.5" cy="463.9" r="2.35" fill="#22b0b2" fill-opacity="0.85"/>
<circle cx="476.8" cy="487.0" r="2.35" fill="#22b0b2" fill-opacity="0.85"/>
<circle cx="465.1" cy="617.4" r="2.35" fill="#22b0b2" fill-opacity="0.85"/>
<circle cx="469.2" cy="324.9" r="2.35" fill="#22b0b2" fill-opacity="0.85"/>
<circle cx="451.7" cy="540.4" r="2.35" fill="#22b0b2" fill-opacity="0.85"/>
<circle cx="456.6" cy="705.5" r="2.35" fill="#22b0b2" fill-opacity="0.85"/>
<circle cx="449.6" cy="578.2" r="2.35" fill="#22b0b2" fill-opacity="0.85"/>
<circle cx="446.6" cy="604.5" r="2.35" fill="#22b0b2" fill-opacity="0.85"/>
<circle cx="470.7" cy="485.6" r="2.35" fill="#22b0b2" fill-opacity="0.85"/>
<circle cx="451.4" cy="626.0" r="2.35" fill="#22b0b2" fill-opacity="0.85"/>
<circle cx="460.5" cy="550.0" r="2.35" fill="#22b0b2" fill-opacity="0.85"/>
<circle cx="456.3" cy="361.2" r="2.35" fill="#22b0b2" fill-opacity="0.85"/>
<circle cx="480.3" cy="607.4" r="2.35" fill="#22b0b2" fill-opacity="0.85"/>
<circle cx="465.8" cy="670.9" r="2.35" fill="#22b0b2" fill-opacity="0.85"/>
<circle cx="477.2" cy="598.5" r="2.35" fill="#22b0b2" fill-opacity="0.85"/>
<circle cx="474.7" cy="538.9" r="2.35" fill="#22b0b2" fill-opacity="0.85"/>
<circle cx="470.5" cy="658.1" r="2.35" fill="#22b0b2" fill-opacity="0.85"/>
<circle cx="461.3" cy="522.0" r="2.35" fill="#22b0b2" fill-opacity="0.85"/>
<circle cx="477.9" cy="461.3" r="2.35" fill="#22b0b2" fill-opacity="0.85"/>
<circle cx="453.5" cy="683.3" r="2.35" fill="#22b0b2" fill-opacity="0.85"/>
<circle cx="449.8" cy="591.5" r="2.35" fill="#22b0b2" fill-opacity="0.85"/>
<circle cx="453.1" cy="705.1" r="2.35" fill="#22b0b2" fill-opacity="0.85"/>
<circle cx="472.1" cy="645.0" r="2.35" fill="#22b0b2" fill-opacity="0.85"/>
<circle cx="445.6" cy="568.7" r="2.35" fill="#22b0b2" fill-opacity="0.85"/>
<circle cx="461.6" cy="600.9" r="2.35" fill="#22b0b2" fill-opacity="0.85"/>
<circle cx="448.1" cy="590.9" r="2.35" fill="#22b0b2" fill-opacity="0.85"/>
<circle cx="441.0" cy="700.5" r="2.35" fill="#22b0b2" fill-opacity="0.85"/>
<circle cx="474.3" cy="269.0" r="2.35" fill="#22b0b2" fill-opacity="0.85"/>
<circle cx="472.8" cy="695.6" r="2.35" fill="#22b0b2" fill-opacity="0.85"/>
<circle cx="465.9" cy="298.3" r="2.35" fill="#22b0b2" fill-opacity="0.85"/>
<circle cx="462.5" cy="685.6" r="2.35" fill="#22b0b2" fill-opacity="0.85"/>
<circle cx="449.0" cy="572.3" r="2.35" fill="#22b0b2" fill-opacity="0.85"/>
<circle cx="440.9" cy="540.7" r="2.35" fill="#22b0b2" fill-opacity="0.85"/>
<circle cx="469.5" cy="370.0" r="2.35" fill="#22b0b2" fill-opacity="0.85"/>
<circle cx="482.6" cy="512.2" r="2.35" fill="#22b0b2" fill-opacity="0.85"/>
<circle cx="451.8" cy="503.9" r="2.35" fill="#22b0b2" fill-opacity="0.85"/>
<circle cx="446.7" cy="622.2" r="2.35" fill="#22b0b2" fill-opacity="0.85"/>
<circle cx="475.3" cy="718.2" r="2.35" fill="#22b0b2" fill-opacity="0.85"/>
<circle cx="453.8" cy="416.3" r="2.35" fill="#22b0b2" fill-opacity="0.85"/>
<circle cx="469.2" cy="650.4" r="2.35" fill="#22b0b2" fill-opacity="0.85"/>
<circle cx="482.2" cy="412.5" r="2.35" fill="#22b0b2" fill-opacity="0.85"/>
<circle cx="475.8" cy="658.5" r="2.35" fill="#22b0b2" fill-opacity="0.85"/>
<circle cx="473.9" cy="421.9" r="2.35" fill="#22b0b2" fill-opacity="0.85"/>
<circle cx="448.8" cy="600.3" r="2.35" fill="#22b0b2" fill-opacity="0.85"/>
<circle cx="454.9" cy="425.0" r="2.35" fill="#22b0b2" fill-opacity="0.85"/>
<circle cx="465.3" cy="589.4" r="2.35" fill="#22b0b2" fill-opacity="0.85"/>
<circle cx="477.9" cy="589.2" r="2.35" fill="#22b0b2" fill-opacity="0.85"/>
<circle cx="442.4" cy="625.3" r="2.35" fill="#22b0b2" fill-opacity="0.85"/>
<circle cx="468.8" cy="532.7" r="2.35" fill="#22b0b2" fill-opacity="0.85"/>
<circle cx="472.3" cy="428.4" r="2.35" fill="#22b0b2" fill-opacity="0.85"/>
<circle cx="483.0" cy="377.8" r="2.35" fill="#22b0b2" fill-opacity="0.85"/>
<circle cx="463.0" cy="556.6" r="2.35" fill="#22b0b2" fill-opacity="0.85"/>
<circle cx="454.0" cy="663.6" r="2.35" fill="#22b0b2" fill-opacity="0.85"/>
<circle cx="444.1" cy="527.9" r="2.35" fill="#22b0b2" fill-opacity="0.85"/>
<circle cx="447.9" cy="492.0" r="2.35" fill="#22b0b2" fill-opacity="0.85"/>
<circle cx="484.1" cy="570.0" r="2.35" fill="#22b0b2" fill-opacity="0.85"/>
<circle cx="442.3" cy="693.3" r="2.35" fill="#22b0b2" fill-opacity="0.85"/>
<circle cx="449.1" cy="570.9" r="2.35" fill="#22b0b2" fill-opacity="0.85"/>
<circle cx="440.6" cy="480.2" r="2.35" fill="#22b0b2" fill-opacity="0.85"/>
<circle cx="479.0" cy="415.5" r="2.35" fill="#22b0b2" fill-opacity="0.85"/>
<circle cx="459.6" cy="448.5" r="2.35" fill="#22b0b2" fill-opacity="0.85"/>
<circle cx="470.3" cy="611.6" r="2.35" fill="#22b0b2" fill-opacity="0.85"/>
<circle cx="459.5" cy="550.2" r="2.35" fill="#22b0b2" fill-opacity="0.85"/>
<circle cx="460.2" cy="597.2" r="2.35" fill="#22b0b2" fill-opacity="0.85"/>
<circle cx="477.7" cy="499.3" r="2.35" fill="#22b0b2" fill-opacity="0.85"/>
<circle cx="447.9" cy="378.5" r="2.35" fill="#22b0b2" fill-opacity="0.85"/>
<circle cx="460.4" cy="608.4" r="2.35" fill="#22b0b2" fill-opacity="0.85"/>
<circle cx="456.2" cy="533.9" r="2.35" fill="#22b0b2" fill-opacity="0.85"/>
<circle cx="444.3" cy="645.8" r="2.35" fill="#22b0b2" fill-opacity="0.85"/>
<circle cx="461.2" cy="601.1" r="2.35" fill="#22b0b2" fill-opacity="0.85"/>
<circle cx="481.4" cy="320.3" r="2.35" fill="#22b0b2" fill-opacity="0.85"/>
<circle cx="484.3" cy="400.5" r="2.35" fill="#22b0b2" fill-opacity="0.85"/>
<circle cx="468.4" cy="343.6" r="2.35" fill="#22b0b2" fill-opacity="0.85"/>
<circle cx="443.2" cy="433.7" r="2.35" fill="#22b0b2" fill-opacity="0.85"/>
<circle cx="467.9" cy="495.9" r="2.35" fill="#22b0b2" fill-opacity="0.85"/>
<circle cx="466.2" cy="608.0" r="2.35" fill="#22b0b2" fill-opacity="0.85"/>
<circle cx="462.1" cy="352.0" r="2.35" fill="#22b0b2" fill-opacity="0.85"/>
<circle cx="454.0" cy="505.6" r="2.35" fill="#22b0b2" fill-opacity="0.85"/>
<circle cx="480.3" cy="596.0" r="2.35" fill="#22b0b2" fill-opacity="0.85"/>
<circle cx="449.0" cy="718.2" r="2.35" fill="#22b0b2" fill-opacity="0.85"/>
<circle cx="460.6" cy="495.1" r="2.35" fill="#22b0b2" fill-opacity="0.85"/>
<circle cx="470.2" cy="695.1" r="2.35" fill="#22b0b2" fill-opacity="0.85"/>
<circle cx="466.6" cy="588.5" r="2.35" fill="#22b0b2" fill-opacity="0.85"/>
<circle cx="464.3" cy="576.9" r="2.35" fill="#22b0b2" fill-opacity="0.85"/>
<circle cx="458.3" cy="533.4" r="2.35" fill="#22b0b2" fill-opacity="0.85"/>
<circle cx="448.6" cy="683.4" r="2.35" fill="#22b0b2" fill-opacity="0.85"/>
<circle cx="465.2" cy="386.1" r="2.35" fill="#22b0b2" fill-opacity="0.85"/>
<circle cx="479.3" cy="684.2" r="2.35" fill="#22b0b2" fill-opacity="0.85"/>
<circle cx="444.8" cy="619.4" r="2.35" fill="#22b0b2" fill-opacity="0.85"/>
<circle cx="451.8" cy="544.8" r="2.35" fill="#22b0b2" fill-opacity="0.85"/>
<circle cx="465.4" cy="557.9" r="2.35" fill="#22b0b2" fill-opacity="0.85"/>
<circle cx="466.3" cy="631.3" r="2.35" fill="#22b0b2" fill-opacity="0.85"/>
<circle cx="463.6" cy="683.9" r="2.35" fill="#22b0b2" fill-opacity="0.85"/>
<circle cx="444.1" cy="525.4" r="2.35" fill="#22b0b2" fill-opacity="0.85"/>
<circle cx="443.8" cy="579.1" r="2.35" fill="#22b0b2" fill-opacity="0.85"/>
<circle cx="479.4" cy="570.9" r="2.35" fill="#22b0b2" fill-opacity="0.85"/>
<circle cx="472.7" cy="538.2" r="2.35" fill="#22b0b2" fill-opacity="0.85"/>
<circle cx="445.7" cy="466.9" r="2.35" fill="#22b0b2" fill-opacity="0.85"/>
<circle cx="473.0" cy="272.6" r="2.35" fill="#22b0b2" fill-opacity="0.85"/>
<circle cx="477.9" cy="688.3" r="2.35" fill="#22b0b2" fill-opacity="0.85"/>
<circle cx="448.2" cy="583.3" r="2.35" fill="#22b0b2" fill-opacity="0.85"/>
<circle cx="465.8" cy="348.0" r="2.35" fill="#22b0b2" fill-opacity="0.85"/>
<circle cx="446.7" cy="455.9" r="2.35" fill="#22b0b2" fill-opacity="0.85"/>
<circle cx="443.1" cy="455.1" r="2.35" fill="#22b0b2" fill-opacity="0.85"/>
<circle cx="457.3" cy="626.4" r="2.35" fill="#22b0b2" fill-opacity="0.85"/>
<circle cx="467.2" cy="723.0" r="2.35" fill="#22b0b2" fill-opacity="0.85"/>
<circle cx="454.0" cy="637.6" r="2.35" fill="#22b0b2" fill-opacity="0.85"/>
<circle cx="459.7" cy="485.5" r="2.35" fill="#22b0b2" fill-opacity="0.85"/>
<circle cx="468.5" cy="386.8" r="2.35" fill="#22b0b2" fill-opacity="0.85"/>
<circle cx="465.8" cy="396.3" r="2.35" fill="#22b0b2" fill-opacity="0.85"/>
<circle cx="479.7" cy="371.2" r="2.35" fill="#22b0b2" fill-opacity="0.85"/>
<circle cx="474.0" cy="658.7" r="2.35" fill="#22b0b2" fill-opacity="0.85"/>
<circle cx="474.9" cy="596.5" r="2.35" fill="#22b0b2" fill-opacity="0.85"/>
<circle cx="477.7" cy="494.5" r="2.35" fill="#22b0b2" fill-opacity="0.85"/>
<circle cx="457.3" cy="679.8" r="2.35" fill="#22b0b2" fill-opacity="0.85"/>
<circle cx="483.2" cy="475.4" r="2.35" fill="#22b0b2" fill-opacity="0.85"/>
<circle cx="442.5" cy="480.6" r="2.35" fill="#22b0b2" fill-opacity="0.85"/>
<circle cx="445.0" cy="520.3" r="2.35" fill="#22b0b2" fill-opacity="0.85"/>
<circle cx="476.6" cy="538.7" r="2.35" fill="#22b0b2" fill-opacity="0.85"/>
<circle cx="482.1" cy="683.9" r="2.35" fill="#22b0b2" fill-opacity="0.85"/>
<circle cx="452.0" cy="496.3" r="2.35" fill="#22b0b2" fill-opacity="0.85"/>
<circle cx="460.6" cy="646.9" r="2.35" fill="#22b0b2" fill-opacity="0.85"/>
<circle cx="466.7" cy="417.2" r="2.35" fill="#22b0b2" fill-opacity="0.85"/>
<circle cx="441.4" cy="683.7" r="2.35" fill="#22b0b2" fill-opacity="0.85"/>
<circle cx="476.5" cy="685.0" r="2.35" fill="#22b0b2" fill-opacity="0.85"/>
<circle cx="465.4" cy="650.6" r="2.35" fill="#22b0b2" fill-opacity="0.85"/>
<circle cx="471.4" cy="609.9" r="2.35" fill="#22b0b2" fill-opacity="0.85"/>
<circle cx="447.0" cy="586.2" r="2.35" fill="#22b0b2" fill-opacity="0.85"/>
<circle cx="464.7" cy="394.3" r="2.35" fill="#22b0b2" fill-opacity="0.85"/>
<circle cx="476.9" cy="491.5" r="2.35" fill="#22b0b2" fill-opacity="0.85"/>
<circle cx="441.1" cy="354.2" r="2.35" fill="#22b0b2" fill-opacity="0.85"/>
<circle cx="447.3" cy="596.2" r="2.35" fill="#22b0b2" fill-opacity="0.85"/>
<circle cx="479.8" cy="554.5" r="2.35" fill="#22b0b2" fill-opacity="0.85"/>
<circle cx="442.1" cy="440.3" r="2.35" fill="#22b0b2" fill-opacity="0.85"/>
<circle cx="477.3" cy="652.0" r="2.35" fill="#22b0b2" fill-opacity="0.85"/>
<circle cx="458.2" cy="494.8" r="2.35" fill="#22b0b2" fill-opacity="0.85"/>
<circle cx="447.6" cy="561.5" r="2.35" fill="#22b0b2" fill-opacity="0.85"/>
<circle cx="458.2" cy="412.9" r="2.35" fill="#22b0b2" fill-opacity="0.85"/>
<circle cx="468.0" cy="395.8" r="2.35" fill="#22b0b2" fill-opacity="0.85"/>
<circle cx="455.3" cy="698.9" r="2.35" fill="#22b0b2" fill-opacity="0.85"/>
<circle cx="480.7" cy="636.1" r="2.35" fill="#22b0b2" fill-opacity="0.85"/>
<circle cx="442.5" cy="525.2" r="2.35" fill="#22b0b2" fill-opacity="0.85"/>
<circle cx="456.7" cy="657.9" r="2.35" fill="#22b0b2" fill-opacity="0.85"/>
<circle cx="466.5" cy="563.5" r="2.35" fill="#22b0b2" fill-opacity="0.85"/>
<circle cx="456.4" cy="584.4" r="2.35" fill="#22b0b2" fill-opacity="0.85"/>
<circle cx="466.6" cy="726.6" r="2.35" fill="#22b0b2" fill-opacity="0.85"/>
<circle cx="441.4" cy="598.5" r="2.35" fill="#22b0b2" fill-opacity="0.85"/>
<circle cx="484.9" cy="565.7" r="2.35" fill="#22b0b2" fill-opacity="0.85"/>
<circle cx="447.1" cy="711.1" r="2.35" fill="#22b0b2" fill-opacity="0.85"/>
<circle cx="452.8" cy="497.7" r="2.35" fill="#22b0b2" fill-opacity="0.85"/>
<circle cx="463.0" cy="614.2" r="2.35" fill="#22b0b2" fill-opacity="0.85"/>
<circle cx="466.1" cy="617.2" r="2.35" fill="#22b0b2" fill-opacity="0.85"/>
<circle cx="483.6" cy="545.7" r="2.35" fill="#22b0b2" fill-opacity="0.85"/>
<circle cx="442.0" cy="268.9" r="2.35" fill="#22b0b2" fill-opacity="0.85"/>
<circle cx="475.2" cy="534.8" r="2.35" fill="#22b0b2" fill-opacity="0.85"/>
<circle cx="475.3" cy="396.2" r="2.35" fill="#22b0b2" fill-opacity="0.85"/>
<circle cx="469.1" cy="510.4" r="2.35" fill="#22b0b2" fill-opacity="0.85"/>
<circle cx="453.2" cy="590.9" r="2.35" fill="#22b0b2" fill-opacity="0.85"/>
<circle cx="479.8" cy="443.4" r="2.35" fill="#22b0b2" fill-opacity="0.85"/>
<circle cx="471.2" cy="359.7" r="2.35" fill="#22b0b2" fill-opacity="0.85"/>
<circle cx="474.8" cy="606.2" r="2.35" fill="#22b0b2" fill-opacity="0.85"/>
<circle cx="463.4" cy="474.7" r="2.35" fill="#22b0b2" fill-opacity="0.85"/>
<circle cx="456.3" cy="509.7" r="2.35" fill="#22b0b2" fill-opacity="0.85"/>
<circle cx="458.8" cy="538.1" r="2.35" fill="#22b0b2" fill-opacity="0.85"/>
<circle cx="455.7" cy="705.1" r="2.35" fill="#22b0b2" fill-opacity="0.85"/>
<circle cx="485.0" cy="601.2" r="2.35" fill="#22b0b2" fill-opacity="0.85"/>
<circle cx="457.0" cy="560.0" r="2.35" fill="#22b0b2" fill-opacity="0.85"/>
<circle cx="451.1" cy="623.4" r="2.35" fill="#22b0b2" fill-opacity="0.85"/>
<circle cx="446.6" cy="594.4" r="2.35" fill="#22b0b2" fill-opacity="0.85"/>
<circle cx="479.7" cy="726.1" r="2.35" fill="#22b0b2" fill-opacity="0.85"/>
<circle cx="460.5" cy="567.4" r="2.35" fill="#22b0b2" fill-opacity="0.85"/>
<circle cx="454.1" cy="532.1" r="2.35" fill="#22b0b2" fill-opacity="0.85"/>
<circle cx="443.5" cy="658.2" r="2.35" fill="#22b0b2" fill-opacity="0.85"/>
<circle cx="454.4" cy="606.9" r="2.35" fill="#22b0b2" fill-opacity="0.85"/>
<circle cx="465.3" cy="479.0" r="2.35" fill="#22b0b2" fill-opacity="0.85"/>
<circle cx="455.8" cy="360.3" r="2.35" fill="#22b0b2" fill-opacity="0.85"/>
<circle cx="466.8" cy="369.1" r="2.35" fill="#22b0b2" fill-opacity="0.85"/>
<circle cx="448.5" cy="697.2" r="2.35" fill="#22b0b2" fill-opacity="0.85"/>
<circle cx="484.9" cy="528.1" r="2.35" fill="#22b0b2" fill-opacity="0.85"/>
<circle cx="475.3" cy="592.4" r="2.35" fill="#22b0b2" fill-opacity="0.85"/>
<circle cx="479.6" cy="573.8" r="2.35" fill="#22b0b2" fill-opacity="0.85"/>
<circle cx="462.3" cy="702.1" r="2.35" fill="#22b0b2" fill-opacity="0.85"/>
<circle cx="452.9" cy="381.1" r="2.35" fill="#22b0b2" fill-opacity="0.85"/>
<circle cx="441.5" cy="618.3" r="2.35" fill="#22b0b2" fill-opacity="0.85"/>
<circle cx="452.6" cy="660.3" r="2.35" fill="#22b0b2" fill-opacity="0.85"/>
<circle cx="450.3" cy="486.5" r="2.35" fill="#22b0b2" fill-opacity="0.85"/>
<circle cx="449.5" cy="581.3" r="2.35" fill="#22b0b2" fill-opacity="0.85"/>
<circle cx="479.4" cy="520.6" r="2.35" fill="#22b0b2" fill-opacity="0.85"/>
<circle cx="449.4" cy="505.4" r="2.35" fill="#22b0b2" fill-opacity="0.85"/>
<circle cx="483.8" cy="476.6" r="2.35" fill="#22b0b2" fill-opacity="0.85"/>
<circle cx="444.1" cy="521.2" r="2.35" fill="#22b0b2" fill-opacity="0.85"/>
<circle cx="479.9" cy="434.7" r="2.35" fill="#22b0b2" fill-opacity="0.85"/>
<circle cx="446.6" cy="596.5" r="2.35" fill="#22b0b2" fill-opacity="0.85"/>
<circle cx="464.7" cy="649.2" r="2.35" fill="#22b0b2" fill-opacity="0.85"/>
<circle cx="469.3" cy="394.3" r="2.35" fill="#22b0b2" fill-opacity="0.85"/>
<circle cx="450.1" cy="368.2" r="2.35" fill="#22b0b2" fill-opacity="0.85"/>
<circle cx="474.2" cy="600.3" r="2.35" fill="#22b0b2" fill-opacity="0.85"/>
<circle cx="458.7" cy="505.1" r="2.35" fill="#22b0b2" fill-opacity="0.85"/>
<circle cx="455.7" cy="495.0" r="2.35" fill="#22b0b2" fill-opacity="0.85"/>
<circle cx="459.1" cy="706.3" r="2.35" fill="#22b0b2" fill-opacity="0.85"/>
<circle cx="468.7" cy="711.1" r="2.35" fill="#22b0b2" fill-opacity="0.85"/>
<circle cx="462.7" cy="598.3" r="2.35" fill="#22b0b2" fill-opacity="0.85"/>
<circle cx="452.1" cy="522.3" r="2.35" fill="#22b0b2" fill-opacity="0.85"/>
<circle cx="441.1" cy="564.7" r="2.35" fill="#22b0b2" fill-opacity="0.85"/>
<circle cx="465.9" cy="366.9" r="2.35" fill="#22b0b2" fill-opacity="0.85"/>
<circle cx="443.0" cy="280.3" r="2.35" fill="#22b0b2" fill-opacity="0.85"/>
<circle cx="473.1" cy="516.9" r="2.35" fill="#22b0b2" fill-opacity="0.85"/>
<circle cx="444.7" cy="599.7" r="2.35" fill="#22b0b2" fill-opacity="0.85"/>
<circle cx="446.9" cy="664.2" r="2.35" fill="#22b0b2" fill-opacity="0.85"/>
<circle cx="444.5" cy="460.6" r="2.35" fill="#22b0b2" fill-opacity="0.85"/>
<circle cx="459.5" cy="431.9" r="2.35" fill="#22b0b2" fill-opacity="0.85"/>
<circle cx="467.0" cy="542.2" r="2.35" fill="#22b0b2" fill-opacity="0.85"/>
<circle cx="470.1" cy="536.7" r="2.35" fill="#22b0b2" fill-opacity="0.85"/>
<circle cx="455.4" cy="521.0" r="2.35" fill="#22b0b2" fill-opacity="0.85"/>
<circle cx="452.1" cy="474.2" r="2.35" fill="#22b0b2" fill-opacity="0.85"/>
<circle cx="474.8" cy="484.1" r="2.35" fill="#22b0b2" fill-opacity="0.85"/>
<circle cx="454.4" cy="455.2" r="2.35" fill="#22b0b2" fill-opacity="0.85"/>
<circle cx="484.5" cy="457.3" r="2.35" fill="#22b0b2" fill-opacity="0.85"/>
<circle cx="453.0" cy="567.4" r="2.35" fill="#22b0b2" fill-opacity="0.85"/>
<circle cx="482.8" cy="547.3" r="2.35" fill="#22b0b2" fill-opacity="0.85"/>
<circle cx="440.9" cy="675.6" r="2.35" fill="#22b0b2" fill-opacity="0.85"/>
<circle cx="470.0" cy="561.5" r="2.35" fill="#22b0b2" fill-opacity="0.85"/>
<circle cx="456.8" cy="456.4" r="2.35" fill="#22b0b2" fill-opacity="0.85"/>
<circle cx="450.8" cy="275.4" r="2.35" fill="#22b0b2" fill-opacity="0.85"/>
<circle cx="444.5" cy="467.1" r="2.35" fill="#22b0b2" fill-opacity="0.85"/>
<circle cx="446.5" cy="718.1" r="2.35" fill="#22b0b2" fill-opacity="0.85"/>
<circle cx="463.1" cy="705.2" r="2.35" fill="#22b0b2" fill-opacity="0.85"/>
<circle cx="448.7" cy="536.6" r="2.35" fill="#22b0b2" fill-opacity="0.85"/>
<circle cx="457.0" cy="359.1" r="2.35" fill="#22b0b2" fill-opacity="0.85"/>
<circle cx="448.5" cy="667.4" r="2.35" fill="#22b0b2" fill-opacity="0.85"/>
<circle cx="482.0" cy="475.3" r="2.35" fill="#22b0b2" fill-opacity="0.85"/>
<circle cx="444.4" cy="62.9" r="4.5" fill="#b0e8e8" fill-opacity="0.3"/><circle cx="444.4" cy="62.9" r="2.8" fill="#40a8a8"/>
<circle cx="449.4" cy="110.2" r="4.5" fill="#b0e8e8" fill-opacity="0.3"/><circle cx="449.4" cy="110.2" r="2.8" fill="#40a8a8"/>
<circle cx="471.3" cy="167.0" r="4.5" fill="#b0e8e8" fill-opacity="0.3"/><circle cx="471.3" cy="167.0" r="2.8" fill="#40a8a8"/>
<circle cx="447.3" cy="200.8" r="4.5" fill="#b0e8e8" fill-opacity="0.3"/><circle cx="447.3" cy="200.8" r="2.8" fill="#40a8a8"/>
<circle cx="467.7" cy="198.7" r="4.5" fill="#b0e8e8" fill-opacity="0.3"/><circle cx="467.7" cy="198.7" r="2.8" fill="#40a8a8"/>
<circle cx="448.8" cy="239.8" r="4.5" fill="#b0e8e8" fill-opacity="0.3"/><circle cx="448.8" cy="239.8" r="2.8" fill="#40a8a8"/>
<line x1="179.5" y1="440.8" x2="179.5" y2="602.9" stroke="#d86c76" stroke-width="2"/>
<line x1="179.5" y1="728.2" x2="179.5" y2="833.2" stroke="#d86c76" stroke-width="2"/>
<rect x="143.5" y="602.9" width="72" height="125.3" fill="none" stroke="#e26a72" stroke-width="1.6"/>
<line x1="143.5" y1="676.8" x2="215.5" y2="676.8" stroke="#e8505a" stroke-width="4"/>
<line x1="257" y1="446.5" x2="257" y2="620.3" stroke="#1aa6a6" stroke-width="2.8"/>
<line x1="257" y1="740.1" x2="257" y2="830.3" stroke="#1aa6a6" stroke-width="2.8"/>
<rect x="221" y="620.3" width="72" height="119.7" fill="none" stroke="#1fb0b0" stroke-width="2.4"/>
<line x1="221" y1="697.8" x2="293" y2="697.8" stroke="#17a2aa" stroke-width="3.5"/>
<line x1="386.5" y1="217.8" x2="386.5" y2="437.9" stroke="#d86c76" stroke-width="2"/>
<line x1="386.5" y1="594.2" x2="386.5" y2="743.4" stroke="#d86c76" stroke-width="2"/>
<rect x="350.5" y="437.9" width="72" height="156.4" fill="none" stroke="#e26a72" stroke-width="1.6"/>
<line x1="350.5" y1="524.7" x2="422.5" y2="524.7" stroke="#e8505a" stroke-width="4"/>
<line x1="463" y1="249.6" x2="463" y2="471.2" stroke="#1aa6a6" stroke-width="2.8"/>
<line x1="463" y1="620.3" x2="463" y2="728.9" stroke="#1aa6a6" stroke-width="2.8"/>
<rect x="427" y="471.2" width="72" height="149.1" fill="none" stroke="#1fb0b0" stroke-width="2.4"/>
<line x1="427" y1="555.1" x2="499" y2="555.1" stroke="#17a2aa" stroke-width="3.5"/>
<rect x="95" y="26" width="454" height="843" fill="none" stroke="#4d5155" stroke-width="3.6"/>
<line x1="89" y1="731.8" x2="95" y2="731.8" stroke="#45484b" stroke-width="2"/>
<text transform="translate(89.5,740.8) scale(1.16,1)" text-anchor="end" font-family="Liberation Serif" font-size="26" fill="#000">10</text>
<line x1="89" y1="587.0" x2="95" y2="587.0" stroke="#45484b" stroke-width="2"/>
<text transform="translate(89.5,596.0) scale(1.16,1)" text-anchor="end" font-family="Liberation Serif" font-size="26" fill="#000">20</text>
<line x1="89" y1="442.2" x2="95" y2="442.2" stroke="#45484b" stroke-width="2"/>
<text transform="translate(89.5,451.2) scale(1.16,1)" text-anchor="end" font-family="Liberation Serif" font-size="26" fill="#000">30</text>
<line x1="89" y1="297.4" x2="95" y2="297.4" stroke="#45484b" stroke-width="2"/>
<text transform="translate(89.5,306.4) scale(1.16,1)" text-anchor="end" font-family="Liberation Serif" font-size="26" fill="#000">40</text>
<line x1="89" y1="152.6" x2="95" y2="152.6" stroke="#45484b" stroke-width="2"/>
<text transform="translate(89.5,161.6) scale(1.16,1)" text-anchor="end" font-family="Liberation Serif" font-size="26" fill="#000">50</text>
<line x1="219" y1="869" x2="219" y2="874" stroke="#45484b" stroke-width="2.6"/>
<line x1="424.5" y1="869" x2="424.5" y2="874" stroke="#45484b" stroke-width="2.6"/>
<text x="226" y="907.5" text-anchor="middle" font-family="Liberation Serif" font-size="33" fill="#000">Late pregnancy</text>
<text x="441" y="907.5" text-anchor="middle" font-family="Liberation Serif" font-size="33" fill="#000">Postpartum</text>
<text transform="translate(27,500) rotate(-90)" text-anchor="middle" font-family="Liberation Serif" font-size="33" fill="#000">OC levels (ng/ml)</text>
<text transform="translate(575,402) scale(1.17,1)" font-family="Liberation Serif" font-size="24.5" fill="#000">Group</text>
<line x1="593" y1="435.0" x2="593" y2="458.0" stroke="#ee6468" stroke-width="2"/>
<rect x="582" y="439.3" width="22" height="14.4" fill="#fff" stroke="#ee6468" stroke-width="2.2"/>
<line x1="582" y1="446.5" x2="604" y2="446.5" stroke="#ee6468" stroke-width="2.5"/>
<line x1="593" y1="460.0" x2="593" y2="483.0" stroke="#22b0b2" stroke-width="2"/>
<rect x="582" y="464.3" width="22" height="14.4" fill="#fff" stroke="#22b0b2" stroke-width="2.2"/>
<line x1="582" y1="471.5" x2="604" y2="471.5" stroke="#22b0b2" stroke-width="2.5"/>
<text transform="translate(612,456) scale(1.1,1)" font-family="Liberation Serif" font-size="23" fill="#000">NGT</text>
<text transform="translate(611,484) scale(1.1,1)" font-family="Liberation Serif" font-size="23" fill="#000">AGM</text>
<text x="4" y="24" font-family="Liberation Sans" font-weight="bold" font-size="30" fill="#000">A</text>
<line x1="671" y1="18" x2="671" y2="882" stroke="#f6f6f6" stroke-width="3"/>
<line x1="791.5" y1="734.6" x2="1252" y2="734.6" stroke="#f0f0f0" stroke-width="3.5"/>
<line x1="791.5" y1="597.8" x2="1252" y2="597.8" stroke="#f0f0f0" stroke-width="3.5"/>
<line x1="791.5" y1="460.9" x2="1252" y2="460.9" stroke="#f0f0f0" stroke-width="3.5"/>
<line x1="791.5" y1="324.1" x2="1252" y2="324.1" stroke="#f0f0f0" stroke-width="3.5"/>
<line x1="791.5" y1="187.2" x2="1252" y2="187.2" stroke="#f0f0f0" stroke-width="3.5"/>
<line x1="791.5" y1="50.4" x2="1252" y2="50.4" stroke="#f0f0f0" stroke-width="3.5"/>
<line x1="944" y1="23" x2="944" y2="869.5" stroke="#f0f0f0" stroke-width="3.5"/>
<line x1="1098" y1="23" x2="1098" y2="869.5" stroke="#f0f0f0" stroke-width="3.5"/>
<line x1="944" y1="625" x2="1098" y2="365" stroke="#62c6c6" stroke-width="7"/>
<line x1="944" y1="813.5" x2="944" y2="438" stroke="#62c6c6" stroke-width="6.5"/>
<line x1="935" y1="813.5" x2="953" y2="813.5" stroke="#62c6c6" stroke-width="6.5"/>
<line x1="935" y1="438" x2="953" y2="438" stroke="#62c6c6" stroke-width="6.5"/>
<line x1="1098" y1="578.5" x2="1098" y2="152" stroke="#62c6c6" stroke-width="6.5"/>
<line x1="1089" y1="578.5" x2="1107" y2="578.5" stroke="#62c6c6" stroke-width="6.5"/>
<line x1="1089" y1="152" x2="1107" y2="152" stroke="#62c6c6" stroke-width="6.5"/>
<rect x="935.5" y="617.5" width="17" height="17" fill="#62c6c6"/>
<rect x="1089.5" y="356.5" width="17" height="17" fill="#62c6c6"/>
<line x1="944" y1="587.5" x2="1098" y2="307" stroke="#f4a0a6" stroke-width="6"/>
<line x1="944" y1="795.5" x2="944" y2="380" stroke="#f4a0a6" stroke-width="6.5"/>
<line x1="935" y1="795.5" x2="953" y2="795.5" stroke="#f4a0a6" stroke-width="6.5"/>
<line x1="935" y1="380" x2="953" y2="380" stroke="#f4a0a6" stroke-width="6.5"/>
<line x1="1098" y1="535" x2="1098" y2="77" stroke="#f4a0a6" stroke-width="6.5"/>
<line x1="1089" y1="535" x2="1107" y2="535" stroke="#f4a0a6" stroke-width="6.5"/>
<line x1="1089" y1="77" x2="1107" y2="77" stroke="#f4a0a6" stroke-width="6.5"/>
<circle cx="944" cy="587.5" r="8.5" fill="#f4a0a6"/>
<circle cx="1098" cy="307" r="8.5" fill="#f4a0a6"/>
<rect x="791.5" y="23" width="460.5" height="846.5" fill="none" stroke="#4e5256" stroke-width="2.9"/>
<line x1="773" y1="734.6" x2="791.5" y2="734.6" stroke="#45484b" stroke-width="2.5"/>
<text transform="translate(769,745.2) scale(0.93,1)" text-anchor="end" font-family="Liberation Serif" font-size="35" style="stroke-width:0.25px" fill="#000">10</text>
<line x1="773" y1="597.8" x2="791.5" y2="597.8" stroke="#45484b" stroke-width="2.5"/>
<text transform="translate(769,608.4) scale(0.93,1)" text-anchor="end" font-family="Liberation Serif" font-size="35" style="stroke-width:0.25px" fill="#000">15</text>
<line x1="773" y1="460.9" x2="791.5" y2="460.9" stroke="#45484b" stroke-width="2.5"/>
<text transform="translate(769,471.5) scale(0.93,1)" text-anchor="end" font-family="Liberation Serif" font-size="35" style="stroke-width:0.25px" fill="#000">20</text>
<line x1="773" y1="324.1" x2="791.5" y2="324.1" stroke="#45484b" stroke-width="2.5"/>
<text transform="translate(769,334.7) scale(0.93,1)" text-anchor="end" font-family="Liberation Serif" font-size="35" style="stroke-width:0.25px" fill="#000">25</text>
<line x1="773" y1="187.2" x2="791.5" y2="187.2" stroke="#45484b" stroke-width="2.5"/>
<text transform="translate(769,197.8) scale(0.93,1)" text-anchor="end" font-family="Liberation Serif" font-size="35" style="stroke-width:0.25px" fill="#000">30</text>
<line x1="773" y1="50.4" x2="791.5" y2="50.4" stroke="#45484b" stroke-width="2.5"/>
<text transform="translate(769,61.0) scale(0.93,1)" text-anchor="end" font-family="Liberation Serif" font-size="35" style="stroke-width:0.25px" fill="#000">35</text>
<line x1="944" y1="869.5" x2="944" y2="879.5" stroke="#45484b" stroke-width="2.5"/>
<line x1="1098" y1="869.5" x2="1098" y2="879.5" stroke="#45484b" stroke-width="2.5"/>
<line x1="1252" y1="869.5" x2="1252" y2="879.5" stroke="#45484b" stroke-width="2.5"/>
<text x="925" y="907" text-anchor="middle" font-family="Liberation Serif" font-size="33" fill="#000">Late pregnancy</text>
<text x="1115" y="907" text-anchor="middle" font-family="Liberation Serif" font-size="33" fill="#000">Postpartum</text>
<text transform="translate(714,496) rotate(-90)" text-anchor="middle" font-family="Liberation Serif" font-size="37" fill="#000">OC levels (ng/ml)</text>
<text x="1280" y="408" font-family="Liberation Serif" font-size="27" style="stroke-width:0.2px" fill="#000">Group</text>
<line x1="1287" y1="442.5" x2="1326" y2="442.5" stroke="#f4a0a6" stroke-width="5"/>
<circle cx="1306.5" cy="442.5" r="7.5" fill="#f4a0a6"/>
<line x1="1287" y1="468" x2="1326" y2="468" stroke="#62c6c6" stroke-width="5"/>
<rect x="1298.5" y="461" width="15" height="15" fill="#62c6c6"/>
<text x="1346" y="450.5" font-family="Liberation Serif" font-size="24.5" style="stroke-width:0.2px" fill="#000">NGT</text>
<text x="1346" y="475.5" font-family="Liberation Serif" font-size="24.5" style="stroke-width:0.2px" fill="#000">AGM</text>
<text x="691.5" y="24" font-family="Liberation Sans" font-weight="bold" font-size="30" fill="#000">B</text>
</svg></body></html>
